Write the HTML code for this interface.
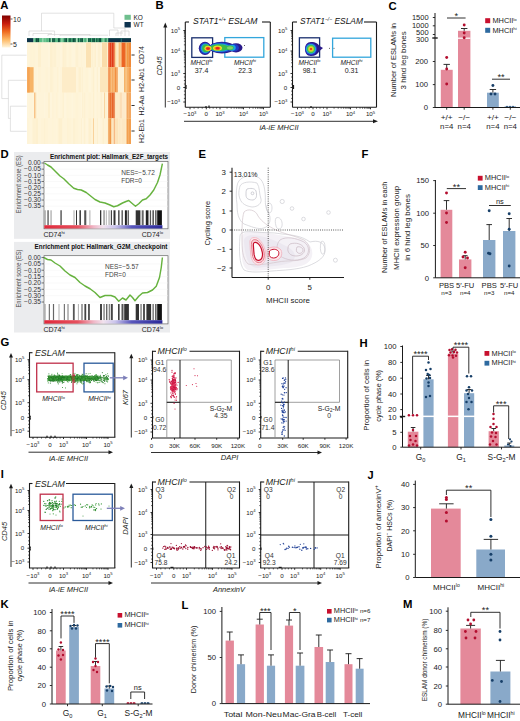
<!DOCTYPE html>
<html><head><meta charset="utf-8"><style>
html,body{margin:0;padding:0;background:#fff;}
svg{display:block;font-family:"Liberation Sans",sans-serif;}
</style></head><body>
<svg width="520" height="721" viewBox="0 0 520 721">
<defs>
<linearGradient id="cbar" x1="0" y1="0" x2="0" y2="1">
<stop offset="0" stop-color="#7f0000"/><stop offset="0.25" stop-color="#c81d0e"/><stop offset="0.5" stop-color="#ef6a1f"/><stop offset="0.75" stop-color="#fdb863"/><stop offset="1" stop-color="#fff5dc"/>
</linearGradient>
<linearGradient id="rb" x1="0" y1="0" x2="1" y2="0">
<stop offset="0" stop-color="#e0283a"/><stop offset="0.28" stop-color="#e6505e"/><stop offset="0.42" stop-color="#f0b8c8"/><stop offset="0.5" stop-color="#f1e2ee"/><stop offset="0.6" stop-color="#cac4ec"/><stop offset="0.74" stop-color="#5856bc"/><stop offset="1" stop-color="#2a2898"/>
</linearGradient>
</defs>
<text x="0.3" y="9.3" font-size="11.3" text-anchor="start" font-weight="bold" fill="#000">A</text>
<rect x="2" y="15.5" width="8.5" height="32" fill="url(#cbar)"/>
<line x1="10.5" y1="19" x2="12.5" y2="19" stroke="#1a1a1a" stroke-width="0.7"/>
<line x1="10.5" y1="44" x2="12.5" y2="44" stroke="#1a1a1a" stroke-width="0.7"/>
<text x="13" y="21.5" font-size="7" text-anchor="start" fill="#222">10</text>
<text x="13" y="46.5" font-size="7" text-anchor="start" fill="#222">5</text>
<rect x="124.5" y="14.8" width="6.3" height="5" fill="#6fbf8e"/>
<rect x="124.5" y="22.0" width="6.3" height="5.5" fill="#0e3450"/>
<text x="133.5" y="19.8" font-size="6.5" text-anchor="start" fill="#222">KO</text>
<text x="133.5" y="27.3" font-size="6.5" text-anchor="start" fill="#222">WT</text>
<path d="M41.50,31.00 L41.50,13.20 L113.80,13.20 L113.80,26.00" fill="none" stroke="#cfcfcf" stroke-width="0.6"/>
<path d="M29.00,36.00 L29.00,31.00 L54.60,31.00 L54.60,36.00" fill="none" stroke="#cfcfcf" stroke-width="0.6"/>
<path d="M33.00,36.00 L33.00,33.50 L52.00,33.50" fill="none" stroke="#cfcfcf" stroke-width="0.6"/>
<path d="M48.00,36.00 L48.00,34.50 L90.00,34.50 L90.00,36.00" fill="none" stroke="#cfcfcf" stroke-width="0.6"/>
<path d="M60.00,36.00 L60.00,35.20 L108.00,35.20" fill="none" stroke="#cfcfcf" stroke-width="0.6"/>
<path d="M109.50,36.00 L109.50,30.00 L118.00,30.00 L118.00,36.00" fill="none" stroke="#cfcfcf" stroke-width="0.6"/>
<path d="M113.80,26.00 L113.80,28.00 L125.00,28.00 L125.00,36.00" fill="none" stroke="#cfcfcf" stroke-width="0.6"/>
<path d="M121.00,36.00 L121.00,31.00 L129.00,31.00 L129.00,36.00" fill="none" stroke="#cfcfcf" stroke-width="0.6"/>
<path d="M116.00,36.00 L116.00,33.00 L123.00,33.00" fill="none" stroke="#cfcfcf" stroke-width="0.6"/>
<path d="M26.60,55.20 L1.80,55.20 L1.80,98.60 L8.40,98.60" fill="none" stroke="#cfcfcf" stroke-width="0.6"/>
<path d="M26.60,80.30 L8.40,80.30 L8.40,118.40 L10.40,118.40" fill="none" stroke="#cfcfcf" stroke-width="0.6"/>
<path d="M26.60,106.20 L10.40,106.20 L10.40,131.30 L26.60,131.30" fill="none" stroke="#cfcfcf" stroke-width="0.6"/>
<rect x="27.0" y="38.2" width="104.0" height="4.3" fill="#4fae7c"/>
<rect x="27" y="38.2" width="6.5" height="4.3" fill="#0d3248"/>
<rect x="33.5" y="38.2" width="1.0" height="4.3" fill="#a6e0b8"/>
<rect x="34.5" y="38.2" width="1.2" height="4.3" fill="#5fbf88"/>
<rect x="35.7" y="38.2" width="2.0" height="4.3" fill="#0b4d3b"/>
<rect x="37.7" y="38.2" width="1.5" height="4.3" fill="#0b4d3b"/>
<rect x="39.2" y="38.2" width="1.0" height="4.3" fill="#5fbf88"/>
<rect x="40.2" y="38.2" width="2.0" height="4.3" fill="#5fbf88"/>
<rect x="42.2" y="38.2" width="1.5" height="4.3" fill="#a6e0b8"/>
<rect x="43.7" y="38.2" width="1.0" height="4.3" fill="#5fbf88"/>
<rect x="44.7" y="38.2" width="0.8" height="4.3" fill="#7ccf9c"/>
<rect x="45.5" y="38.2" width="1.0" height="4.3" fill="#7ccf9c"/>
<rect x="46.5" y="38.2" width="1.2" height="4.3" fill="#4fae7c"/>
<rect x="47.7" y="38.2" width="1.5" height="4.3" fill="#5fbf88"/>
<rect x="49.2" y="38.2" width="1.5" height="4.3" fill="#0e5440"/>
<rect x="50.7" y="38.2" width="1.5" height="4.3" fill="#a6e0b8"/>
<rect x="52.2" y="38.2" width="1.2" height="4.3" fill="#0b4d3b"/>
<rect x="53.4" y="38.2" width="1.5" height="4.3" fill="#0e5440"/>
<rect x="54.9" y="38.2" width="1.5" height="4.3" fill="#4fae7c"/>
<rect x="56.4" y="38.2" width="1.5" height="4.3" fill="#5fbf88"/>
<rect x="57.9" y="38.2" width="2.0" height="4.3" fill="#0e5440"/>
<rect x="59.9" y="38.2" width="1.5" height="4.3" fill="#4fae7c"/>
<rect x="61.4" y="38.2" width="0.8" height="4.3" fill="#a6e0b8"/>
<rect x="62.2" y="38.2" width="1.2" height="4.3" fill="#7ccf9c"/>
<rect x="63.4" y="38.2" width="1.0" height="4.3" fill="#4fae7c"/>
<rect x="64.4" y="38.2" width="1.2" height="4.3" fill="#125e45"/>
<rect x="65.6" y="38.2" width="1.5" height="4.3" fill="#0b4d3b"/>
<rect x="67.1" y="38.2" width="1.5" height="4.3" fill="#7ccf9c"/>
<rect x="68.6" y="38.2" width="1.2" height="4.3" fill="#125e45"/>
<rect x="69.8" y="38.2" width="0.8" height="4.3" fill="#0e5440"/>
<rect x="70.6" y="38.2" width="0.8" height="4.3" fill="#0e5440"/>
<rect x="71.4" y="38.2" width="1.2" height="4.3" fill="#4fae7c"/>
<rect x="72.6" y="38.2" width="2.0" height="4.3" fill="#0b4d3b"/>
<rect x="74.6" y="38.2" width="1.2" height="4.3" fill="#0b4d3b"/>
<rect x="75.8" y="38.2" width="2.0" height="4.3" fill="#a6e0b8"/>
<rect x="77.8" y="38.2" width="1.5" height="4.3" fill="#125e45"/>
<rect x="79.3" y="38.2" width="1.0" height="4.3" fill="#4fae7c"/>
<rect x="80.3" y="38.2" width="1.2" height="4.3" fill="#0b4d3b"/>
<rect x="81.5" y="38.2" width="1.5" height="4.3" fill="#0e5440"/>
<rect x="83.0" y="38.2" width="1.5" height="4.3" fill="#7ccf9c"/>
<rect x="84.5" y="38.2" width="2.0" height="4.3" fill="#4fae7c"/>
<rect x="86.5" y="38.2" width="1.5" height="4.3" fill="#a6e0b8"/>
<rect x="88.0" y="38.2" width="1.2" height="4.3" fill="#125e45"/>
<rect x="89.2" y="38.2" width="2.0" height="4.3" fill="#125e45"/>
<rect x="91.2" y="38.2" width="0.8" height="4.3" fill="#4fae7c"/>
<rect x="92.0" y="38.2" width="0.8" height="4.3" fill="#0e5440"/>
<rect x="92.8" y="38.2" width="1.0" height="4.3" fill="#0e5440"/>
<rect x="93.8" y="38.2" width="1.2" height="4.3" fill="#0e5440"/>
<rect x="95.0" y="38.2" width="1.2" height="4.3" fill="#4fae7c"/>
<rect x="96.2" y="38.2" width="1.5" height="4.3" fill="#0b4d3b"/>
<rect x="97.7" y="38.2" width="0.8" height="4.3" fill="#4fae7c"/>
<rect x="98.5" y="38.2" width="1.5" height="4.3" fill="#0e5440"/>
<rect x="100.0" y="38.2" width="1.2" height="4.3" fill="#0b4d3b"/>
<rect x="101.2" y="38.2" width="1.2" height="4.3" fill="#4fae7c"/>
<rect x="102.4" y="38.2" width="1.2" height="4.3" fill="#7ccf9c"/>
<rect x="103.6" y="38.2" width="0.8" height="4.3" fill="#a6e0b8"/>
<rect x="104.4" y="38.2" width="1.2" height="4.3" fill="#4fae7c"/>
<rect x="105.6" y="38.2" width="1.0" height="4.3" fill="#0e5440"/>
<rect x="106.6" y="38.2" width="1.5" height="4.3" fill="#7ccf9c"/>
<rect x="108.1" y="38.2" width="0.8" height="4.3" fill="#4fae7c"/>
<rect x="108.3" y="38.2" width="22.700000000000003" height="4.3" fill="#0c3247"/>
<rect x="120.7" y="38.2" width="1.3" height="4.3" fill="#1f6a6a"/>
<rect x="27.0" y="42.5" width="104.0" height="101.5" fill="#fef4d8"/>
<rect x="27.0" y="42.5" width="2.5" height="24.7" fill="#fef4d9"/>
<rect x="27.0" y="67.2" width="2.5" height="25.3" fill="#fef5dc"/>
<rect x="27.0" y="92.5" width="2.5" height="25.8" fill="#fef5dc"/>
<rect x="27.0" y="118.3" width="2.5" height="25.7" fill="#fef4d9"/>
<rect x="29.5" y="42.5" width="3" height="24.7" fill="#fef3d6"/>
<rect x="29.5" y="67.2" width="3" height="25.3" fill="#fef3d6"/>
<rect x="29.5" y="92.5" width="3" height="25.8" fill="#fef4d9"/>
<rect x="29.5" y="118.3" width="3" height="25.7" fill="#fef5dc"/>
<rect x="32.5" y="42.5" width="3" height="24.7" fill="#fef3d6"/>
<rect x="32.5" y="67.2" width="3" height="25.3" fill="#fef4d9"/>
<rect x="32.5" y="92.5" width="3" height="25.8" fill="#fef5dc"/>
<rect x="32.5" y="118.3" width="3" height="25.7" fill="#fdf1d2"/>
<rect x="35.5" y="42.5" width="1.5" height="24.7" fill="#fef4d9"/>
<rect x="35.5" y="67.2" width="1.5" height="25.3" fill="#fef4d9"/>
<rect x="35.5" y="92.5" width="1.5" height="25.8" fill="#fdf0cf"/>
<rect x="35.5" y="118.3" width="1.5" height="25.7" fill="#fdf0cf"/>
<rect x="37.0" y="42.5" width="1" height="24.7" fill="#fef4d9"/>
<rect x="37.0" y="67.2" width="1" height="25.3" fill="#fef5dc"/>
<rect x="37.0" y="92.5" width="1" height="25.8" fill="#fef5dc"/>
<rect x="37.0" y="118.3" width="1" height="25.7" fill="#fdf0cf"/>
<rect x="38.0" y="42.5" width="3" height="24.7" fill="#fdf0cf"/>
<rect x="38.0" y="67.2" width="3" height="25.3" fill="#fef3d6"/>
<rect x="38.0" y="92.5" width="3" height="25.8" fill="#fef4d9"/>
<rect x="38.0" y="118.3" width="3" height="25.7" fill="#fef4d9"/>
<rect x="41.0" y="42.5" width="3" height="24.7" fill="#fef4d9"/>
<rect x="41.0" y="67.2" width="3" height="25.3" fill="#fef4d9"/>
<rect x="41.0" y="92.5" width="3" height="25.8" fill="#fef4d9"/>
<rect x="41.0" y="118.3" width="3" height="25.7" fill="#fef3d6"/>
<rect x="44.0" y="42.5" width="1.5" height="24.7" fill="#fef4d9"/>
<rect x="44.0" y="67.2" width="1.5" height="25.3" fill="#fef4d9"/>
<rect x="44.0" y="92.5" width="1.5" height="25.8" fill="#fef5dc"/>
<rect x="44.0" y="118.3" width="1.5" height="25.7" fill="#fdf1d2"/>
<rect x="45.5" y="42.5" width="2.5" height="24.7" fill="#fef4d9"/>
<rect x="45.5" y="67.2" width="2.5" height="25.3" fill="#fef3d6"/>
<rect x="45.5" y="92.5" width="2.5" height="25.8" fill="#fef4d9"/>
<rect x="45.5" y="118.3" width="2.5" height="25.7" fill="#fef3d6"/>
<rect x="48.0" y="42.5" width="2" height="24.7" fill="#fef5dc"/>
<rect x="48.0" y="67.2" width="2" height="25.3" fill="#fef4d9"/>
<rect x="48.0" y="92.5" width="2" height="25.8" fill="#fdf0cf"/>
<rect x="48.0" y="118.3" width="2" height="25.7" fill="#fef4d9"/>
<rect x="50.0" y="42.5" width="2.5" height="24.7" fill="#fdf0cf"/>
<rect x="50.0" y="67.2" width="2.5" height="25.3" fill="#fdf1d2"/>
<rect x="50.0" y="92.5" width="2.5" height="25.8" fill="#fef5dc"/>
<rect x="50.0" y="118.3" width="2.5" height="25.7" fill="#fef4d9"/>
<rect x="52.5" y="42.5" width="1" height="24.7" fill="#fdf0cf"/>
<rect x="52.5" y="67.2" width="1" height="25.3" fill="#fdf1d2"/>
<rect x="52.5" y="92.5" width="1" height="25.8" fill="#fdf1d2"/>
<rect x="52.5" y="118.3" width="1" height="25.7" fill="#fef3d6"/>
<rect x="53.5" y="42.5" width="3" height="24.7" fill="#fdf1d2"/>
<rect x="53.5" y="67.2" width="3" height="25.3" fill="#fef4d9"/>
<rect x="53.5" y="92.5" width="3" height="25.8" fill="#fef4d9"/>
<rect x="53.5" y="118.3" width="3" height="25.7" fill="#fef4d9"/>
<rect x="56.5" y="42.5" width="1" height="24.7" fill="#fef5dc"/>
<rect x="56.5" y="67.2" width="1" height="25.3" fill="#fef4d9"/>
<rect x="56.5" y="92.5" width="1" height="25.8" fill="#fdf1d2"/>
<rect x="56.5" y="118.3" width="1" height="25.7" fill="#fef5dc"/>
<rect x="57.5" y="42.5" width="1" height="24.7" fill="#fef4d9"/>
<rect x="57.5" y="67.2" width="1" height="25.3" fill="#fdf0cf"/>
<rect x="57.5" y="92.5" width="1" height="25.8" fill="#fef4d9"/>
<rect x="57.5" y="118.3" width="1" height="25.7" fill="#fef3d6"/>
<rect x="58.5" y="42.5" width="1.5" height="24.7" fill="#fef4d9"/>
<rect x="58.5" y="67.2" width="1.5" height="25.3" fill="#fef5dc"/>
<rect x="58.5" y="92.5" width="1.5" height="25.8" fill="#fef5dc"/>
<rect x="58.5" y="118.3" width="1.5" height="25.7" fill="#fdf0cf"/>
<rect x="60.0" y="42.5" width="2.5" height="24.7" fill="#fef5dc"/>
<rect x="60.0" y="67.2" width="2.5" height="25.3" fill="#fef4d9"/>
<rect x="60.0" y="92.5" width="2.5" height="25.8" fill="#fef4d9"/>
<rect x="60.0" y="118.3" width="2.5" height="25.7" fill="#fdf0cf"/>
<rect x="62.5" y="42.5" width="1.5" height="24.7" fill="#fdf0cf"/>
<rect x="62.5" y="67.2" width="1.5" height="25.3" fill="#fdf1d2"/>
<rect x="62.5" y="92.5" width="1.5" height="25.8" fill="#fdf1d2"/>
<rect x="62.5" y="118.3" width="1.5" height="25.7" fill="#fef4d9"/>
<rect x="64.0" y="42.5" width="2" height="24.7" fill="#fdf1d2"/>
<rect x="64.0" y="67.2" width="2" height="25.3" fill="#fef4d9"/>
<rect x="64.0" y="92.5" width="2" height="25.8" fill="#fef5dc"/>
<rect x="64.0" y="118.3" width="2" height="25.7" fill="#fef4d9"/>
<rect x="66.0" y="42.5" width="1.5" height="24.7" fill="#fef3d6"/>
<rect x="66.0" y="67.2" width="1.5" height="25.3" fill="#fdf0cf"/>
<rect x="66.0" y="92.5" width="1.5" height="25.8" fill="#fef4d9"/>
<rect x="66.0" y="118.3" width="1.5" height="25.7" fill="#fef4d9"/>
<rect x="67.5" y="42.5" width="1" height="24.7" fill="#fef5dc"/>
<rect x="67.5" y="67.2" width="1" height="25.3" fill="#fef5dc"/>
<rect x="67.5" y="92.5" width="1" height="25.8" fill="#fef3d6"/>
<rect x="67.5" y="118.3" width="1" height="25.7" fill="#fdf0cf"/>
<rect x="68.5" y="42.5" width="3" height="24.7" fill="#fef3d6"/>
<rect x="68.5" y="67.2" width="3" height="25.3" fill="#fef5dc"/>
<rect x="68.5" y="92.5" width="3" height="25.8" fill="#fef4d9"/>
<rect x="68.5" y="118.3" width="3" height="25.7" fill="#fef3d6"/>
<rect x="71.5" y="42.5" width="1.5" height="24.7" fill="#fef5dc"/>
<rect x="71.5" y="67.2" width="1.5" height="25.3" fill="#fdf0cf"/>
<rect x="71.5" y="92.5" width="1.5" height="25.8" fill="#fef5dc"/>
<rect x="71.5" y="118.3" width="1.5" height="25.7" fill="#fef4d9"/>
<rect x="73.0" y="42.5" width="2.5" height="24.7" fill="#fef5dc"/>
<rect x="73.0" y="67.2" width="2.5" height="25.3" fill="#fef3d6"/>
<rect x="73.0" y="92.5" width="2.5" height="25.8" fill="#fef4d9"/>
<rect x="73.0" y="118.3" width="2.5" height="25.7" fill="#fdf1d2"/>
<rect x="75.5" y="42.5" width="3" height="24.7" fill="#fdf1d2"/>
<rect x="75.5" y="67.2" width="3" height="25.3" fill="#fef4d9"/>
<rect x="75.5" y="92.5" width="3" height="25.8" fill="#fef3d6"/>
<rect x="75.5" y="118.3" width="3" height="25.7" fill="#fef3d6"/>
<rect x="78.5" y="42.5" width="2.5" height="24.7" fill="#fef4d9"/>
<rect x="78.5" y="67.2" width="2.5" height="25.3" fill="#fdf0cf"/>
<rect x="78.5" y="92.5" width="2.5" height="25.8" fill="#fef4d9"/>
<rect x="78.5" y="118.3" width="2.5" height="25.7" fill="#fef4d9"/>
<rect x="81.0" y="42.5" width="1" height="24.7" fill="#fef3d6"/>
<rect x="81.0" y="67.2" width="1" height="25.3" fill="#fef3d6"/>
<rect x="81.0" y="92.5" width="1" height="25.8" fill="#fef5dc"/>
<rect x="81.0" y="118.3" width="1" height="25.7" fill="#fdf1d2"/>
<rect x="82.0" y="42.5" width="1" height="24.7" fill="#fef4d9"/>
<rect x="82.0" y="67.2" width="1" height="25.3" fill="#fdf1d2"/>
<rect x="82.0" y="92.5" width="1" height="25.8" fill="#fdf1d2"/>
<rect x="82.0" y="118.3" width="1" height="25.7" fill="#fef5dc"/>
<rect x="83.0" y="42.5" width="1" height="24.7" fill="#fef4d9"/>
<rect x="83.0" y="67.2" width="1" height="25.3" fill="#fef4d9"/>
<rect x="83.0" y="92.5" width="1" height="25.8" fill="#fef3d6"/>
<rect x="83.0" y="118.3" width="1" height="25.7" fill="#fef4d9"/>
<rect x="84.0" y="42.5" width="1.5" height="24.7" fill="#fef4d9"/>
<rect x="84.0" y="67.2" width="1.5" height="25.3" fill="#fef4d9"/>
<rect x="84.0" y="92.5" width="1.5" height="25.8" fill="#fdf1d2"/>
<rect x="84.0" y="118.3" width="1.5" height="25.7" fill="#fdf1d2"/>
<rect x="85.5" y="42.5" width="3" height="24.7" fill="#fef5dc"/>
<rect x="85.5" y="67.2" width="3" height="25.3" fill="#fef3d6"/>
<rect x="85.5" y="92.5" width="3" height="25.8" fill="#fef4d9"/>
<rect x="85.5" y="118.3" width="3" height="25.7" fill="#fef5dc"/>
<rect x="88.5" y="42.5" width="3" height="24.7" fill="#fef3d6"/>
<rect x="88.5" y="67.2" width="3" height="25.3" fill="#fef5dc"/>
<rect x="88.5" y="92.5" width="3" height="25.8" fill="#fef3d6"/>
<rect x="88.5" y="118.3" width="3" height="25.7" fill="#fdf0cf"/>
<rect x="91.5" y="42.5" width="1.5" height="24.7" fill="#fdf1d2"/>
<rect x="91.5" y="67.2" width="1.5" height="25.3" fill="#fef3d6"/>
<rect x="91.5" y="92.5" width="1.5" height="25.8" fill="#fef4d9"/>
<rect x="91.5" y="118.3" width="1.5" height="25.7" fill="#fef3d6"/>
<rect x="93.0" y="42.5" width="1.5" height="24.7" fill="#fef3d6"/>
<rect x="93.0" y="67.2" width="1.5" height="25.3" fill="#fdf0cf"/>
<rect x="93.0" y="92.5" width="1.5" height="25.8" fill="#fdf0cf"/>
<rect x="93.0" y="118.3" width="1.5" height="25.7" fill="#fef4d9"/>
<rect x="94.5" y="42.5" width="1.5" height="24.7" fill="#fdf0cf"/>
<rect x="94.5" y="67.2" width="1.5" height="25.3" fill="#fef5dc"/>
<rect x="94.5" y="92.5" width="1.5" height="25.8" fill="#fef5dc"/>
<rect x="94.5" y="118.3" width="1.5" height="25.7" fill="#fef4d9"/>
<rect x="96.0" y="42.5" width="1" height="24.7" fill="#fef5dc"/>
<rect x="96.0" y="67.2" width="1" height="25.3" fill="#fef4d9"/>
<rect x="96.0" y="92.5" width="1" height="25.8" fill="#fef4d9"/>
<rect x="96.0" y="118.3" width="1" height="25.7" fill="#fef4d9"/>
<rect x="97.0" y="42.5" width="1" height="24.7" fill="#fef4d9"/>
<rect x="97.0" y="67.2" width="1" height="25.3" fill="#fdf1d2"/>
<rect x="97.0" y="92.5" width="1" height="25.8" fill="#fef3d6"/>
<rect x="97.0" y="118.3" width="1" height="25.7" fill="#fdf0cf"/>
<rect x="98.0" y="42.5" width="2.5" height="24.7" fill="#fdf1d2"/>
<rect x="98.0" y="67.2" width="2.5" height="25.3" fill="#fef5dc"/>
<rect x="98.0" y="92.5" width="2.5" height="25.8" fill="#fef4d9"/>
<rect x="98.0" y="118.3" width="2.5" height="25.7" fill="#fef5dc"/>
<rect x="100.5" y="42.5" width="2" height="24.7" fill="#fef4d9"/>
<rect x="100.5" y="67.2" width="2" height="25.3" fill="#fef3d6"/>
<rect x="100.5" y="92.5" width="2" height="25.8" fill="#fdf0cf"/>
<rect x="100.5" y="118.3" width="2" height="25.7" fill="#fef4d9"/>
<rect x="102.5" y="42.5" width="1.5" height="24.7" fill="#fef3d6"/>
<rect x="102.5" y="67.2" width="1.5" height="25.3" fill="#fef5dc"/>
<rect x="102.5" y="92.5" width="1.5" height="25.8" fill="#fef4d9"/>
<rect x="102.5" y="118.3" width="1.5" height="25.7" fill="#fdf0cf"/>
<rect x="104.0" y="42.5" width="3" height="24.7" fill="#fef4d9"/>
<rect x="104.0" y="67.2" width="3" height="25.3" fill="#fef4d9"/>
<rect x="104.0" y="92.5" width="3" height="25.8" fill="#fdf1d2"/>
<rect x="104.0" y="118.3" width="3" height="25.7" fill="#fef3d6"/>
<rect x="107.0" y="42.5" width="1.5" height="24.7" fill="#fdf0cf"/>
<rect x="107.0" y="67.2" width="1.5" height="25.3" fill="#fef4d9"/>
<rect x="107.0" y="92.5" width="1.5" height="25.8" fill="#fef4d9"/>
<rect x="107.0" y="118.3" width="1.5" height="25.7" fill="#fdf1d2"/>
<rect x="27.2" y="67.2" width="6.4" height="25.3" fill="#f7b467"/>
<rect x="27.2" y="67.2" width="2.5" height="25.3" fill="#f5a455"/>
<rect x="34" y="92.5" width="1.5" height="25.8" fill="#f8c488"/>
<rect x="62" y="67.2" width="14" height="25.3" fill="#fdecc8"/>
<rect x="86" y="42.5" width="5" height="25" fill="#fbe2b4"/>
<rect x="102" y="42.5" width="5" height="25" fill="#fadcaa"/>
<rect x="100" y="67.2" width="8" height="25" fill="#fce6bc"/>
<rect x="93" y="118.3" width="1" height="25.7" fill="#f9d39c"/>
<rect x="104" y="92.5" width="1" height="25.8" fill="#f9d5a0"/>
<rect x="108.3" y="42.5" width="1.5" height="24.7" fill="#e8481c"/>
<rect x="108.3" y="67.2" width="1.5" height="25.3" fill="#f07c34"/>
<rect x="108.3" y="92.5" width="1.5" height="25.8" fill="#e9702e"/>
<rect x="108.3" y="118.3" width="1.5" height="25.7" fill="#f09848"/>
<rect x="109.8" y="42.5" width="1.7" height="24.7" fill="#e23c18"/>
<rect x="109.8" y="67.2" width="1.7" height="25.3" fill="#f6ac62"/>
<rect x="109.8" y="92.5" width="1.7" height="25.8" fill="#e9702e"/>
<rect x="109.8" y="118.3" width="1.7" height="25.7" fill="#f09848"/>
<rect x="111.5" y="42.5" width="2.3" height="24.7" fill="#e03a16"/>
<rect x="111.5" y="67.2" width="2.3" height="25.3" fill="#f6ac62"/>
<rect x="111.5" y="92.5" width="2.3" height="25.8" fill="#e86428"/>
<rect x="111.5" y="118.3" width="2.3" height="25.7" fill="#fde6c0"/>
<rect x="113.8" y="42.5" width="1.0" height="24.7" fill="#e6521f"/>
<rect x="113.8" y="67.2" width="1.0" height="25.3" fill="#f6ac62"/>
<rect x="113.8" y="92.5" width="1.0" height="25.8" fill="#e05a1e"/>
<rect x="113.8" y="118.3" width="1.0" height="25.7" fill="#f3a060"/>
<rect x="114.8" y="42.5" width="1.7" height="24.7" fill="#fbd49a"/>
<rect x="114.8" y="67.2" width="1.7" height="25.3" fill="#f29040"/>
<rect x="114.8" y="92.5" width="1.7" height="25.8" fill="#fde6c0"/>
<rect x="114.8" y="118.3" width="1.7" height="25.7" fill="#fde2b8"/>
<rect x="116.5" y="42.5" width="1.3" height="24.7" fill="#fde8c0"/>
<rect x="116.5" y="67.2" width="1.3" height="25.3" fill="#f29040"/>
<rect x="116.5" y="92.5" width="1.3" height="25.8" fill="#fde8c4"/>
<rect x="116.5" y="118.3" width="1.3" height="25.7" fill="#fcdcae"/>
<rect x="117.8" y="42.5" width="0.8" height="24.7" fill="#fde8c0"/>
<rect x="117.8" y="67.2" width="0.8" height="25.3" fill="#fdf2d8"/>
<rect x="117.8" y="92.5" width="0.8" height="25.8" fill="#fde8c4"/>
<rect x="117.8" y="118.3" width="0.8" height="25.7" fill="#fde8c4"/>
<rect x="118.6" y="42.5" width="2.2" height="24.7" fill="#f9c07a"/>
<rect x="118.6" y="67.2" width="2.2" height="25.3" fill="#fdf2d8"/>
<rect x="118.6" y="92.5" width="2.2" height="25.8" fill="#fde8c4"/>
<rect x="118.6" y="118.3" width="2.2" height="25.7" fill="#fde8c4"/>
<rect x="120.8" y="42.5" width="0.7" height="24.7" fill="#f9c07a"/>
<rect x="120.8" y="67.2" width="0.7" height="25.3" fill="#fdf2d8"/>
<rect x="120.8" y="92.5" width="0.7" height="25.8" fill="#f5b070"/>
<rect x="120.8" y="118.3" width="0.7" height="25.7" fill="#fde8c4"/>
<rect x="121.5" y="42.5" width="2.5" height="24.7" fill="#ec6424"/>
<rect x="121.5" y="67.2" width="2.5" height="25.3" fill="#fdf2d8"/>
<rect x="121.5" y="92.5" width="2.5" height="25.8" fill="#fdeacb"/>
<rect x="121.5" y="118.3" width="2.5" height="25.7" fill="#fde8c4"/>
<rect x="124.0" y="42.5" width="1.7" height="24.7" fill="#ec6826"/>
<rect x="124.0" y="67.2" width="1.7" height="25.3" fill="#f6b46a"/>
<rect x="124.0" y="92.5" width="1.7" height="25.8" fill="#fdeacb"/>
<rect x="124.0" y="118.3" width="1.7" height="25.7" fill="#fde8c4"/>
<rect x="125.7" y="42.5" width="0.8" height="24.7" fill="#f39840"/>
<rect x="125.7" y="67.2" width="0.8" height="25.3" fill="#f6b46a"/>
<rect x="125.7" y="92.5" width="0.8" height="25.8" fill="#fdeacb"/>
<rect x="125.7" y="118.3" width="0.8" height="25.7" fill="#fde8c4"/>
<rect x="126.5" y="42.5" width="1.7" height="24.7" fill="#f39840"/>
<rect x="126.5" y="67.2" width="1.7" height="25.3" fill="#f6b46a"/>
<rect x="126.5" y="92.5" width="1.7" height="25.8" fill="#f4a860"/>
<rect x="126.5" y="118.3" width="1.7" height="25.7" fill="#f3a050"/>
<rect x="128.2" y="42.5" width="2.8" height="24.7" fill="#f08a38"/>
<rect x="128.2" y="67.2" width="2.8" height="25.3" fill="#f4a050"/>
<rect x="128.2" y="92.5" width="2.8" height="25.8" fill="#f4a860"/>
<rect x="128.2" y="118.3" width="2.8" height="25.7" fill="#f3a050"/>
<line x1="131.5" y1="55" x2="134.6" y2="55" stroke="#1a1a1a" stroke-width="0.9"/>
<text x="141.5" y="55" font-size="7" text-anchor="middle" fill="#222" transform="rotate(-90 141.5 55)" dominant-baseline="central">CD74</text>
<line x1="131.5" y1="80" x2="134.6" y2="80" stroke="#1a1a1a" stroke-width="0.9"/>
<text x="141.5" y="80" font-size="7" text-anchor="middle" fill="#222" transform="rotate(-90 141.5 80)" dominant-baseline="central">H2-Ab1</text>
<line x1="131.5" y1="105.5" x2="134.6" y2="105.5" stroke="#1a1a1a" stroke-width="0.9"/>
<text x="141.5" y="105.5" font-size="7" text-anchor="middle" fill="#222" transform="rotate(-90 141.5 105.5)" dominant-baseline="central">H2-Aa</text>
<line x1="131.5" y1="131" x2="134.6" y2="131" stroke="#1a1a1a" stroke-width="0.9"/>
<text x="141.5" y="131" font-size="7" text-anchor="middle" fill="#222" transform="rotate(-90 141.5 131)" dominant-baseline="central">H2-Eb1</text>
<text x="155.5" y="9.3" font-size="11.3" text-anchor="start" font-weight="bold" fill="#000">B</text>
<line x1="165.3" y1="26" x2="165.3" y2="107.5" stroke="#1a1a1a" stroke-width="0.9"/>
<path d="M163.3,27.5 L165.3,22.5 L167.3,27.5 Z" fill="#1a1a1a"/>
<text x="161.5" y="66" font-size="7.5" text-anchor="middle" font-style="italic" fill="#231f20" transform="rotate(-90 161.5 66)">CD45</text>
<line x1="184" y1="121.3" x2="375" y2="121.3" stroke="#1a1a1a" stroke-width="0.9"/>
<path d="M373,119.3 L378,121.3 L373,123.3 Z" fill="#1a1a1a"/>
<text x="279" y="129.5" font-size="7.5" text-anchor="middle" font-style="italic" fill="#231f20">iA-iE MHCII</text>
<line x1="185.3" y1="22" x2="185.3" y2="107.3" stroke="#1a1a1a" stroke-width="1.1"/>
<line x1="185.3" y1="107.3" x2="270.3" y2="107.3" stroke="#1a1a1a" stroke-width="1.1"/>
<line x1="270.3" y1="22" x2="270.3" y2="107.3" stroke="#1a1a1a" stroke-width="1.1"/>
<line x1="185.3" y1="22" x2="189" y2="22" stroke="#1a1a1a" stroke-width="1.1"/>
<line x1="262" y1="22" x2="270.3" y2="22" stroke="#1a1a1a" stroke-width="1.1"/>
<text x="193" y="23.8" font-size="8.8" text-anchor="start" font-style="italic" fill="#111" textLength="64.5" lengthAdjust="spacingAndGlyphs">STAT1<tspan dy="-3" font-size="5.2">+/+</tspan><tspan dy="3"> ESLAM</tspan></text>
<line x1="183.3" y1="30.5" x2="185.5" y2="30.5" stroke="#1a1a1a" stroke-width="0.9"/>
<text x="180.10000000000002" y="32.7" font-size="6.2" text-anchor="end" fill="#222">10<tspan dy="-2.6" font-size="4.2">5</tspan></text>
<line x1="183.3" y1="51" x2="185.5" y2="51" stroke="#1a1a1a" stroke-width="0.9"/>
<text x="180.10000000000002" y="53.2" font-size="6.2" text-anchor="end" fill="#222">10<tspan dy="-2.6" font-size="4.2">4</tspan></text>
<line x1="183.3" y1="73.5" x2="185.5" y2="73.5" stroke="#1a1a1a" stroke-width="0.9"/>
<text x="180.10000000000002" y="75.7" font-size="6.2" text-anchor="end" fill="#222">10<tspan dy="-2.6" font-size="4.2">3</tspan></text>
<line x1="183.3" y1="87.5" x2="185.5" y2="87.5" stroke="#1a1a1a" stroke-width="0.9"/>
<text x="180.10000000000002" y="89.7" font-size="6.2" text-anchor="end" fill="#222">0</text>
<line x1="183.3" y1="102" x2="185.5" y2="102" stroke="#1a1a1a" stroke-width="0.9"/>
<text x="180.10000000000002" y="104.2" font-size="6.2" text-anchor="end" fill="#222">−10<tspan dy="-2.6" font-size="4.2">3</tspan></text>
<line x1="183.9" y1="44.83" x2="185.3" y2="44.83" stroke="#1a1a1a" stroke-width="0.7"/>
<line x1="183.9" y1="41.22" x2="185.3" y2="41.22" stroke="#1a1a1a" stroke-width="0.7"/>
<line x1="183.9" y1="38.66" x2="185.3" y2="38.66" stroke="#1a1a1a" stroke-width="0.7"/>
<line x1="183.9" y1="36.67" x2="185.3" y2="36.67" stroke="#1a1a1a" stroke-width="0.7"/>
<line x1="183.9" y1="35.05" x2="185.3" y2="35.05" stroke="#1a1a1a" stroke-width="0.7"/>
<line x1="183.9" y1="33.68" x2="185.3" y2="33.68" stroke="#1a1a1a" stroke-width="0.7"/>
<line x1="183.9" y1="32.49" x2="185.3" y2="32.49" stroke="#1a1a1a" stroke-width="0.7"/>
<line x1="183.9" y1="31.44" x2="185.3" y2="31.44" stroke="#1a1a1a" stroke-width="0.7"/>
<line x1="183.9" y1="66.73" x2="185.3" y2="66.73" stroke="#1a1a1a" stroke-width="0.7"/>
<line x1="183.9" y1="62.76" x2="185.3" y2="62.76" stroke="#1a1a1a" stroke-width="0.7"/>
<line x1="183.9" y1="59.95" x2="185.3" y2="59.95" stroke="#1a1a1a" stroke-width="0.7"/>
<line x1="183.9" y1="57.77" x2="185.3" y2="57.77" stroke="#1a1a1a" stroke-width="0.7"/>
<line x1="183.9" y1="55.99" x2="185.3" y2="55.99" stroke="#1a1a1a" stroke-width="0.7"/>
<line x1="183.9" y1="54.49" x2="185.3" y2="54.49" stroke="#1a1a1a" stroke-width="0.7"/>
<line x1="183.9" y1="53.18" x2="185.3" y2="53.18" stroke="#1a1a1a" stroke-width="0.7"/>
<line x1="183.9" y1="52.03" x2="185.3" y2="52.03" stroke="#1a1a1a" stroke-width="0.7"/>
<line x1="183.9" y1="84.0" x2="185.3" y2="84.0" stroke="#1a1a1a" stroke-width="0.7"/>
<line x1="183.9" y1="80.5" x2="185.3" y2="80.5" stroke="#1a1a1a" stroke-width="0.7"/>
<line x1="183.9" y1="77.0" x2="185.3" y2="77.0" stroke="#1a1a1a" stroke-width="0.7"/>
<line x1="183.9" y1="98.38" x2="185.3" y2="98.38" stroke="#1a1a1a" stroke-width="0.7"/>
<line x1="183.9" y1="94.75" x2="185.3" y2="94.75" stroke="#1a1a1a" stroke-width="0.7"/>
<line x1="183.9" y1="91.12" x2="185.3" y2="91.12" stroke="#1a1a1a" stroke-width="0.7"/>
<line x1="227.07" y1="107.3" x2="227.07" y2="108.7" stroke="#1a1a1a" stroke-width="0.7"/>
<line x1="231.21" y1="107.3" x2="231.21" y2="108.7" stroke="#1a1a1a" stroke-width="0.7"/>
<line x1="234.15" y1="107.3" x2="234.15" y2="108.7" stroke="#1a1a1a" stroke-width="0.7"/>
<line x1="236.43" y1="107.3" x2="236.43" y2="108.7" stroke="#1a1a1a" stroke-width="0.7"/>
<line x1="238.29" y1="107.3" x2="238.29" y2="108.7" stroke="#1a1a1a" stroke-width="0.7"/>
<line x1="239.86" y1="107.3" x2="239.86" y2="108.7" stroke="#1a1a1a" stroke-width="0.7"/>
<line x1="241.22" y1="107.3" x2="241.22" y2="108.7" stroke="#1a1a1a" stroke-width="0.7"/>
<line x1="242.42" y1="107.3" x2="242.42" y2="108.7" stroke="#1a1a1a" stroke-width="0.7"/>
<line x1="249.52" y1="107.3" x2="249.52" y2="108.7" stroke="#1a1a1a" stroke-width="0.7"/>
<line x1="253.04" y1="107.3" x2="253.04" y2="108.7" stroke="#1a1a1a" stroke-width="0.7"/>
<line x1="255.54" y1="107.3" x2="255.54" y2="108.7" stroke="#1a1a1a" stroke-width="0.7"/>
<line x1="257.48" y1="107.3" x2="257.48" y2="108.7" stroke="#1a1a1a" stroke-width="0.7"/>
<line x1="259.06" y1="107.3" x2="259.06" y2="108.7" stroke="#1a1a1a" stroke-width="0.7"/>
<line x1="260.4" y1="107.3" x2="260.4" y2="108.7" stroke="#1a1a1a" stroke-width="0.7"/>
<line x1="261.56" y1="107.3" x2="261.56" y2="108.7" stroke="#1a1a1a" stroke-width="0.7"/>
<line x1="262.58" y1="107.3" x2="262.58" y2="108.7" stroke="#1a1a1a" stroke-width="0.7"/>
<line x1="194.07" y1="107.3" x2="194.07" y2="108.7" stroke="#1a1a1a" stroke-width="0.7"/>
<line x1="198.15" y1="107.3" x2="198.15" y2="108.7" stroke="#1a1a1a" stroke-width="0.7"/>
<line x1="202.23" y1="107.3" x2="202.23" y2="108.7" stroke="#1a1a1a" stroke-width="0.7"/>
<line x1="209.73" y1="107.3" x2="209.73" y2="108.7" stroke="#1a1a1a" stroke-width="0.7"/>
<line x1="213.15" y1="107.3" x2="213.15" y2="108.7" stroke="#1a1a1a" stroke-width="0.7"/>
<line x1="216.57" y1="107.3" x2="216.57" y2="108.7" stroke="#1a1a1a" stroke-width="0.7"/>
<line x1="190" y1="107.5" x2="190" y2="109.3" stroke="#1a1a1a" stroke-width="0.9"/>
<text x="190" y="116.1" font-size="6.2" text-anchor="middle" fill="#222">−10<tspan dy="-2.6" font-size="4.2">3</tspan></text>
<line x1="206.3" y1="107.5" x2="206.3" y2="109.3" stroke="#1a1a1a" stroke-width="0.9"/>
<text x="206.3" y="116.1" font-size="6.2" text-anchor="middle" fill="#222">0</text>
<line x1="220" y1="107.5" x2="220" y2="109.3" stroke="#1a1a1a" stroke-width="0.9"/>
<text x="220" y="116.1" font-size="6.2" text-anchor="middle" fill="#222">10<tspan dy="-2.6" font-size="4.2">3</tspan></text>
<line x1="243.5" y1="107.5" x2="243.5" y2="109.3" stroke="#1a1a1a" stroke-width="0.9"/>
<text x="243.5" y="116.1" font-size="6.2" text-anchor="middle" fill="#222">10<tspan dy="-2.6" font-size="4.2">4</tspan></text>
<line x1="263.5" y1="107.5" x2="263.5" y2="109.3" stroke="#1a1a1a" stroke-width="0.9"/>
<text x="263.5" y="116.1" font-size="6.2" text-anchor="middle" fill="#222">10<tspan dy="-2.6" font-size="4.2">5</tspan></text>
<line x1="292.5" y1="22" x2="292.5" y2="107.3" stroke="#1a1a1a" stroke-width="1.1"/>
<line x1="292.5" y1="107.3" x2="376.5" y2="107.3" stroke="#1a1a1a" stroke-width="1.1"/>
<line x1="376.5" y1="22" x2="376.5" y2="107.3" stroke="#1a1a1a" stroke-width="1.1"/>
<line x1="292.5" y1="22" x2="297" y2="22" stroke="#1a1a1a" stroke-width="1.1"/>
<line x1="364" y1="22" x2="376.5" y2="22" stroke="#1a1a1a" stroke-width="1.1"/>
<text x="300" y="23.8" font-size="8.8" text-anchor="start" font-style="italic" fill="#111" textLength="63" lengthAdjust="spacingAndGlyphs">STAT1<tspan dy="-3" font-size="5.2">−/−</tspan><tspan dy="3"> ESLAM</tspan></text>
<line x1="290.5" y1="30.5" x2="292.7" y2="30.5" stroke="#1a1a1a" stroke-width="0.9"/>
<text x="287.3" y="32.7" font-size="6.2" text-anchor="end" fill="#222">10<tspan dy="-2.6" font-size="4.2">5</tspan></text>
<line x1="290.5" y1="51" x2="292.7" y2="51" stroke="#1a1a1a" stroke-width="0.9"/>
<text x="287.3" y="53.2" font-size="6.2" text-anchor="end" fill="#222">10<tspan dy="-2.6" font-size="4.2">4</tspan></text>
<line x1="290.5" y1="73.5" x2="292.7" y2="73.5" stroke="#1a1a1a" stroke-width="0.9"/>
<text x="287.3" y="75.7" font-size="6.2" text-anchor="end" fill="#222">10<tspan dy="-2.6" font-size="4.2">3</tspan></text>
<line x1="290.5" y1="87.5" x2="292.7" y2="87.5" stroke="#1a1a1a" stroke-width="0.9"/>
<text x="287.3" y="89.7" font-size="6.2" text-anchor="end" fill="#222">0</text>
<line x1="290.5" y1="102" x2="292.7" y2="102" stroke="#1a1a1a" stroke-width="0.9"/>
<text x="287.3" y="104.2" font-size="6.2" text-anchor="end" fill="#222">−10<tspan dy="-2.6" font-size="4.2">3</tspan></text>
<line x1="291.1" y1="44.83" x2="292.5" y2="44.83" stroke="#1a1a1a" stroke-width="0.7"/>
<line x1="291.1" y1="41.22" x2="292.5" y2="41.22" stroke="#1a1a1a" stroke-width="0.7"/>
<line x1="291.1" y1="38.66" x2="292.5" y2="38.66" stroke="#1a1a1a" stroke-width="0.7"/>
<line x1="291.1" y1="36.67" x2="292.5" y2="36.67" stroke="#1a1a1a" stroke-width="0.7"/>
<line x1="291.1" y1="35.05" x2="292.5" y2="35.05" stroke="#1a1a1a" stroke-width="0.7"/>
<line x1="291.1" y1="33.68" x2="292.5" y2="33.68" stroke="#1a1a1a" stroke-width="0.7"/>
<line x1="291.1" y1="32.49" x2="292.5" y2="32.49" stroke="#1a1a1a" stroke-width="0.7"/>
<line x1="291.1" y1="31.44" x2="292.5" y2="31.44" stroke="#1a1a1a" stroke-width="0.7"/>
<line x1="291.1" y1="66.73" x2="292.5" y2="66.73" stroke="#1a1a1a" stroke-width="0.7"/>
<line x1="291.1" y1="62.76" x2="292.5" y2="62.76" stroke="#1a1a1a" stroke-width="0.7"/>
<line x1="291.1" y1="59.95" x2="292.5" y2="59.95" stroke="#1a1a1a" stroke-width="0.7"/>
<line x1="291.1" y1="57.77" x2="292.5" y2="57.77" stroke="#1a1a1a" stroke-width="0.7"/>
<line x1="291.1" y1="55.99" x2="292.5" y2="55.99" stroke="#1a1a1a" stroke-width="0.7"/>
<line x1="291.1" y1="54.49" x2="292.5" y2="54.49" stroke="#1a1a1a" stroke-width="0.7"/>
<line x1="291.1" y1="53.18" x2="292.5" y2="53.18" stroke="#1a1a1a" stroke-width="0.7"/>
<line x1="291.1" y1="52.03" x2="292.5" y2="52.03" stroke="#1a1a1a" stroke-width="0.7"/>
<line x1="291.1" y1="84.0" x2="292.5" y2="84.0" stroke="#1a1a1a" stroke-width="0.7"/>
<line x1="291.1" y1="80.5" x2="292.5" y2="80.5" stroke="#1a1a1a" stroke-width="0.7"/>
<line x1="291.1" y1="77.0" x2="292.5" y2="77.0" stroke="#1a1a1a" stroke-width="0.7"/>
<line x1="291.1" y1="98.38" x2="292.5" y2="98.38" stroke="#1a1a1a" stroke-width="0.7"/>
<line x1="291.1" y1="94.75" x2="292.5" y2="94.75" stroke="#1a1a1a" stroke-width="0.7"/>
<line x1="291.1" y1="91.12" x2="292.5" y2="91.12" stroke="#1a1a1a" stroke-width="0.7"/>
<line x1="334.07" y1="107.3" x2="334.07" y2="108.7" stroke="#1a1a1a" stroke-width="0.7"/>
<line x1="338.21" y1="107.3" x2="338.21" y2="108.7" stroke="#1a1a1a" stroke-width="0.7"/>
<line x1="341.15" y1="107.3" x2="341.15" y2="108.7" stroke="#1a1a1a" stroke-width="0.7"/>
<line x1="343.43" y1="107.3" x2="343.43" y2="108.7" stroke="#1a1a1a" stroke-width="0.7"/>
<line x1="345.29" y1="107.3" x2="345.29" y2="108.7" stroke="#1a1a1a" stroke-width="0.7"/>
<line x1="346.86" y1="107.3" x2="346.86" y2="108.7" stroke="#1a1a1a" stroke-width="0.7"/>
<line x1="348.22" y1="107.3" x2="348.22" y2="108.7" stroke="#1a1a1a" stroke-width="0.7"/>
<line x1="349.42" y1="107.3" x2="349.42" y2="108.7" stroke="#1a1a1a" stroke-width="0.7"/>
<line x1="356.52" y1="107.3" x2="356.52" y2="108.7" stroke="#1a1a1a" stroke-width="0.7"/>
<line x1="360.04" y1="107.3" x2="360.04" y2="108.7" stroke="#1a1a1a" stroke-width="0.7"/>
<line x1="362.54" y1="107.3" x2="362.54" y2="108.7" stroke="#1a1a1a" stroke-width="0.7"/>
<line x1="364.48" y1="107.3" x2="364.48" y2="108.7" stroke="#1a1a1a" stroke-width="0.7"/>
<line x1="366.06" y1="107.3" x2="366.06" y2="108.7" stroke="#1a1a1a" stroke-width="0.7"/>
<line x1="367.4" y1="107.3" x2="367.4" y2="108.7" stroke="#1a1a1a" stroke-width="0.7"/>
<line x1="368.56" y1="107.3" x2="368.56" y2="108.7" stroke="#1a1a1a" stroke-width="0.7"/>
<line x1="369.58" y1="107.3" x2="369.58" y2="108.7" stroke="#1a1a1a" stroke-width="0.7"/>
<line x1="301.38" y1="107.3" x2="301.38" y2="108.7" stroke="#1a1a1a" stroke-width="0.7"/>
<line x1="305.25" y1="107.3" x2="305.25" y2="108.7" stroke="#1a1a1a" stroke-width="0.7"/>
<line x1="309.12" y1="107.3" x2="309.12" y2="108.7" stroke="#1a1a1a" stroke-width="0.7"/>
<line x1="316.5" y1="107.3" x2="316.5" y2="108.7" stroke="#1a1a1a" stroke-width="0.7"/>
<line x1="320.0" y1="107.3" x2="320.0" y2="108.7" stroke="#1a1a1a" stroke-width="0.7"/>
<line x1="323.5" y1="107.3" x2="323.5" y2="108.7" stroke="#1a1a1a" stroke-width="0.7"/>
<line x1="297.5" y1="107.5" x2="297.5" y2="109.3" stroke="#1a1a1a" stroke-width="0.9"/>
<text x="297.5" y="116.1" font-size="6.2" text-anchor="middle" fill="#222">−10<tspan dy="-2.6" font-size="4.2">3</tspan></text>
<line x1="313" y1="107.5" x2="313" y2="109.3" stroke="#1a1a1a" stroke-width="0.9"/>
<text x="313" y="116.1" font-size="6.2" text-anchor="middle" fill="#222">0</text>
<line x1="327" y1="107.5" x2="327" y2="109.3" stroke="#1a1a1a" stroke-width="0.9"/>
<text x="327" y="116.1" font-size="6.2" text-anchor="middle" fill="#222">10<tspan dy="-2.6" font-size="4.2">3</tspan></text>
<line x1="350.5" y1="107.5" x2="350.5" y2="109.3" stroke="#1a1a1a" stroke-width="0.9"/>
<text x="350.5" y="116.1" font-size="6.2" text-anchor="middle" fill="#222">10<tspan dy="-2.6" font-size="4.2">4</tspan></text>
<line x1="370.5" y1="107.5" x2="370.5" y2="109.3" stroke="#1a1a1a" stroke-width="0.9"/>
<text x="370.5" y="116.1" font-size="6.2" text-anchor="middle" fill="#222">10<tspan dy="-2.6" font-size="4.2">5</tspan></text>
<rect x="191.8" y="37.8" width="20.8" height="19.6" fill="none" stroke="#1a2f6e" stroke-width="1.3"/>
<rect x="224.8" y="37.6" width="39" height="19.6" fill="none" stroke="#33a6dc" stroke-width="1.3"/>
<rect x="299.4" y="37.8" width="20.2" height="19.4" fill="none" stroke="#1a2f6e" stroke-width="1.3"/>
<rect x="332.6" y="38.2" width="38.2" height="19" fill="none" stroke="#33a6dc" stroke-width="1.3"/>
<ellipse cx="205" cy="48.3" rx="6.2" ry="6.6" fill="#2a1a8a"/>
<ellipse cx="222" cy="47.6" rx="13" ry="5.8" fill="#2a1a8a"/>
<ellipse cx="236" cy="47.8" rx="6.5" ry="4.6" fill="#2a1a8a"/>
<ellipse cx="205" cy="48.3" rx="5.4" ry="5.8" fill="#1e3ec8"/>
<ellipse cx="221" cy="47.6" rx="12" ry="5.0" fill="#1e3ec8"/>
<ellipse cx="234" cy="47.8" rx="5" ry="3.7" fill="#1e3ec8"/>
<ellipse cx="205.5" cy="48.3" rx="4.6" ry="4.9" fill="#1aa5e0"/>
<ellipse cx="220" cy="47.6" rx="10.5" ry="4.2" fill="#1aa5e0"/>
<ellipse cx="232" cy="47.8" rx="3.8" ry="3.0" fill="#1aa5e0"/>
<ellipse cx="206" cy="48.3" rx="3.8" ry="4.0" fill="#3dbb4a"/>
<ellipse cx="219" cy="47.6" rx="9.5" ry="3.4" fill="#3dbb4a"/>
<ellipse cx="229.5" cy="47.8" rx="4.2" ry="2.4" fill="#3dbb4a"/>
<ellipse cx="208" cy="48.3" rx="3.5" ry="2.6" fill="#f0e428"/>
<ellipse cx="217.5" cy="48.0" rx="4.5" ry="2.6" fill="#f0e428"/>
<ellipse cx="208" cy="48.5" rx="2.7" ry="1.9" fill="#f5961e"/>
<ellipse cx="217.5" cy="48.2" rx="3.2" ry="1.8" fill="#f5961e"/>
<ellipse cx="208" cy="48.6" rx="1.9" ry="1.3" fill="#e8231e"/>
<ellipse cx="217.6" cy="48.3" rx="2.1" ry="1.2" fill="#e8231e"/>
<ellipse cx="230" cy="47.8" rx="3" ry="1.6" fill="#7bd36a"/>
<circle cx="244.5" cy="45.6" r="0.5" fill="#333"/>
<path d="M311,42 C316,42 318,44 319.5,46 L323,48 L319.5,51 C318,54 315,56 311,56 C306.5,56 305,52.5 305,49 C305,45 307,42 311,42 Z" fill="#2a1a8a"/>
<circle cx="311" cy="49" r="6.0" fill="#2a3ed0"/>
<circle cx="311" cy="49" r="5.1" fill="#22a8e6"/>
<circle cx="311" cy="49" r="4.2" fill="#3fbf55"/>
<circle cx="311" cy="49" r="3.0" fill="#a8d83a"/>
<circle cx="311" cy="49" r="2.2" fill="#f2d52a"/>
<circle cx="311" cy="49" r="1.6" fill="#f59a1e"/>
<circle cx="311" cy="49" r="1.0" fill="#e8231e"/>
<circle cx="329.5" cy="48.3" r="0.5" fill="#333"/>
<circle cx="334" cy="48.3" r="0.5" fill="#333"/>
<text x="201.5" y="64.5" font-size="6.6" text-anchor="middle" font-style="italic" fill="#222">MHCII<tspan dy="-2.4" font-size="4.3">lo</tspan></text>
<text x="201.5" y="73" font-size="7" text-anchor="middle" fill="#222">37.4</text>
<text x="245" y="64.5" font-size="6.6" text-anchor="middle" font-style="italic" fill="#222">MHCII<tspan dy="-2.4" font-size="4.3">hi</tspan></text>
<text x="245" y="73" font-size="7" text-anchor="middle" fill="#222">22.3</text>
<text x="309.5" y="64.5" font-size="6.6" text-anchor="middle" font-style="italic" fill="#222">MHCII<tspan dy="-2.4" font-size="4.3">lo</tspan></text>
<text x="309.5" y="73" font-size="7" text-anchor="middle" fill="#222">98.1</text>
<text x="351.5" y="64.5" font-size="6.6" text-anchor="middle" font-style="italic" fill="#222">MHCII<tspan dy="-2.4" font-size="4.3">hi</tspan></text>
<text x="351.5" y="73" font-size="7" text-anchor="middle" fill="#222">0.31</text>
<rect x="185.4" y="85" width="1.2" height="2" fill="#1a1a1a"/>
<rect x="185.4" y="87" width="1.2" height="2" fill="#1a1a1a"/>
<rect x="292.9" y="85" width="1.2" height="2" fill="#1a1a1a"/>
<rect x="292.9" y="87" width="1.2" height="2" fill="#1a1a1a"/>
<rect x="205.4" y="106" width="1.2" height="2" fill="#1a1a1a"/>
<rect x="208.4" y="105.5" width="1.2" height="2" fill="#1a1a1a"/>
<rect x="310.4" y="106" width="1.2" height="2" fill="#1a1a1a"/>
<text x="388.5" y="9.6" font-size="11.3" text-anchor="start" font-weight="bold" fill="#000">C</text>
<rect x="440.8" y="69.8" width="11.9" height="37.7" fill="#e4899a"/>
<rect x="458" y="30.8" width="12.4" height="76.7" fill="#e4899a"/>
<rect x="487" y="92.7" width="11.8" height="14.8" fill="#89a9c9"/>
<rect x="504.6" y="106.3" width="11.4" height="1.2" fill="#89a9c9"/>
<rect x="458" y="37.6" width="12.4" height="1.2" fill="#fff"/>
<line x1="446.7" y1="69.8" x2="446.7" y2="64.4" stroke="#1a1a1a" stroke-width="0.9"/>
<line x1="443.5" y1="64.4" x2="449.9" y2="64.4" stroke="#1a1a1a" stroke-width="0.9"/>
<line x1="464.2" y1="30.8" x2="464.2" y2="28.5" stroke="#1a1a1a" stroke-width="0.9"/>
<line x1="461.0" y1="28.5" x2="467.4" y2="28.5" stroke="#1a1a1a" stroke-width="0.9"/>
<line x1="492.9" y1="92.7" x2="492.9" y2="89.5" stroke="#1a1a1a" stroke-width="0.9"/>
<line x1="489.7" y1="89.5" x2="496.09999999999997" y2="89.5" stroke="#1a1a1a" stroke-width="0.9"/>
<circle cx="446.7" cy="57.5" r="1.45" fill="#b30d2e"/>
<circle cx="446.7" cy="69" r="1.45" fill="#b30d2e"/>
<circle cx="446.7" cy="84" r="1.45" fill="#b30d2e"/>
<circle cx="464.2" cy="25" r="1.45" fill="#b30d2e"/>
<circle cx="464.2" cy="33" r="1.45" fill="#b30d2e"/>
<circle cx="464.2" cy="37.8" r="1.45" fill="#b30d2e"/>
<circle cx="492.9" cy="85.5" r="1.45" fill="#173f68"/>
<circle cx="491" cy="94" r="1.45" fill="#173f68"/>
<circle cx="495" cy="94" r="1.45" fill="#173f68"/>
<circle cx="507" cy="106.5" r="0.8" fill="#173f68"/>
<circle cx="510" cy="106.5" r="0.8" fill="#173f68"/>
<circle cx="513" cy="106.5" r="0.8" fill="#173f68"/>
<line x1="435" y1="13" x2="435" y2="107.5" stroke="#1a1a1a" stroke-width="1.0"/>
<line x1="432.8" y1="17.5" x2="435" y2="17.5" stroke="#1a1a1a" stroke-width="0.9"/>
<line x1="432.8" y1="25.8" x2="435" y2="25.8" stroke="#1a1a1a" stroke-width="0.9"/>
<line x1="432.8" y1="34.5" x2="435" y2="34.5" stroke="#1a1a1a" stroke-width="0.9"/>
<line x1="432.8" y1="61.5" x2="435" y2="61.5" stroke="#1a1a1a" stroke-width="0.9"/>
<text x="428" y="64.25" font-size="7.7" text-anchor="end" fill="#222">200</text>
<line x1="432.8" y1="84.6" x2="435" y2="84.6" stroke="#1a1a1a" stroke-width="0.9"/>
<text x="428" y="87.35" font-size="7.7" text-anchor="end" fill="#222">100</text>
<line x1="432.8" y1="107.5" x2="435" y2="107.5" stroke="#1a1a1a" stroke-width="0.9"/>
<text x="428" y="110.25" font-size="7.7" text-anchor="end" fill="#222">0</text>
<text x="428.6" y="19.700000000000003" font-size="7.5" text-anchor="end" fill="#222">1500</text>
<text x="428.6" y="27.8" font-size="7.5" text-anchor="end" fill="#222">1000</text>
<text x="428.6" y="34.7" font-size="7.5" text-anchor="end" fill="#222">500</text>
<text x="428.6" y="41.6" font-size="7.5" text-anchor="end" fill="#222">300</text>
<rect x="432.3" y="37.3" width="5.4" height="1.4" fill="#1a1a1a"/>
<line x1="435" y1="107.5" x2="520" y2="107.5" stroke="#1a1a1a" stroke-width="1.0"/>
<line x1="446.7" y1="107.5" x2="446.7" y2="109.7" stroke="#1a1a1a" stroke-width="0.9"/>
<line x1="464.2" y1="107.5" x2="464.2" y2="109.7" stroke="#1a1a1a" stroke-width="0.9"/>
<line x1="492.9" y1="107.5" x2="492.9" y2="109.7" stroke="#1a1a1a" stroke-width="0.9"/>
<line x1="510.3" y1="107.5" x2="510.3" y2="109.7" stroke="#1a1a1a" stroke-width="0.9"/>
<line x1="447" y1="18" x2="465.6" y2="18" stroke="#1a1a1a" stroke-width="0.9"/>
<text x="456.3" y="19.0" font-size="9.2" text-anchor="middle" fill="#222">*</text>
<line x1="492" y1="79.2" x2="510" y2="79.2" stroke="#1a1a1a" stroke-width="0.9"/>
<text x="501.0" y="80.2" font-size="9.2" text-anchor="middle" fill="#222">**</text>
<rect x="485.2" y="18.2" width="5" height="5" fill="#c8102e"/>
<rect x="485.2" y="27.799999999999997" width="5" height="5" fill="#2e6aa0"/>
<text x="492.4" y="22.9" font-size="7.4" fill="#222">MHCII<tspan dy="-2.4" font-size="4.3">lo</tspan><tspan dy="2.4"></tspan></text>
<text x="492.4" y="32.5" font-size="7.4" fill="#222">MHCII<tspan dy="-2.4" font-size="4.3">hi</tspan><tspan dy="2.4"></tspan></text>
<text x="446.7" y="119.6" font-size="7.8" text-anchor="middle" fill="#222" textLength="12" lengthAdjust="spacingAndGlyphs">+/+</text>
<text x="446.7" y="128.6" font-size="7.8" text-anchor="middle" fill="#222">n=4</text>
<text x="464.2" y="119.6" font-size="7.8" text-anchor="middle" fill="#222" textLength="12" lengthAdjust="spacingAndGlyphs">−/−</text>
<text x="464.2" y="128.6" font-size="7.8" text-anchor="middle" fill="#222">n=4</text>
<text x="492.9" y="119.6" font-size="7.8" text-anchor="middle" fill="#222" textLength="12" lengthAdjust="spacingAndGlyphs">+/+</text>
<text x="492.9" y="128.6" font-size="7.8" text-anchor="middle" fill="#222">n=4</text>
<text x="510.3" y="119.6" font-size="7.8" text-anchor="middle" fill="#222" textLength="12" lengthAdjust="spacingAndGlyphs">−/−</text>
<text x="510.3" y="128.6" font-size="7.8" text-anchor="middle" fill="#222">n=4</text>
<text x="395.8" y="60" font-size="7.6" text-anchor="middle" fill="#222" transform="rotate(-90 395.8 60)" textLength="74" lengthAdjust="spacingAndGlyphs">Number of ESLAMs in</text>
<text x="406.3" y="60.4" font-size="7.6" text-anchor="middle" fill="#222" transform="rotate(-90 406.3 60.4)" textLength="58" lengthAdjust="spacingAndGlyphs">3 hind leg bones</text>
<text x="0.5" y="157.5" font-size="11.3" text-anchor="start" font-weight="bold" fill="#000">D</text>
<rect x="14" y="152" width="156" height="86.80000000000001" fill="#ebecee"/>
<text x="50" y="158.8" font-size="6.6" text-anchor="start" font-weight="bold" fill="#111" textLength="118" lengthAdjust="spacingAndGlyphs">Enrichment plot: Hallmark_E2F_targets</text>
<rect x="44" y="161.5" width="124" height="67.30000000000001" fill="#fff" stroke="#666" stroke-width="0.7"/>
<line x1="44" y1="169.17" x2="168" y2="169.17" stroke="#f2f2f2" stroke-width="0.5"/>
<line x1="44" y1="175.34" x2="168" y2="175.34" stroke="#f2f2f2" stroke-width="0.5"/>
<line x1="44" y1="181.51" x2="168" y2="181.51" stroke="#f2f2f2" stroke-width="0.5"/>
<line x1="44" y1="187.68" x2="168" y2="187.68" stroke="#f2f2f2" stroke-width="0.5"/>
<line x1="44" y1="193.85" x2="168" y2="193.85" stroke="#f2f2f2" stroke-width="0.5"/>
<line x1="44" y1="200.01999999999998" x2="168" y2="200.01999999999998" stroke="#f2f2f2" stroke-width="0.5"/>
<line x1="44" y1="206.19" x2="168" y2="206.19" stroke="#f2f2f2" stroke-width="0.5"/>
<line x1="45.1" y1="210.3" x2="45.1" y2="225.2" stroke="#888" stroke-width="1.0"/>
<line x1="48.05" y1="210.3" x2="48.05" y2="225.2" stroke="#333" stroke-width="1.1000000000000014"/>
<line x1="51.05" y1="210.3" x2="51.05" y2="225.2" stroke="#888" stroke-width="0.8999999999999986"/>
<line x1="61.1" y1="210.3" x2="61.1" y2="225.2" stroke="#777" stroke-width="1.7999999999999972"/>
<line x1="74.0" y1="210.3" x2="74.0" y2="225.2" stroke="#999" stroke-width="0.8000000000000114"/>
<line x1="76.5" y1="210.3" x2="76.5" y2="225.2" stroke="#333" stroke-width="1"/>
<line x1="80.2" y1="210.3" x2="80.2" y2="225.2" stroke="#444" stroke-width="1.5999999999999943"/>
<line x1="85.25" y1="210.3" x2="85.25" y2="225.2" stroke="#555" stroke-width="2.0999999999999943"/>
<line x1="89.9" y1="210.3" x2="89.9" y2="225.2" stroke="#999" stroke-width="0.7999999999999972"/>
<line x1="100.65" y1="210.3" x2="100.65" y2="225.2" stroke="#333" stroke-width="1.2999999999999972"/>
<line x1="104.05000000000001" y1="210.3" x2="104.05000000000001" y2="225.2" stroke="#888" stroke-width="1.2999999999999972"/>
<line x1="106.35" y1="210.3" x2="106.35" y2="225.2" stroke="#999" stroke-width="0.7000000000000028"/>
<line x1="109.05000000000001" y1="210.3" x2="109.05000000000001" y2="225.2" stroke="#777" stroke-width="0.7000000000000028"/>
<line x1="111.4" y1="210.3" x2="111.4" y2="225.2" stroke="#444" stroke-width="1.2000000000000028"/>
<line x1="114.5" y1="210.3" x2="114.5" y2="225.2" stroke="#333" stroke-width="2.0"/>
<line x1="118.85" y1="210.3" x2="118.85" y2="225.2" stroke="#333" stroke-width="1.2999999999999972"/>
<line x1="122.2" y1="210.3" x2="122.2" y2="225.2" stroke="#555" stroke-width="1.4000000000000057"/>
<line x1="125.9" y1="210.3" x2="125.9" y2="225.2" stroke="#222" stroke-width="2.0"/>
<line x1="128.25" y1="210.3" x2="128.25" y2="225.2" stroke="#555" stroke-width="1.3000000000000114"/>
<line x1="138.05" y1="210.3" x2="138.05" y2="225.2" stroke="#333" stroke-width="4.700000000000017"/>
<line x1="142.7" y1="210.3" x2="142.7" y2="225.2" stroke="#666" stroke-width="2.0"/>
<line x1="147.15" y1="210.3" x2="147.15" y2="225.2" stroke="#222" stroke-width="2.6999999999999886"/>
<line x1="150.45" y1="210.3" x2="150.45" y2="225.2" stroke="#555" stroke-width="1.299999999999983"/>
<line x1="153.15" y1="210.3" x2="153.15" y2="225.2" stroke="#333" stroke-width="1.3000000000000114"/>
<line x1="155.85" y1="210.3" x2="155.85" y2="225.2" stroke="#444" stroke-width="1.3000000000000114"/>
<line x1="159.55" y1="210.3" x2="159.55" y2="225.2" stroke="#111" stroke-width="4.700000000000017"/>
<rect x="44.3" y="225.2" width="118.1" height="3.300000000000023" fill="url(#rb)"/>
<path d="M44.50,163.00 L47.50,165.00 L51.00,167.00 L55.00,171.00 L60.00,176.00 L63.75,178.75 L68.75,183.75 L73.75,188.25 L77.50,189.50 L81.25,190.00 L86.25,192.50 L90.00,195.50 L95.00,199.50 L100.00,202.00 L105.00,203.00 L110.00,205.00 L113.75,206.75 L117.50,205.75 L122.50,203.00 L126.00,201.50 L128.75,200.50 L132.50,203.75 L135.50,206.25 L138.75,203.75 L142.50,200.00 L146.25,198.75 L150.00,195.00 L153.75,190.00 L157.50,182.50 L160.00,175.00 L162.40,163.70" fill="none" stroke="#66b23e" stroke-width="1.45" stroke-linejoin="round"/>
<line x1="41.5" y1="163.0" x2="44" y2="163.0" stroke="#444" stroke-width="0.7"/>
<text x="40.8" y="165.3" font-size="6.6" text-anchor="end" fill="#333">0.00</text>
<line x1="41.5" y1="169.17" x2="44" y2="169.17" stroke="#444" stroke-width="0.7"/>
<text x="40.8" y="171.47" font-size="6.6" text-anchor="end" fill="#333">−0.05</text>
<line x1="41.5" y1="175.34" x2="44" y2="175.34" stroke="#444" stroke-width="0.7"/>
<text x="40.8" y="177.64000000000001" font-size="6.6" text-anchor="end" fill="#333">−0.10</text>
<line x1="41.5" y1="181.51" x2="44" y2="181.51" stroke="#444" stroke-width="0.7"/>
<text x="40.8" y="183.81" font-size="6.6" text-anchor="end" fill="#333">−0.15</text>
<line x1="41.5" y1="187.68" x2="44" y2="187.68" stroke="#444" stroke-width="0.7"/>
<text x="40.8" y="189.98000000000002" font-size="6.6" text-anchor="end" fill="#333">−0.20</text>
<line x1="41.5" y1="193.85" x2="44" y2="193.85" stroke="#444" stroke-width="0.7"/>
<text x="40.8" y="196.15" font-size="6.6" text-anchor="end" fill="#333">−0.25</text>
<line x1="41.5" y1="200.01999999999998" x2="44" y2="200.01999999999998" stroke="#444" stroke-width="0.7"/>
<text x="40.8" y="202.32" font-size="6.6" text-anchor="end" fill="#333">−0.30</text>
<line x1="41.5" y1="206.19" x2="44" y2="206.19" stroke="#444" stroke-width="0.7"/>
<text x="40.8" y="208.49" font-size="6.6" text-anchor="end" fill="#333">−0.35</text>
<text x="20.8" y="184.3" font-size="6.9" text-anchor="middle" fill="#4a4a4a" transform="rotate(-90 20.8 184.3)" textLength="58" lengthAdjust="spacingAndGlyphs">Enrichment score (ES)</text>
<text x="121.2" y="175.1" font-size="6.5" text-anchor="start" fill="#444">NES=−5.72</text>
<text x="121.2" y="182.7" font-size="6.5" text-anchor="start" fill="#444">FDR=0</text>
<text x="43.5" y="236.8" font-size="7" fill="#222">CD74<tspan dy="-2.6" font-size="4.3">hi</tspan></text>
<text x="141.8" y="236.8" font-size="7" fill="#222">CD74<tspan dy="-2.6" font-size="4.3">lo</tspan></text>
<rect x="14" y="241.9" width="156" height="90.6" fill="#ebecee"/>
<text x="34.6" y="248.5" font-size="6.6" text-anchor="start" font-weight="bold" fill="#111" textLength="132.9" lengthAdjust="spacingAndGlyphs">Enrichment plot: Hallmark_G2M_checkpoint</text>
<rect x="44" y="255.7" width="124" height="68.19999999999999" fill="#fff" stroke="#666" stroke-width="0.7"/>
<line x1="44" y1="263.86" x2="168" y2="263.86" stroke="#f2f2f2" stroke-width="0.5"/>
<line x1="44" y1="270.22" x2="168" y2="270.22" stroke="#f2f2f2" stroke-width="0.5"/>
<line x1="44" y1="276.58" x2="168" y2="276.58" stroke="#f2f2f2" stroke-width="0.5"/>
<line x1="44" y1="282.94" x2="168" y2="282.94" stroke="#f2f2f2" stroke-width="0.5"/>
<line x1="44" y1="289.3" x2="168" y2="289.3" stroke="#f2f2f2" stroke-width="0.5"/>
<line x1="44" y1="295.66" x2="168" y2="295.66" stroke="#f2f2f2" stroke-width="0.5"/>
<line x1="44" y1="302.02" x2="168" y2="302.02" stroke="#f2f2f2" stroke-width="0.5"/>
<line x1="45.05" y1="304" x2="45.05" y2="320.2" stroke="#888" stroke-width="0.8999999999999986"/>
<line x1="49.3" y1="304" x2="49.3" y2="320.2" stroke="#555" stroke-width="1.0"/>
<line x1="53.5" y1="304" x2="53.5" y2="320.2" stroke="#666" stroke-width="1.2000000000000028"/>
<line x1="59.0" y1="304" x2="59.0" y2="320.2" stroke="#999" stroke-width="0.7999999999999972"/>
<line x1="64.4" y1="304" x2="64.4" y2="320.2" stroke="#777" stroke-width="1.2000000000000028"/>
<line x1="68.0" y1="304" x2="68.0" y2="320.2" stroke="#555" stroke-width="0.8000000000000114"/>
<line x1="73.80000000000001" y1="304" x2="73.80000000000001" y2="320.2" stroke="#555" stroke-width="1.7999999999999972"/>
<line x1="78.4" y1="304" x2="78.4" y2="320.2" stroke="#999" stroke-width="0.7999999999999972"/>
<line x1="82.0" y1="304" x2="82.0" y2="320.2" stroke="#666" stroke-width="1.1999999999999886"/>
<line x1="85.30000000000001" y1="304" x2="85.30000000000001" y2="320.2" stroke="#444" stroke-width="1.7999999999999972"/>
<line x1="88.95" y1="304" x2="88.95" y2="320.2" stroke="#555" stroke-width="1.9000000000000057"/>
<line x1="101.0" y1="304" x2="101.0" y2="320.2" stroke="#444" stroke-width="2"/>
<line x1="104.05000000000001" y1="304" x2="104.05000000000001" y2="320.2" stroke="#777" stroke-width="1.2999999999999972"/>
<line x1="106.7" y1="304" x2="106.7" y2="320.2" stroke="#666" stroke-width="1.4000000000000057"/>
<line x1="109.35" y1="304" x2="109.35" y2="320.2" stroke="#888" stroke-width="1.2999999999999972"/>
<line x1="111.8" y1="304" x2="111.8" y2="320.2" stroke="#444" stroke-width="2.0"/>
<line x1="118.85" y1="304" x2="118.85" y2="320.2" stroke="#111" stroke-width="1.2999999999999972"/>
<line x1="122.5" y1="304" x2="122.5" y2="320.2" stroke="#555" stroke-width="2.0"/>
<line x1="126.55000000000001" y1="304" x2="126.55000000000001" y2="320.2" stroke="#333" stroke-width="4.700000000000003"/>
<line x1="137.35" y1="304" x2="137.35" y2="320.2" stroke="#333" stroke-width="3.3000000000000114"/>
<line x1="141.05" y1="304" x2="141.05" y2="320.2" stroke="#777" stroke-width="1.299999999999983"/>
<line x1="144.0" y1="304" x2="144.0" y2="320.2" stroke="#555" stroke-width="2"/>
<line x1="148.75" y1="304" x2="148.75" y2="320.2" stroke="#333" stroke-width="4.699999999999989"/>
<line x1="153.15" y1="304" x2="153.15" y2="320.2" stroke="#666" stroke-width="1.3000000000000114"/>
<line x1="155.85" y1="304" x2="155.85" y2="320.2" stroke="#444" stroke-width="1.3000000000000114"/>
<line x1="159.55" y1="304" x2="159.55" y2="320.2" stroke="#111" stroke-width="4.700000000000017"/>
<rect x="44.3" y="320.2" width="118.1" height="3.399999999999989" fill="url(#rb)"/>
<path d="M43.75,257.50 L47.50,259.50 L51.00,260.00 L55.00,263.00 L60.00,266.00 L65.00,271.00 L70.00,275.00 L75.00,277.50 L80.00,282.50 L85.00,286.00 L90.00,288.75 L95.00,292.50 L100.00,297.50 L105.00,295.50 L111.00,295.50 L115.00,297.00 L118.75,301.25 L122.50,298.00 L126.00,300.00 L130.00,295.00 L132.50,297.50 L135.00,300.75 L138.75,296.25 L142.50,293.00 L147.50,292.50 L152.50,290.00 L156.25,286.25 L159.50,277.50 L161.25,267.50 L162.40,257.50" fill="none" stroke="#66b23e" stroke-width="1.45" stroke-linejoin="round"/>
<line x1="41.5" y1="257.5" x2="44" y2="257.5" stroke="#444" stroke-width="0.7"/>
<text x="40.8" y="259.8" font-size="6.6" text-anchor="end" fill="#333">0.00</text>
<line x1="41.5" y1="263.86" x2="44" y2="263.86" stroke="#444" stroke-width="0.7"/>
<text x="40.8" y="266.16" font-size="6.6" text-anchor="end" fill="#333">−0.05</text>
<line x1="41.5" y1="270.22" x2="44" y2="270.22" stroke="#444" stroke-width="0.7"/>
<text x="40.8" y="272.52000000000004" font-size="6.6" text-anchor="end" fill="#333">−0.10</text>
<line x1="41.5" y1="276.58" x2="44" y2="276.58" stroke="#444" stroke-width="0.7"/>
<text x="40.8" y="278.88" font-size="6.6" text-anchor="end" fill="#333">−0.15</text>
<line x1="41.5" y1="282.94" x2="44" y2="282.94" stroke="#444" stroke-width="0.7"/>
<text x="40.8" y="285.24" font-size="6.6" text-anchor="end" fill="#333">−0.20</text>
<line x1="41.5" y1="289.3" x2="44" y2="289.3" stroke="#444" stroke-width="0.7"/>
<text x="40.8" y="291.6" font-size="6.6" text-anchor="end" fill="#333">−0.25</text>
<line x1="41.5" y1="295.66" x2="44" y2="295.66" stroke="#444" stroke-width="0.7"/>
<text x="40.8" y="297.96000000000004" font-size="6.6" text-anchor="end" fill="#333">−0.30</text>
<line x1="41.5" y1="302.02" x2="44" y2="302.02" stroke="#444" stroke-width="0.7"/>
<text x="40.8" y="304.32" font-size="6.6" text-anchor="end" fill="#333">−0.35</text>
<text x="20.8" y="278.5" font-size="6.9" text-anchor="middle" fill="#4a4a4a" transform="rotate(-90 20.8 278.5)" textLength="58" lengthAdjust="spacingAndGlyphs">Enrichment score (ES)</text>
<text x="105" y="269.2" font-size="6.5" text-anchor="start" fill="#444">NES=−5.57</text>
<text x="105" y="276.8" font-size="6.5" text-anchor="start" fill="#444">FDR=0</text>
<text x="43.5" y="331.9" font-size="7" fill="#222">CD74<tspan dy="-2.6" font-size="4.3">hi</tspan></text>
<text x="141.8" y="331.9" font-size="7" fill="#222">CD74<tspan dy="-2.6" font-size="4.3">lo</tspan></text>
<text x="198.5" y="157.5" font-size="11.3" text-anchor="start" font-weight="bold" fill="#000">E</text>
<path d="M242,240 C240,232 250,230 262,232 C274,234 284,236 296,238 C306,240 314,246 312,256 C310,266 296,268 284,268 C272,269 258,272 248,270 C240,266 242,252 242,240 Z" fill="#f4f1f6"/>
<path d="M244,242 C243,236 250,234 260,236 C270,238 278,242 286,246 C294,250 298,256 292,262 C284,266 270,266 258,268 C248,268 245,256 244,242 Z" fill="#ece8f0"/>
<path d="M237,186 C238,178 246,175 254,176 C262,177 264,184 265,192 C266,200 264,206 268,212 C272,218 270,226 264,228 C258,230 250,226 244,224 C238,220 237,212 237,204 C236,198 236,192 237,186 Z" fill="none" stroke="#cdcdd3" stroke-width="0.7"/>
<path d="M240,236 C240,232 246,231 254,232 C264,233 272,232 282,234 C292,235 302,236 310,242 C318,240 324,242 325,249 C326,257 318,262 308,266 C296,270 284,270 272,271 C260,272 250,273 244,270 C239,264 239,250 240,236 Z" fill="none" stroke="#cdcdd3" stroke-width="0.7"/>
<path d="M240,186 C242,182 250,181 257,183 C260,187 259,194 261,199 C262,203 258,207 252,207 C246,206 242,204 240,199 C238,194 239,190 240,186 Z" fill="none" stroke="#cdcdd3" stroke-width="0.7"/>
<path d="M247,189 C250,188 255,188 256,191 C257,195 257,199 253,200 C249,200 246,199 246,195 C246,192 246,190 247,189 Z" fill="none" stroke="#bdbdc6" stroke-width="0.7"/>
<circle cx="252.5" cy="193.3" r="1.4" fill="none" stroke="#bdbdc6" stroke-width="0.7"/>
<path d="M244,212 C248,208 256,210 258,216 C262,222 268,226 276,230 C284,234 296,236 304,240 C310,244 312,252 306,258 C298,262 288,260 278,262 C266,264 256,266 248,264 C242,258 242,248 242,238 C242,228 242,218 244,212 Z" fill="none" stroke="#d2c6cc" stroke-width="0.7"/>
<path d="M268,204 C270,202 272,204 272,208 C272,212 270,214 268,212 C266,210 266,206 268,204 Z" fill="none" stroke="#cdcdd3" stroke-width="0.7"/>
<path d="M276,218 C279,216 283,220 282,226 C281,230 277,230 276,226 C275,222 275,220 276,218 Z" fill="none" stroke="#cdcdd3" stroke-width="0.7"/>
<path d="M280,240 C286,236 296,238 304,242 C310,246 310,254 304,258 C296,262 286,260 280,256 C276,252 276,244 280,240 Z" fill="none" stroke="#cfbfc8" stroke-width="0.7"/>
<path d="M290,244 C296,242 302,244 304,248 C306,252 302,256 296,256 C290,256 287,252 288,248 C288,246 289,245 290,244 Z" fill="none" stroke="#c9b8c2" stroke-width="0.7"/>
<path d="M297,247 C300,246 303,248 303,250 C303,253 300,254 298,253 C296,252 296,249 297,247 Z" fill="none" stroke="#c9b8c2" stroke-width="0.7"/>
<path d="M321,242 C323,240 325,242 325,247 C325,252 324,255 322,254 C320,252 320,246 321,242 Z" fill="none" stroke="#cdcdd3" stroke-width="0.7"/>
<circle cx="282.2" cy="201.5" r="2.1" fill="none" stroke="#cdcdd3" stroke-width="0.7"/>
<circle cx="292" cy="208.5" r="1.8" fill="none" stroke="#cdcdd3" stroke-width="0.7"/>
<circle cx="303.5" cy="219" r="1.8" fill="none" stroke="#cdcdd3" stroke-width="0.7"/>
<circle cx="328.5" cy="212.5" r="1.8" fill="none" stroke="#cdcdd3" stroke-width="0.7"/>
<circle cx="335.4" cy="260.2" r="2.0" fill="none" stroke="#cdcdd3" stroke-width="0.7"/>
<path d="M250,244 C249,238 253,236.5 257,238 C261,240 264.5,246 265.5,252 C266.5,258 265,264 259.5,264.8 C254,265.5 251.5,260 250.8,255 C250.3,251 250.2,247.5 250,244 Z" fill="#fbe6ea" stroke="#f2bcc6" stroke-width="0.9"/>
<path d="M251.6,244.5 C251,240 254,238.8 257,240.2 C260.5,242 263,247 264,252 C265,257.5 263.5,262 259.5,262.6 C255.5,263 253,259 252.4,255 C252,251.5 251.8,248 251.6,244.5 Z" fill="#f8d4da" stroke="#e7788a" stroke-width="1.0"/>
<path d="M253.4,245.5 C253,242.5 255.2,241.6 257.3,243 C259.8,244.8 261.6,248.5 262.3,252.3 C263,256.5 261.8,260 259,260.4 C256.2,260.7 254.6,257.5 254.1,254.4 C253.8,251.5 253.6,248.5 253.4,245.5 Z" fill="#fff" stroke="#c8102e" stroke-width="1.2"/>
<path d="M267,250 C270,246 278,246 281,250 C283,254 281,260 275,260.5 C270,261 267,258 267,255 Z" fill="#fbe6ea" stroke="#f0b0bc" stroke-width="0.8"/>
<path d="M269.5,251 C272,248.5 277,248.8 278.5,251.5 C279.8,254.5 277.5,258 273.5,258 C270.5,258 269,256 269.2,254 Z" fill="#fff" stroke="#c8102e" stroke-width="1.0"/>
<line x1="232" y1="167.7" x2="232" y2="277.5" stroke="#1a1a1a" stroke-width="1.1"/>
<line x1="232" y1="277.5" x2="344" y2="277.5" stroke="#1a1a1a" stroke-width="1.1"/>
<line x1="229.6" y1="172.2" x2="232" y2="172.2" stroke="#1a1a1a" stroke-width="0.9"/>
<text x="226" y="175.0" font-size="7.9" text-anchor="end" fill="#222">3</text>
<line x1="229.6" y1="191.2" x2="232" y2="191.2" stroke="#1a1a1a" stroke-width="0.9"/>
<text x="226" y="194.0" font-size="7.9" text-anchor="end" fill="#222">2</text>
<line x1="229.6" y1="211" x2="232" y2="211" stroke="#1a1a1a" stroke-width="0.9"/>
<text x="226" y="213.8" font-size="7.9" text-anchor="end" fill="#222">1</text>
<line x1="229.6" y1="230" x2="232" y2="230" stroke="#1a1a1a" stroke-width="0.9"/>
<text x="226" y="232.8" font-size="7.9" text-anchor="end" fill="#222">0</text>
<line x1="229.6" y1="249.3" x2="232" y2="249.3" stroke="#1a1a1a" stroke-width="0.9"/>
<text x="226" y="252.10000000000002" font-size="7.9" text-anchor="end" fill="#222">−1</text>
<line x1="229.6" y1="268" x2="232" y2="268" stroke="#1a1a1a" stroke-width="0.9"/>
<text x="226" y="270.8" font-size="7.9" text-anchor="end" fill="#222">−2</text>
<line x1="268.2" y1="277.5" x2="268.2" y2="279.7" stroke="#1a1a1a" stroke-width="0.9"/>
<text x="268.2" y="289.8" font-size="7.9" text-anchor="middle" fill="#222">0</text>
<line x1="309.8" y1="277.5" x2="309.8" y2="279.7" stroke="#1a1a1a" stroke-width="0.9"/>
<text x="309.8" y="289.8" font-size="7.9" text-anchor="middle" fill="#222">5</text>
<line x1="268.2" y1="167.7" x2="268.2" y2="277" stroke="#333" stroke-width="0.9" stroke-dasharray="0.9 1.3"/>
<line x1="232" y1="230" x2="344" y2="230" stroke="#333" stroke-width="0.9" stroke-dasharray="0.9 1.3"/>
<text x="233.8" y="177.4" font-size="7" text-anchor="start" fill="#222">13.01%</text>
<text x="288" y="302.8" font-size="7.9" text-anchor="middle" fill="#222">MHCII score</text>
<text x="209.6" y="223.2" font-size="7.9" text-anchor="middle" fill="#222" transform="rotate(-90 209.6 223.2)" textLength="44.6" lengthAdjust="spacingAndGlyphs">Cycling score</text>
<text x="361.5" y="157.5" font-size="11.3" text-anchor="start" font-weight="bold" fill="#000">F</text>
<rect x="440.6" y="209.8" width="11.7" height="68.0" fill="#e4899a"/>
<rect x="459" y="259.4" width="12.4" height="18.4" fill="#e4899a"/>
<rect x="483" y="240" width="12.4" height="37.8" fill="#89a9c9"/>
<rect x="503" y="231" width="12.4" height="46.8" fill="#89a9c9"/>
<line x1="446.5" y1="209.8" x2="446.5" y2="200.6" stroke="#1a1a1a" stroke-width="0.9"/>
<line x1="443.7" y1="200.6" x2="449.3" y2="200.6" stroke="#1a1a1a" stroke-width="0.9"/>
<line x1="465.2" y1="259.4" x2="465.2" y2="255.7" stroke="#1a1a1a" stroke-width="0.9"/>
<line x1="462.8" y1="255.7" x2="467.59999999999997" y2="255.7" stroke="#1a1a1a" stroke-width="0.9"/>
<line x1="489.2" y1="240" x2="489.2" y2="224.6" stroke="#1a1a1a" stroke-width="0.9"/>
<line x1="486.4" y1="224.6" x2="492.0" y2="224.6" stroke="#1a1a1a" stroke-width="0.9"/>
<line x1="509.2" y1="231" x2="509.2" y2="218.5" stroke="#1a1a1a" stroke-width="0.9"/>
<line x1="506.4" y1="218.5" x2="512.0" y2="218.5" stroke="#1a1a1a" stroke-width="0.9"/>
<circle cx="446.5" cy="193" r="1.45" fill="#b30d2e"/>
<circle cx="446.5" cy="213" r="1.45" fill="#b30d2e"/>
<circle cx="446.5" cy="222.5" r="1.45" fill="#b30d2e"/>
<circle cx="465.2" cy="252.3" r="1.45" fill="#b30d2e"/>
<circle cx="463" cy="257" r="1.45" fill="#b30d2e"/>
<circle cx="467.5" cy="258" r="1.45" fill="#b30d2e"/>
<circle cx="465.2" cy="267.7" r="1.45" fill="#b30d2e"/>
<circle cx="489.2" cy="210.8" r="1.45" fill="#173f68"/>
<circle cx="488.5" cy="253.2" r="1.45" fill="#173f68"/>
<circle cx="490" cy="253.8" r="1.45" fill="#173f68"/>
<circle cx="509.2" cy="213.8" r="1.45" fill="#173f68"/>
<circle cx="509.2" cy="229.2" r="1.45" fill="#173f68"/>
<circle cx="509.2" cy="266" r="1.45" fill="#173f68"/>
<line x1="435.4" y1="180" x2="435.4" y2="277.8" stroke="#1a1a1a" stroke-width="1.0"/>
<line x1="433.2" y1="180.6" x2="435.4" y2="180.6" stroke="#1a1a1a" stroke-width="0.9"/>
<text x="429" y="183.35" font-size="7.7" text-anchor="end" fill="#222">150</text>
<line x1="433.2" y1="213.2" x2="435.4" y2="213.2" stroke="#1a1a1a" stroke-width="0.9"/>
<text x="429" y="215.95" font-size="7.7" text-anchor="end" fill="#222">100</text>
<line x1="433.2" y1="245.5" x2="435.4" y2="245.5" stroke="#1a1a1a" stroke-width="0.9"/>
<text x="429" y="248.25" font-size="7.7" text-anchor="end" fill="#222">50</text>
<line x1="433.2" y1="277.8" x2="435.4" y2="277.8" stroke="#1a1a1a" stroke-width="0.9"/>
<text x="429" y="280.55" font-size="7.7" text-anchor="end" fill="#222">0</text>
<line x1="435.4" y1="277.8" x2="520" y2="277.8" stroke="#1a1a1a" stroke-width="1.0"/>
<line x1="446.8" y1="188.6" x2="466" y2="188.6" stroke="#1a1a1a" stroke-width="0.9"/>
<text x="456.4" y="189.6" font-size="9.2" text-anchor="middle" fill="#222">**</text>
<line x1="489" y1="205.5" x2="510.8" y2="205.5" stroke="#1a1a1a" stroke-width="0.9"/>
<text x="499.9" y="203.7" font-size="7.4" text-anchor="middle" fill="#222">ns</text>
<rect x="477.8" y="175.8" width="4.8" height="4.8" fill="#c8102e"/>
<rect x="477.8" y="185.20000000000002" width="4.8" height="4.8" fill="#2e6aa0"/>
<text x="484.8" y="180.3" font-size="7.4" fill="#222">MHCII<tspan dy="-2.4" font-size="4.3">lo</tspan><tspan dy="2.4"></tspan></text>
<text x="484.8" y="189.70000000000002" font-size="7.4" fill="#222">MHCII<tspan dy="-2.4" font-size="4.3">hi</tspan><tspan dy="2.4"></tspan></text>
<text x="446.5" y="287.8" font-size="7.6" text-anchor="middle" fill="#222">PBS</text>
<text x="446.5" y="295" font-size="6.2" text-anchor="middle" fill="#222">n=3</text>
<text x="465.2" y="287.8" font-size="7.6" text-anchor="middle" fill="#222">5′-FU</text>
<text x="465.2" y="295" font-size="6.2" text-anchor="middle" fill="#222">n=4</text>
<text x="489.2" y="287.8" font-size="7.6" text-anchor="middle" fill="#222">PBS</text>
<text x="489.2" y="295" font-size="6.2" text-anchor="middle" fill="#222">n=3</text>
<text x="509.2" y="287.8" font-size="7.6" text-anchor="middle" fill="#222">5′-FU</text>
<text x="509.2" y="295" font-size="6.2" text-anchor="middle" fill="#222">n=4</text>
<text x="387.3" y="227.3" font-size="7.6" text-anchor="middle" fill="#222" transform="rotate(-90 387.3 227.3)" textLength="91.4" lengthAdjust="spacingAndGlyphs">Number of ESLAMs in each</text>
<text x="398.5" y="228" font-size="7.6" text-anchor="middle" fill="#222" transform="rotate(-90 398.5 228)" textLength="84.2" lengthAdjust="spacingAndGlyphs">MHCII expression group</text>
<text x="409.7" y="227.4" font-size="7.6" text-anchor="middle" fill="#222" transform="rotate(-90 409.7 227.4)" textLength="66.7" lengthAdjust="spacingAndGlyphs">in 6 hind leg bones</text>
<text x="0.5" y="346" font-size="11.3" text-anchor="start" font-weight="bold" fill="#000">G</text>
<line x1="29.5" y1="352.15" x2="29.5" y2="437.2" stroke="#1a1a1a" stroke-width="1.1"/>
<line x1="28.95" y1="437.2" x2="115.35" y2="437.2" stroke="#1a1a1a" stroke-width="1.1"/>
<line x1="114.8" y1="352.15" x2="114.8" y2="437.2" stroke="#1a1a1a" stroke-width="1.1"/>
<line x1="29.5" y1="352.7" x2="32.5" y2="352.7" stroke="#1a1a1a" stroke-width="1.1"/>
<line x1="66" y1="352.7" x2="114.8" y2="352.7" stroke="#1a1a1a" stroke-width="1.1"/>
<text x="35" y="355.7" font-size="8.8" font-style="italic" fill="#231f20">ESLAM</text>
<line x1="11" y1="356.0" x2="11" y2="436.2" stroke="#1a1a1a" stroke-width="0.9"/>
<path d="M9,357.5 L11,353.0 L13,357.5 Z" fill="#1a1a1a"/>
<text x="6.5" y="400.7" font-size="7.5" text-anchor="middle" font-style="italic" fill="#231f20" transform="rotate(-90 6.5 400.7)">CD45</text>
<line x1="27.5" y1="359.7" x2="29.7" y2="359.7" stroke="#1a1a1a" stroke-width="0.9"/>
<text x="24.3" y="361.9" font-size="6.2" text-anchor="end" fill="#222">10<tspan dy="-2.6" font-size="4.2">5</tspan></text>
<line x1="27.5" y1="379.7" x2="29.7" y2="379.7" stroke="#1a1a1a" stroke-width="0.9"/>
<text x="24.3" y="381.9" font-size="6.2" text-anchor="end" fill="#222">10<tspan dy="-2.6" font-size="4.2">4</tspan></text>
<line x1="27.5" y1="402.7" x2="29.7" y2="402.7" stroke="#1a1a1a" stroke-width="0.9"/>
<text x="24.3" y="404.9" font-size="6.2" text-anchor="end" fill="#222">10<tspan dy="-2.6" font-size="4.2">3</tspan></text>
<line x1="27.5" y1="417.4" x2="29.7" y2="417.4" stroke="#1a1a1a" stroke-width="0.9"/>
<text x="24.3" y="419.59999999999997" font-size="6.2" text-anchor="end" fill="#222">0</text>
<line x1="27.5" y1="431.2" x2="29.7" y2="431.2" stroke="#1a1a1a" stroke-width="0.9"/>
<text x="24.3" y="433.4" font-size="6.2" text-anchor="end" fill="#222">−10<tspan dy="-2.6" font-size="4.2">3</tspan></text>
<line x1="28.1" y1="373.68" x2="29.5" y2="373.68" stroke="#1a1a1a" stroke-width="0.7"/>
<line x1="28.1" y1="370.16" x2="29.5" y2="370.16" stroke="#1a1a1a" stroke-width="0.7"/>
<line x1="28.1" y1="367.66" x2="29.5" y2="367.66" stroke="#1a1a1a" stroke-width="0.7"/>
<line x1="28.1" y1="365.72" x2="29.5" y2="365.72" stroke="#1a1a1a" stroke-width="0.7"/>
<line x1="28.1" y1="364.14" x2="29.5" y2="364.14" stroke="#1a1a1a" stroke-width="0.7"/>
<line x1="28.1" y1="362.8" x2="29.5" y2="362.8" stroke="#1a1a1a" stroke-width="0.7"/>
<line x1="28.1" y1="361.64" x2="29.5" y2="361.64" stroke="#1a1a1a" stroke-width="0.7"/>
<line x1="28.1" y1="360.62" x2="29.5" y2="360.62" stroke="#1a1a1a" stroke-width="0.7"/>
<line x1="28.1" y1="395.78" x2="29.5" y2="395.78" stroke="#1a1a1a" stroke-width="0.7"/>
<line x1="28.1" y1="391.73" x2="29.5" y2="391.73" stroke="#1a1a1a" stroke-width="0.7"/>
<line x1="28.1" y1="388.85" x2="29.5" y2="388.85" stroke="#1a1a1a" stroke-width="0.7"/>
<line x1="28.1" y1="386.62" x2="29.5" y2="386.62" stroke="#1a1a1a" stroke-width="0.7"/>
<line x1="28.1" y1="384.8" x2="29.5" y2="384.8" stroke="#1a1a1a" stroke-width="0.7"/>
<line x1="28.1" y1="383.26" x2="29.5" y2="383.26" stroke="#1a1a1a" stroke-width="0.7"/>
<line x1="28.1" y1="381.93" x2="29.5" y2="381.93" stroke="#1a1a1a" stroke-width="0.7"/>
<line x1="28.1" y1="380.75" x2="29.5" y2="380.75" stroke="#1a1a1a" stroke-width="0.7"/>
<line x1="28.1" y1="413.72" x2="29.5" y2="413.72" stroke="#1a1a1a" stroke-width="0.7"/>
<line x1="28.1" y1="410.05" x2="29.5" y2="410.05" stroke="#1a1a1a" stroke-width="0.7"/>
<line x1="28.1" y1="406.38" x2="29.5" y2="406.38" stroke="#1a1a1a" stroke-width="0.7"/>
<line x1="28.1" y1="427.75" x2="29.5" y2="427.75" stroke="#1a1a1a" stroke-width="0.7"/>
<line x1="28.1" y1="424.3" x2="29.5" y2="424.3" stroke="#1a1a1a" stroke-width="0.7"/>
<line x1="28.1" y1="420.85" x2="29.5" y2="420.85" stroke="#1a1a1a" stroke-width="0.7"/>
<line x1="70.42" y1="437.2" x2="70.42" y2="438.59999999999997" stroke="#1a1a1a" stroke-width="0.7"/>
<line x1="74.47" y1="437.2" x2="74.47" y2="438.59999999999997" stroke="#1a1a1a" stroke-width="0.7"/>
<line x1="77.35" y1="437.2" x2="77.35" y2="438.59999999999997" stroke="#1a1a1a" stroke-width="0.7"/>
<line x1="79.58" y1="437.2" x2="79.58" y2="438.59999999999997" stroke="#1a1a1a" stroke-width="0.7"/>
<line x1="81.4" y1="437.2" x2="81.4" y2="438.59999999999997" stroke="#1a1a1a" stroke-width="0.7"/>
<line x1="82.94" y1="437.2" x2="82.94" y2="438.59999999999997" stroke="#1a1a1a" stroke-width="0.7"/>
<line x1="84.27" y1="437.2" x2="84.27" y2="438.59999999999997" stroke="#1a1a1a" stroke-width="0.7"/>
<line x1="85.45" y1="437.2" x2="85.45" y2="438.59999999999997" stroke="#1a1a1a" stroke-width="0.7"/>
<line x1="92.97" y1="437.2" x2="92.97" y2="438.59999999999997" stroke="#1a1a1a" stroke-width="0.7"/>
<line x1="96.76" y1="437.2" x2="96.76" y2="438.59999999999997" stroke="#1a1a1a" stroke-width="0.7"/>
<line x1="99.44" y1="437.2" x2="99.44" y2="438.59999999999997" stroke="#1a1a1a" stroke-width="0.7"/>
<line x1="101.53" y1="437.2" x2="101.53" y2="438.59999999999997" stroke="#1a1a1a" stroke-width="0.7"/>
<line x1="103.23" y1="437.2" x2="103.23" y2="438.59999999999997" stroke="#1a1a1a" stroke-width="0.7"/>
<line x1="104.67" y1="437.2" x2="104.67" y2="438.59999999999997" stroke="#1a1a1a" stroke-width="0.7"/>
<line x1="105.92" y1="437.2" x2="105.92" y2="438.59999999999997" stroke="#1a1a1a" stroke-width="0.7"/>
<line x1="107.02" y1="437.2" x2="107.02" y2="438.59999999999997" stroke="#1a1a1a" stroke-width="0.7"/>
<line x1="37.25" y1="437.2" x2="37.25" y2="438.59999999999997" stroke="#1a1a1a" stroke-width="0.7"/>
<line x1="41.5" y1="437.2" x2="41.5" y2="438.59999999999997" stroke="#1a1a1a" stroke-width="0.7"/>
<line x1="45.75" y1="437.2" x2="45.75" y2="438.59999999999997" stroke="#1a1a1a" stroke-width="0.7"/>
<line x1="53.38" y1="437.2" x2="53.38" y2="438.59999999999997" stroke="#1a1a1a" stroke-width="0.7"/>
<line x1="56.75" y1="437.2" x2="56.75" y2="438.59999999999997" stroke="#1a1a1a" stroke-width="0.7"/>
<line x1="60.12" y1="437.2" x2="60.12" y2="438.59999999999997" stroke="#1a1a1a" stroke-width="0.7"/>
<line x1="33" y1="437.2" x2="33" y2="439.0" stroke="#1a1a1a" stroke-width="0.9"/>
<text x="33" y="447.0" font-size="6.2" text-anchor="middle" fill="#222">−10<tspan dy="-2.6" font-size="4.2">3</tspan></text>
<line x1="50" y1="437.2" x2="50" y2="439.0" stroke="#1a1a1a" stroke-width="0.9"/>
<text x="50" y="447.0" font-size="6.2" text-anchor="middle" fill="#222">0</text>
<line x1="63.5" y1="437.2" x2="63.5" y2="439.0" stroke="#1a1a1a" stroke-width="0.9"/>
<text x="63.5" y="447.0" font-size="6.2" text-anchor="middle" fill="#222">10<tspan dy="-2.6" font-size="4.2">3</tspan></text>
<line x1="86.5" y1="437.2" x2="86.5" y2="439.0" stroke="#1a1a1a" stroke-width="0.9"/>
<text x="86.5" y="447.0" font-size="6.2" text-anchor="middle" fill="#222">10<tspan dy="-2.6" font-size="4.2">4</tspan></text>
<line x1="108" y1="437.2" x2="108" y2="439.0" stroke="#1a1a1a" stroke-width="0.9"/>
<text x="108" y="447.0" font-size="6.2" text-anchor="middle" fill="#222">10<tspan dy="-2.6" font-size="4.2">5</tspan></text>
<line x1="28.5" y1="452.2" x2="110" y2="452.2" stroke="#1a1a1a" stroke-width="0.9"/>
<path d="M108.5,450.2 L113,452.2 L108.5,454.2 Z" fill="#1a1a1a"/>
<text x="68.5" y="461.2" font-size="7.5" text-anchor="middle" font-style="italic" fill="#231f20">iA-iE MHCII</text>
<rect x="36.7" y="363.2" width="36.39999999999999" height="28.69999999999999" fill="none" stroke="#c0304a" stroke-width="1.3"/>
<rect x="84" y="363.2" width="29.200000000000003" height="28.69999999999999" fill="none" stroke="#2a5a9a" stroke-width="1.3"/>
<rect x="48" y="375.6" width="40" height="5.2" fill="#2f8a2c"/>
<rect x="88" y="376.2" width="10" height="4.0" fill="#44a040"/>
<rect x="76.72" y="376.56" width="0.9" height="0.9" fill="#1f7a2a"/>
<rect x="97.49" y="376.37" width="0.9" height="0.9" fill="#58ac4e"/>
<rect x="69.78" y="378.08" width="0.9" height="0.9" fill="#58ac4e"/>
<rect x="53.4" y="377.69" width="0.9" height="0.9" fill="#1f7a2a"/>
<rect x="101.88" y="372.25" width="0.9" height="0.9" fill="#1d6e22"/>
<rect x="48.66" y="380.41" width="0.9" height="0.9" fill="#3c9c3c"/>
<rect x="76.9" y="375.34" width="0.9" height="0.9" fill="#2a862a"/>
<rect x="82.19" y="374.4" width="0.9" height="0.9" fill="#2a862a"/>
<rect x="88.39" y="379.63" width="0.9" height="0.9" fill="#1d6e22"/>
<rect x="55.2" y="380.6" width="0.9" height="0.9" fill="#2a862a"/>
<rect x="82.3" y="379.12" width="0.9" height="0.9" fill="#58ac4e"/>
<rect x="89.42" y="378.57" width="0.9" height="0.9" fill="#58ac4e"/>
<rect x="82.6" y="379.3" width="0.9" height="0.9" fill="#58ac4e"/>
<rect x="62.83" y="382.1" width="0.9" height="0.9" fill="#1d6e22"/>
<rect x="60.81" y="376.51" width="0.9" height="0.9" fill="#2a862a"/>
<rect x="77.84" y="378.15" width="0.9" height="0.9" fill="#1d6e22"/>
<rect x="50.2" y="376.13" width="0.9" height="0.9" fill="#58ac4e"/>
<rect x="71.02" y="376.65" width="0.9" height="0.9" fill="#58ac4e"/>
<rect x="75.86" y="375.48" width="0.9" height="0.9" fill="#3c9c3c"/>
<rect x="72.76" y="375.43" width="0.9" height="0.9" fill="#c0304a"/>
<rect x="50.01" y="379.28" width="0.9" height="0.9" fill="#3c9c3c"/>
<rect x="48.77" y="374.97" width="0.9" height="0.9" fill="#58ac4e"/>
<rect x="107.17" y="373.23" width="0.9" height="0.9" fill="#58ac4e"/>
<rect x="62.03" y="381.15" width="0.9" height="0.9" fill="#58ac4e"/>
<rect x="57.78" y="378.81" width="0.9" height="0.9" fill="#2a862a"/>
<rect x="64.64" y="377.21" width="0.9" height="0.9" fill="#1d6e22"/>
<rect x="59.53" y="379.68" width="0.9" height="0.9" fill="#2a862a"/>
<rect x="54.5" y="375.78" width="0.9" height="0.9" fill="#2a862a"/>
<rect x="100.91" y="378.66" width="0.9" height="0.9" fill="#1d6e22"/>
<rect x="53.17" y="378.86" width="0.9" height="0.9" fill="#58ac4e"/>
<rect x="97.58" y="381.89" width="0.9" height="0.9" fill="#3c9c3c"/>
<rect x="105.63" y="376.81" width="0.9" height="0.9" fill="#58ac4e"/>
<rect x="97.69" y="379.77" width="0.9" height="0.9" fill="#1f7a2a"/>
<rect x="59.01" y="376.76" width="0.9" height="0.9" fill="#2a862a"/>
<rect x="52.59" y="377.68" width="0.9" height="0.9" fill="#3c9c3c"/>
<rect x="83.65" y="376.55" width="0.9" height="0.9" fill="#58ac4e"/>
<rect x="76.44" y="378.04" width="0.9" height="0.9" fill="#1f7a2a"/>
<rect x="51.26" y="374.53" width="0.9" height="0.9" fill="#2a862a"/>
<rect x="74.67" y="378.17" width="0.9" height="0.9" fill="#2a862a"/>
<rect x="52.62" y="377.28" width="0.9" height="0.9" fill="#58ac4e"/>
<rect x="95.93" y="380.02" width="0.9" height="0.9" fill="#1f7a2a"/>
<rect x="63.37" y="376.29" width="0.9" height="0.9" fill="#58ac4e"/>
<rect x="100.08" y="374.86" width="0.9" height="0.9" fill="#2a862a"/>
<rect x="88.16" y="377.9" width="0.9" height="0.9" fill="#1d6e22"/>
<rect x="95.96" y="374.59" width="0.9" height="0.9" fill="#1f7a2a"/>
<rect x="77.02" y="376.48" width="0.9" height="0.9" fill="#3c9c3c"/>
<rect x="57.67" y="379.7" width="0.9" height="0.9" fill="#3c9c3c"/>
<rect x="104.06" y="380.54" width="0.9" height="0.9" fill="#1d6e22"/>
<rect x="89.97" y="376.18" width="0.9" height="0.9" fill="#3c9c3c"/>
<rect x="94.2" y="376.66" width="0.9" height="0.9" fill="#58ac4e"/>
<rect x="71.2" y="381.21" width="0.9" height="0.9" fill="#1f7a2a"/>
<rect x="60.81" y="379.36" width="0.9" height="0.9" fill="#1d6e22"/>
<rect x="50.46" y="381.12" width="0.9" height="0.9" fill="#1d6e22"/>
<rect x="87.73" y="379.55" width="0.9" height="0.9" fill="#1d6e22"/>
<rect x="69.16" y="378.52" width="0.9" height="0.9" fill="#2a862a"/>
<rect x="65.77" y="377.49" width="0.9" height="0.9" fill="#1f7a2a"/>
<rect x="72.43" y="376.34" width="0.9" height="0.9" fill="#6a7a2a"/>
<rect x="68.03" y="379.13" width="0.9" height="0.9" fill="#2a862a"/>
<rect x="54.6" y="376.19" width="0.9" height="0.9" fill="#1f7a2a"/>
<rect x="100.54" y="379.85" width="0.9" height="0.9" fill="#58ac4e"/>
<rect x="83.96" y="377.09" width="0.9" height="0.9" fill="#1f7a2a"/>
<rect x="68.54" y="375.27" width="0.9" height="0.9" fill="#3c9c3c"/>
<rect x="82.5" y="383.57" width="0.9" height="0.9" fill="#2a862a"/>
<rect x="55.85" y="376.71" width="0.9" height="0.9" fill="#1d6e22"/>
<rect x="51.08" y="379.04" width="0.9" height="0.9" fill="#58ac4e"/>
<rect x="102.85" y="380.06" width="0.9" height="0.9" fill="#1d6e22"/>
<rect x="107.82" y="379.01" width="0.9" height="0.9" fill="#3c9c3c"/>
<rect x="72.1" y="379.75" width="0.9" height="0.9" fill="#6a7a2a"/>
<rect x="48.42" y="373.44" width="0.9" height="0.9" fill="#1f7a2a"/>
<rect x="98.14" y="377.58" width="0.9" height="0.9" fill="#1f7a2a"/>
<rect x="59.07" y="374.73" width="0.9" height="0.9" fill="#1d6e22"/>
<rect x="66.92" y="381.11" width="0.9" height="0.9" fill="#3c9c3c"/>
<rect x="75.78" y="377.37" width="0.9" height="0.9" fill="#1f7a2a"/>
<rect x="81.89" y="377.4" width="0.9" height="0.9" fill="#3c9c3c"/>
<rect x="68.65" y="380.52" width="0.9" height="0.9" fill="#1d6e22"/>
<rect x="47.53" y="378.63" width="0.9" height="0.9" fill="#58ac4e"/>
<rect x="88.84" y="378.67" width="0.9" height="0.9" fill="#2a862a"/>
<rect x="52.98" y="379.7" width="0.9" height="0.9" fill="#1d6e22"/>
<rect x="49.3" y="378.74" width="0.9" height="0.9" fill="#58ac4e"/>
<rect x="71.81" y="379.78" width="0.9" height="0.9" fill="#6a7a2a"/>
<rect x="88.35" y="377.32" width="0.9" height="0.9" fill="#1f7a2a"/>
<rect x="68.49" y="377.62" width="0.9" height="0.9" fill="#58ac4e"/>
<rect x="73.75" y="374.65" width="0.9" height="0.9" fill="#c0304a"/>
<rect x="62.31" y="378.62" width="0.9" height="0.9" fill="#3c9c3c"/>
<rect x="47.6" y="378.99" width="0.9" height="0.9" fill="#1f7a2a"/>
<rect x="76.22" y="375.36" width="0.9" height="0.9" fill="#1f7a2a"/>
<rect x="62.28" y="379.32" width="0.9" height="0.9" fill="#3c9c3c"/>
<rect x="75.16" y="380.15" width="0.9" height="0.9" fill="#1f7a2a"/>
<rect x="57.16" y="377.09" width="0.9" height="0.9" fill="#1f7a2a"/>
<rect x="78.35" y="379.12" width="0.9" height="0.9" fill="#58ac4e"/>
<rect x="61.09" y="378.43" width="0.9" height="0.9" fill="#3c9c3c"/>
<rect x="74.29" y="380.2" width="0.9" height="0.9" fill="#c0304a"/>
<rect x="68.34" y="379.95" width="0.9" height="0.9" fill="#2a862a"/>
<rect x="101.59" y="381.15" width="0.9" height="0.9" fill="#1f7a2a"/>
<rect x="74.93" y="376.07" width="0.9" height="0.9" fill="#2a862a"/>
<rect x="95.8" y="376.28" width="0.9" height="0.9" fill="#1d6e22"/>
<rect x="103.88" y="379.77" width="0.9" height="0.9" fill="#58ac4e"/>
<rect x="48.27" y="378.12" width="0.9" height="0.9" fill="#1d6e22"/>
<rect x="54.11" y="380.14" width="0.9" height="0.9" fill="#1d6e22"/>
<rect x="89.92" y="377.01" width="0.9" height="0.9" fill="#58ac4e"/>
<rect x="66.46" y="378.51" width="0.9" height="0.9" fill="#2a862a"/>
<rect x="72.85" y="373.29" width="0.9" height="0.9" fill="#6a7a2a"/>
<rect x="89.75" y="382.02" width="0.9" height="0.9" fill="#2a862a"/>
<rect x="102.8" y="375.51" width="0.9" height="0.9" fill="#2a862a"/>
<rect x="69.99" y="373.98" width="0.9" height="0.9" fill="#3c9c3c"/>
<rect x="57.47" y="382.26" width="0.9" height="0.9" fill="#1d6e22"/>
<rect x="67.08" y="376.76" width="0.9" height="0.9" fill="#1f7a2a"/>
<rect x="65.61" y="378.04" width="0.9" height="0.9" fill="#1d6e22"/>
<rect x="67.62" y="381.64" width="0.9" height="0.9" fill="#1f7a2a"/>
<rect x="82.42" y="378.95" width="0.9" height="0.9" fill="#58ac4e"/>
<rect x="60.12" y="378.86" width="0.9" height="0.9" fill="#1f7a2a"/>
<rect x="64.05" y="379.03" width="0.9" height="0.9" fill="#2a862a"/>
<rect x="105.33" y="376.96" width="0.9" height="0.9" fill="#1d6e22"/>
<rect x="56.93" y="381.44" width="0.9" height="0.9" fill="#58ac4e"/>
<rect x="97.66" y="379.72" width="0.9" height="0.9" fill="#1f7a2a"/>
<rect x="66.95" y="378.62" width="0.9" height="0.9" fill="#1d6e22"/>
<rect x="66.37" y="377.86" width="0.9" height="0.9" fill="#3c9c3c"/>
<rect x="95.5" y="377.29" width="0.9" height="0.9" fill="#3c9c3c"/>
<rect x="66.84" y="380.85" width="0.9" height="0.9" fill="#58ac4e"/>
<rect x="105.81" y="380.85" width="0.9" height="0.9" fill="#2a862a"/>
<rect x="57.84" y="380.17" width="0.9" height="0.9" fill="#3c9c3c"/>
<rect x="73.61" y="380.31" width="0.9" height="0.9" fill="#c0304a"/>
<rect x="80.21" y="377.51" width="0.9" height="0.9" fill="#3c9c3c"/>
<rect x="98.45" y="378.01" width="0.9" height="0.9" fill="#2a862a"/>
<rect x="53.24" y="380.74" width="0.9" height="0.9" fill="#1d6e22"/>
<rect x="79.56" y="379.04" width="0.9" height="0.9" fill="#58ac4e"/>
<rect x="48.11" y="377.6" width="0.9" height="0.9" fill="#1d6e22"/>
<rect x="70.21" y="375.48" width="0.9" height="0.9" fill="#58ac4e"/>
<rect x="74.43" y="376.81" width="0.9" height="0.9" fill="#6a7a2a"/>
<rect x="100.72" y="376.63" width="0.9" height="0.9" fill="#1d6e22"/>
<rect x="72.29" y="376.72" width="0.9" height="0.9" fill="#c0304a"/>
<rect x="106.04" y="378.52" width="0.9" height="0.9" fill="#2a862a"/>
<rect x="53.81" y="379.51" width="0.9" height="0.9" fill="#3c9c3c"/>
<rect x="88.48" y="378.13" width="0.9" height="0.9" fill="#1d6e22"/>
<rect x="53.69" y="375.38" width="0.9" height="0.9" fill="#1f7a2a"/>
<rect x="54.33" y="375.41" width="0.9" height="0.9" fill="#2a862a"/>
<rect x="52.43" y="380.1" width="0.9" height="0.9" fill="#1f7a2a"/>
<rect x="50.84" y="380.07" width="0.9" height="0.9" fill="#1f7a2a"/>
<rect x="71.51" y="378.07" width="0.9" height="0.9" fill="#c0304a"/>
<rect x="88.27" y="380.02" width="0.9" height="0.9" fill="#3c9c3c"/>
<rect x="96.35" y="377.48" width="0.9" height="0.9" fill="#1d6e22"/>
<rect x="99.59" y="377.73" width="0.9" height="0.9" fill="#1f7a2a"/>
<rect x="74.62" y="378.27" width="0.9" height="0.9" fill="#1d6e22"/>
<rect x="69.91" y="376.56" width="0.9" height="0.9" fill="#1f7a2a"/>
<rect x="63.08" y="376.51" width="0.9" height="0.9" fill="#3c9c3c"/>
<rect x="59.49" y="378.08" width="0.9" height="0.9" fill="#2a862a"/>
<rect x="82.32" y="379.96" width="0.9" height="0.9" fill="#3c9c3c"/>
<rect x="52.0" y="380.32" width="0.9" height="0.9" fill="#1d6e22"/>
<rect x="88.98" y="377.9" width="0.9" height="0.9" fill="#58ac4e"/>
<rect x="74.07" y="374.44" width="0.9" height="0.9" fill="#c0304a"/>
<rect x="62.77" y="378.71" width="0.9" height="0.9" fill="#3c9c3c"/>
<rect x="65.81" y="380.1" width="0.9" height="0.9" fill="#2a862a"/>
<rect x="55.77" y="379.29" width="0.9" height="0.9" fill="#3c9c3c"/>
<rect x="80.31" y="378.26" width="0.9" height="0.9" fill="#1d6e22"/>
<rect x="62.38" y="378.7" width="0.9" height="0.9" fill="#58ac4e"/>
<rect x="91.63" y="376.98" width="0.9" height="0.9" fill="#3c9c3c"/>
<rect x="61.26" y="380.85" width="0.9" height="0.9" fill="#1f7a2a"/>
<rect x="79.3" y="375.68" width="0.9" height="0.9" fill="#2a862a"/>
<rect x="92.92" y="379.69" width="0.9" height="0.9" fill="#1d6e22"/>
<rect x="103.65" y="377.97" width="0.9" height="0.9" fill="#1d6e22"/>
<rect x="71.93" y="379.13" width="0.9" height="0.9" fill="#c0304a"/>
<rect x="105.44" y="377.34" width="0.9" height="0.9" fill="#1f7a2a"/>
<rect x="107.57" y="375.05" width="0.9" height="0.9" fill="#58ac4e"/>
<rect x="54.34" y="378.01" width="0.9" height="0.9" fill="#1d6e22"/>
<rect x="86.94" y="378.29" width="0.9" height="0.9" fill="#2a862a"/>
<rect x="47.37" y="375.72" width="0.9" height="0.9" fill="#2a862a"/>
<rect x="51.95" y="377.26" width="0.9" height="0.9" fill="#3c9c3c"/>
<rect x="69.04" y="378.12" width="0.9" height="0.9" fill="#3c9c3c"/>
<rect x="84.53" y="377.17" width="0.9" height="0.9" fill="#58ac4e"/>
<rect x="62.13" y="381.13" width="0.9" height="0.9" fill="#1d6e22"/>
<rect x="107.59" y="377.88" width="0.9" height="0.9" fill="#3c9c3c"/>
<rect x="93.3" y="380.66" width="0.9" height="0.9" fill="#3c9c3c"/>
<rect x="61.97" y="379.63" width="0.9" height="0.9" fill="#1f7a2a"/>
<rect x="93.57" y="377.31" width="0.9" height="0.9" fill="#1f7a2a"/>
<rect x="61.77" y="378.87" width="0.9" height="0.9" fill="#1f7a2a"/>
<rect x="49.01" y="379.52" width="0.9" height="0.9" fill="#2a862a"/>
<rect x="71.73" y="374.51" width="0.9" height="0.9" fill="#c0304a"/>
<rect x="55.7" y="376.77" width="0.9" height="0.9" fill="#1f7a2a"/>
<rect x="94.17" y="377.98" width="0.9" height="0.9" fill="#1d6e22"/>
<rect x="81.22" y="379.33" width="0.9" height="0.9" fill="#3c9c3c"/>
<rect x="78.41" y="378.06" width="0.9" height="0.9" fill="#3c9c3c"/>
<rect x="103.4" y="379.67" width="0.9" height="0.9" fill="#1f7a2a"/>
<rect x="89.68" y="382.15" width="0.9" height="0.9" fill="#1d6e22"/>
<rect x="87.16" y="377.06" width="0.9" height="0.9" fill="#1f7a2a"/>
<rect x="73.56" y="381.89" width="0.9" height="0.9" fill="#c0304a"/>
<rect x="99.11" y="377.55" width="0.9" height="0.9" fill="#1f7a2a"/>
<rect x="106.19" y="377.81" width="0.9" height="0.9" fill="#2a862a"/>
<rect x="98.42" y="377.83" width="0.9" height="0.9" fill="#2a862a"/>
<rect x="49.88" y="382.69" width="0.9" height="0.9" fill="#1d6e22"/>
<rect x="64.64" y="376.5" width="0.9" height="0.9" fill="#58ac4e"/>
<rect x="103.76" y="376.51" width="0.9" height="0.9" fill="#58ac4e"/>
<rect x="79.88" y="378.11" width="0.9" height="0.9" fill="#1f7a2a"/>
<rect x="86.88" y="380.67" width="0.9" height="0.9" fill="#3c9c3c"/>
<rect x="80.12" y="381.32" width="0.9" height="0.9" fill="#1d6e22"/>
<rect x="52.17" y="377.4" width="0.9" height="0.9" fill="#2a862a"/>
<rect x="85.23" y="377.87" width="0.9" height="0.9" fill="#1d6e22"/>
<rect x="59.67" y="379.44" width="0.9" height="0.9" fill="#1d6e22"/>
<rect x="55.54" y="375.62" width="0.9" height="0.9" fill="#58ac4e"/>
<rect x="73.56" y="377.93" width="0.9" height="0.9" fill="#6a7a2a"/>
<rect x="54.89" y="375.65" width="0.9" height="0.9" fill="#58ac4e"/>
<rect x="85.94" y="380.52" width="0.9" height="0.9" fill="#3c9c3c"/>
<rect x="97.62" y="379.71" width="0.9" height="0.9" fill="#58ac4e"/>
<rect x="57.84" y="377.83" width="0.9" height="0.9" fill="#2a862a"/>
<rect x="99.26" y="381.8" width="0.9" height="0.9" fill="#2a862a"/>
<rect x="70.22" y="377.25" width="0.9" height="0.9" fill="#58ac4e"/>
<rect x="81.36" y="375.86" width="0.9" height="0.9" fill="#1f7a2a"/>
<rect x="77.1" y="381.68" width="0.9" height="0.9" fill="#1d6e22"/>
<rect x="76.84" y="377.92" width="0.9" height="0.9" fill="#1d6e22"/>
<rect x="77.64" y="379.94" width="0.9" height="0.9" fill="#3c9c3c"/>
<rect x="100.59" y="377.61" width="0.9" height="0.9" fill="#1d6e22"/>
<rect x="72.31" y="378.52" width="0.9" height="0.9" fill="#6a7a2a"/>
<rect x="61.8" y="377.59" width="0.9" height="0.9" fill="#1d6e22"/>
<rect x="58.49" y="380.15" width="0.9" height="0.9" fill="#1f7a2a"/>
<rect x="75.24" y="381.42" width="0.9" height="0.9" fill="#1f7a2a"/>
<rect x="72.08" y="377.07" width="0.9" height="0.9" fill="#c0304a"/>
<rect x="49.4" y="380.13" width="0.9" height="0.9" fill="#1d6e22"/>
<rect x="99.37" y="379.99" width="0.9" height="0.9" fill="#1d6e22"/>
<rect x="97.27" y="382.4" width="0.9" height="0.9" fill="#2a862a"/>
<rect x="90.92" y="379.71" width="0.9" height="0.9" fill="#1d6e22"/>
<rect x="81.54" y="377.28" width="0.9" height="0.9" fill="#1d6e22"/>
<rect x="75.96" y="378.64" width="0.9" height="0.9" fill="#1f7a2a"/>
<rect x="89.16" y="380.19" width="0.9" height="0.9" fill="#2a862a"/>
<rect x="63.51" y="376.63" width="0.9" height="0.9" fill="#1d6e22"/>
<rect x="81.95" y="376.03" width="0.9" height="0.9" fill="#1d6e22"/>
<rect x="79.99" y="380.13" width="0.9" height="0.9" fill="#1f7a2a"/>
<rect x="68.54" y="376.72" width="0.9" height="0.9" fill="#3c9c3c"/>
<rect x="97.13" y="376.23" width="0.9" height="0.9" fill="#1d6e22"/>
<rect x="105.68" y="379.1" width="0.9" height="0.9" fill="#2a862a"/>
<rect x="74.78" y="381.18" width="0.9" height="0.9" fill="#58ac4e"/>
<rect x="67.41" y="379.13" width="0.9" height="0.9" fill="#3c9c3c"/>
<rect x="71.14" y="378.49" width="0.9" height="0.9" fill="#1d6e22"/>
<rect x="61.86" y="382.47" width="0.9" height="0.9" fill="#1f7a2a"/>
<rect x="83.2" y="377.24" width="0.9" height="0.9" fill="#1d6e22"/>
<rect x="74.19" y="381.46" width="0.9" height="0.9" fill="#c0304a"/>
<rect x="86.04" y="380.02" width="0.9" height="0.9" fill="#1d6e22"/>
<rect x="56.94" y="377.3" width="0.9" height="0.9" fill="#3c9c3c"/>
<rect x="83.55" y="379.4" width="0.9" height="0.9" fill="#2a862a"/>
<rect x="74.11" y="380.84" width="0.9" height="0.9" fill="#6a7a2a"/>
<rect x="85.87" y="378.02" width="0.9" height="0.9" fill="#58ac4e"/>
<rect x="88.66" y="376.94" width="0.9" height="0.9" fill="#1d6e22"/>
<rect x="81.29" y="378.47" width="0.9" height="0.9" fill="#2a862a"/>
<rect x="78.45" y="381.47" width="0.9" height="0.9" fill="#2a862a"/>
<rect x="64.2" y="377.58" width="0.9" height="0.9" fill="#2a862a"/>
<rect x="93.63" y="376.81" width="0.9" height="0.9" fill="#2a862a"/>
<rect x="106.32" y="380.31" width="0.9" height="0.9" fill="#2a862a"/>
<rect x="82.88" y="375.75" width="0.9" height="0.9" fill="#1f7a2a"/>
<rect x="103.95" y="377.4" width="0.9" height="0.9" fill="#1d6e22"/>
<rect x="58.86" y="378.32" width="0.9" height="0.9" fill="#2a862a"/>
<rect x="52.67" y="380.36" width="0.9" height="0.9" fill="#58ac4e"/>
<rect x="87.66" y="377.53" width="0.9" height="0.9" fill="#1d6e22"/>
<rect x="86.15" y="376.68" width="0.9" height="0.9" fill="#2a862a"/>
<rect x="60.79" y="377.27" width="0.9" height="0.9" fill="#1f7a2a"/>
<rect x="52.85" y="377.05" width="0.9" height="0.9" fill="#2a862a"/>
<rect x="98.23" y="377.34" width="0.9" height="0.9" fill="#1f7a2a"/>
<rect x="69.58" y="379.32" width="0.9" height="0.9" fill="#3c9c3c"/>
<rect x="74.51" y="372.91" width="0.9" height="0.9" fill="#2a862a"/>
<rect x="94.94" y="374.72" width="0.9" height="0.9" fill="#3c9c3c"/>
<rect x="88.68" y="378.53" width="0.9" height="0.9" fill="#3c9c3c"/>
<rect x="75.68" y="378.23" width="0.9" height="0.9" fill="#1d6e22"/>
<rect x="74.37" y="379.09" width="0.9" height="0.9" fill="#c0304a"/>
<rect x="47.84" y="382.47" width="0.9" height="0.9" fill="#2a862a"/>
<rect x="58.35" y="377.43" width="0.9" height="0.9" fill="#2a862a"/>
<rect x="86.24" y="376.07" width="0.9" height="0.9" fill="#1f7a2a"/>
<rect x="62.87" y="377.01" width="0.9" height="0.9" fill="#1d6e22"/>
<rect x="84.22" y="379.2" width="0.9" height="0.9" fill="#1d6e22"/>
<rect x="59.18" y="379.28" width="0.9" height="0.9" fill="#3c9c3c"/>
<rect x="56.07" y="378.51" width="0.9" height="0.9" fill="#3c9c3c"/>
<rect x="88.66" y="376.9" width="0.9" height="0.9" fill="#3c9c3c"/>
<rect x="58.27" y="374.5" width="0.9" height="0.9" fill="#1f7a2a"/>
<rect x="60.66" y="377.05" width="0.9" height="0.9" fill="#1f7a2a"/>
<rect x="79.0" y="378.5" width="0.9" height="0.9" fill="#1d6e22"/>
<rect x="76.0" y="378.16" width="0.9" height="0.9" fill="#1d6e22"/>
<rect x="91.09" y="379.99" width="0.9" height="0.9" fill="#1f7a2a"/>
<rect x="84.55" y="377.56" width="0.9" height="0.9" fill="#58ac4e"/>
<rect x="61.81" y="379.78" width="0.9" height="0.9" fill="#58ac4e"/>
<rect x="58.56" y="379.65" width="0.9" height="0.9" fill="#2a862a"/>
<rect x="47.97" y="378.04" width="0.9" height="0.9" fill="#1f7a2a"/>
<rect x="61.51" y="380.14" width="0.9" height="0.9" fill="#3c9c3c"/>
<rect x="89.27" y="379.14" width="0.9" height="0.9" fill="#1d6e22"/>
<rect x="75.09" y="376.62" width="0.9" height="0.9" fill="#1f7a2a"/>
<rect x="104.26" y="377.61" width="0.9" height="0.9" fill="#58ac4e"/>
<rect x="54.54" y="375.83" width="0.9" height="0.9" fill="#3c9c3c"/>
<rect x="104.15" y="378.4" width="0.9" height="0.9" fill="#58ac4e"/>
<rect x="105.37" y="374.26" width="0.9" height="0.9" fill="#1d6e22"/>
<rect x="89.61" y="376.21" width="0.9" height="0.9" fill="#1f7a2a"/>
<rect x="81.02" y="379.71" width="0.9" height="0.9" fill="#3c9c3c"/>
<rect x="70.17" y="376.8" width="0.9" height="0.9" fill="#1f7a2a"/>
<rect x="47.21" y="380.42" width="0.9" height="0.9" fill="#3c9c3c"/>
<rect x="81.19" y="379.45" width="0.9" height="0.9" fill="#2a862a"/>
<rect x="57.37" y="375.5" width="0.9" height="0.9" fill="#1d6e22"/>
<rect x="73.49" y="375.88" width="0.9" height="0.9" fill="#6a7a2a"/>
<rect x="50.57" y="379.59" width="0.9" height="0.9" fill="#1d6e22"/>
<rect x="48.7" y="376.0" width="0.9" height="0.9" fill="#58ac4e"/>
<rect x="80.61" y="378.22" width="0.9" height="0.9" fill="#2a862a"/>
<rect x="99.32" y="376.93" width="0.9" height="0.9" fill="#1f7a2a"/>
<rect x="73.89" y="376.62" width="0.9" height="0.9" fill="#c0304a"/>
<rect x="64.8" y="377.87" width="0.9" height="0.9" fill="#58ac4e"/>
<rect x="71.12" y="377.3" width="0.9" height="0.9" fill="#1d6e22"/>
<rect x="87.46" y="379.3" width="0.9" height="0.9" fill="#2a862a"/>
<rect x="85.67" y="378.34" width="0.9" height="0.9" fill="#1d6e22"/>
<rect x="93.81" y="377.54" width="0.9" height="0.9" fill="#1d6e22"/>
<rect x="69.96" y="375.69" width="0.9" height="0.9" fill="#2a862a"/>
<rect x="48.77" y="378.23" width="0.9" height="0.9" fill="#1d6e22"/>
<rect x="105.08" y="379.47" width="0.9" height="0.9" fill="#3c9c3c"/>
<rect x="89.56" y="375.39" width="0.9" height="0.9" fill="#2a862a"/>
<rect x="102.45" y="382.18" width="0.9" height="0.9" fill="#1f7a2a"/>
<rect x="94.95" y="377.17" width="0.9" height="0.9" fill="#3c9c3c"/>
<rect x="53.31" y="378.3" width="0.9" height="0.9" fill="#1f7a2a"/>
<rect x="86.36" y="376.33" width="0.9" height="0.9" fill="#2a862a"/>
<rect x="71.37" y="376.78" width="0.9" height="0.9" fill="#1f7a2a"/>
<rect x="89.0" y="376.7" width="0.9" height="0.9" fill="#3c9c3c"/>
<rect x="100.9" y="379.56" width="0.9" height="0.9" fill="#2a862a"/>
<rect x="57.06" y="373.59" width="0.9" height="0.9" fill="#1f7a2a"/>
<rect x="49.88" y="377.99" width="0.9" height="0.9" fill="#3c9c3c"/>
<rect x="84.95" y="379.51" width="0.9" height="0.9" fill="#2a862a"/>
<rect x="59.04" y="380.11" width="0.9" height="0.9" fill="#58ac4e"/>
<rect x="63.88" y="376.47" width="0.9" height="0.9" fill="#1f7a2a"/>
<rect x="103.9" y="379.35" width="0.9" height="0.9" fill="#1f7a2a"/>
<rect x="81.37" y="375.11" width="0.9" height="0.9" fill="#2a862a"/>
<rect x="107.09" y="378.93" width="0.9" height="0.9" fill="#3c9c3c"/>
<rect x="58.71" y="378.95" width="0.9" height="0.9" fill="#2a862a"/>
<rect x="47.36" y="380.56" width="0.9" height="0.9" fill="#58ac4e"/>
<rect x="48.99" y="377.16" width="0.9" height="0.9" fill="#3c9c3c"/>
<rect x="73.4" y="378.19" width="0.9" height="0.9" fill="#c0304a"/>
<rect x="87.89" y="378.05" width="0.9" height="0.9" fill="#58ac4e"/>
<rect x="83.91" y="377.84" width="0.9" height="0.9" fill="#1d6e22"/>
<rect x="107.57" y="378.31" width="0.9" height="0.9" fill="#1f7a2a"/>
<rect x="84.47" y="378.33" width="0.9" height="0.9" fill="#1f7a2a"/>
<rect x="52.96" y="379.17" width="0.9" height="0.9" fill="#1f7a2a"/>
<rect x="88.44" y="381.94" width="0.9" height="0.9" fill="#3c9c3c"/>
<rect x="91.69" y="376.27" width="0.9" height="0.9" fill="#2a862a"/>
<rect x="90.45" y="379.45" width="0.9" height="0.9" fill="#1f7a2a"/>
<rect x="82.57" y="376.31" width="0.9" height="0.9" fill="#3c9c3c"/>
<rect x="86.85" y="378.59" width="0.9" height="0.9" fill="#58ac4e"/>
<rect x="99.82" y="378.13" width="0.9" height="0.9" fill="#3c9c3c"/>
<rect x="49.08" y="376.81" width="0.9" height="0.9" fill="#2a862a"/>
<rect x="86.55" y="381.37" width="0.9" height="0.9" fill="#1f7a2a"/>
<rect x="58.74" y="378.19" width="0.9" height="0.9" fill="#3c9c3c"/>
<rect x="78.84" y="380.65" width="0.9" height="0.9" fill="#58ac4e"/>
<rect x="75.75" y="376.7" width="0.9" height="0.9" fill="#58ac4e"/>
<rect x="48.37" y="378.24" width="0.9" height="0.9" fill="#1d6e22"/>
<rect x="51.52" y="373.75" width="0.9" height="0.9" fill="#58ac4e"/>
<rect x="89.01" y="376.12" width="0.9" height="0.9" fill="#1d6e22"/>
<rect x="59.38" y="381.76" width="0.9" height="0.9" fill="#1f7a2a"/>
<rect x="57.36" y="381.46" width="0.9" height="0.9" fill="#2a862a"/>
<rect x="77.86" y="378.22" width="0.9" height="0.9" fill="#1d6e22"/>
<rect x="87.73" y="379.66" width="0.9" height="0.9" fill="#1d6e22"/>
<rect x="65.67" y="377.04" width="0.9" height="0.9" fill="#1f7a2a"/>
<rect x="87.76" y="378.99" width="0.9" height="0.9" fill="#58ac4e"/>
<rect x="100.38" y="378.79" width="0.9" height="0.9" fill="#1d6e22"/>
<rect x="56.67" y="380.58" width="0.9" height="0.9" fill="#1d6e22"/>
<rect x="63.28" y="379.54" width="0.9" height="0.9" fill="#2a862a"/>
<rect x="92.88" y="376.01" width="0.9" height="0.9" fill="#1f7a2a"/>
<rect x="50.18" y="377.85" width="0.9" height="0.9" fill="#1d6e22"/>
<rect x="57.16" y="372.69" width="0.9" height="0.9" fill="#2a862a"/>
<rect x="68.25" y="376.54" width="0.9" height="0.9" fill="#1d6e22"/>
<rect x="72.9" y="379.98" width="0.9" height="0.9" fill="#c0304a"/>
<rect x="90.31" y="378.61" width="0.9" height="0.9" fill="#58ac4e"/>
<rect x="86.35" y="377.65" width="0.9" height="0.9" fill="#3c9c3c"/>
<rect x="69.75" y="374.32" width="0.9" height="0.9" fill="#1f7a2a"/>
<rect x="50.09" y="376.22" width="0.9" height="0.9" fill="#1d6e22"/>
<rect x="100.14" y="377.01" width="0.9" height="0.9" fill="#1d6e22"/>
<rect x="76.14" y="376.48" width="0.9" height="0.9" fill="#58ac4e"/>
<rect x="86.78" y="375.89" width="0.9" height="0.9" fill="#3c9c3c"/>
<rect x="67.45" y="376.35" width="0.9" height="0.9" fill="#1d6e22"/>
<rect x="105.84" y="376.19" width="0.9" height="0.9" fill="#1f7a2a"/>
<rect x="61.54" y="379.48" width="0.9" height="0.9" fill="#1f7a2a"/>
<rect x="69.47" y="378.88" width="0.9" height="0.9" fill="#58ac4e"/>
<rect x="86.48" y="380.88" width="0.9" height="0.9" fill="#1f7a2a"/>
<rect x="68.37" y="376.46" width="0.9" height="0.9" fill="#3c9c3c"/>
<rect x="86.83" y="378.8" width="0.9" height="0.9" fill="#1d6e22"/>
<rect x="85.45" y="378.1" width="0.9" height="0.9" fill="#1f7a2a"/>
<rect x="73.96" y="376.88" width="0.9" height="0.9" fill="#6a7a2a"/>
<rect x="49.7" y="379.67" width="0.9" height="0.9" fill="#2a862a"/>
<rect x="60.24" y="380.71" width="0.9" height="0.9" fill="#1f7a2a"/>
<rect x="61.87" y="375.15" width="0.9" height="0.9" fill="#2a862a"/>
<rect x="81.69" y="378.3" width="0.9" height="0.9" fill="#1f7a2a"/>
<rect x="89.81" y="377.44" width="0.9" height="0.9" fill="#2a862a"/>
<rect x="85.21" y="376.81" width="0.9" height="0.9" fill="#2a862a"/>
<rect x="76.81" y="374.43" width="0.9" height="0.9" fill="#1f7a2a"/>
<rect x="59.4" y="378.78" width="0.9" height="0.9" fill="#1f7a2a"/>
<rect x="49.76" y="379.67" width="0.9" height="0.9" fill="#1d6e22"/>
<rect x="90.75" y="379.55" width="0.9" height="0.9" fill="#2a862a"/>
<rect x="56.88" y="377.87" width="0.9" height="0.9" fill="#1d6e22"/>
<rect x="91.14" y="379.36" width="0.9" height="0.9" fill="#58ac4e"/>
<rect x="94.55" y="375.73" width="0.9" height="0.9" fill="#1d6e22"/>
<rect x="107.25" y="378.65" width="0.9" height="0.9" fill="#58ac4e"/>
<rect x="89.04" y="378.1" width="0.9" height="0.9" fill="#1d6e22"/>
<rect x="70.72" y="379.43" width="0.9" height="0.9" fill="#58ac4e"/>
<rect x="66.25" y="376.61" width="0.9" height="0.9" fill="#58ac4e"/>
<rect x="55.13" y="379.13" width="0.9" height="0.9" fill="#1d6e22"/>
<rect x="82.61" y="376.62" width="0.9" height="0.9" fill="#2a862a"/>
<rect x="73.92" y="375.53" width="0.9" height="0.9" fill="#c0304a"/>
<rect x="92.45" y="378.51" width="0.9" height="0.9" fill="#2a862a"/>
<rect x="62.13" y="377.83" width="0.9" height="0.9" fill="#3c9c3c"/>
<rect x="95.62" y="375.28" width="0.9" height="0.9" fill="#2a862a"/>
<rect x="89.63" y="381.15" width="0.9" height="0.9" fill="#1f7a2a"/>
<rect x="107.16" y="381.54" width="0.9" height="0.9" fill="#3c9c3c"/>
<rect x="51.65" y="379.34" width="0.9" height="0.9" fill="#3c9c3c"/>
<rect x="73.18" y="380.11" width="0.9" height="0.9" fill="#c0304a"/>
<rect x="73.08" y="377.57" width="0.9" height="0.9" fill="#6a7a2a"/>
<rect x="102.9" y="377.13" width="0.9" height="0.9" fill="#3c9c3c"/>
<rect x="58.64" y="381.05" width="0.9" height="0.9" fill="#1f7a2a"/>
<rect x="104.6" y="378.6" width="0.9" height="0.9" fill="#2a862a"/>
<rect x="91.6" y="375.13" width="0.9" height="0.9" fill="#1d6e22"/>
<rect x="95.21" y="379.72" width="0.9" height="0.9" fill="#1f7a2a"/>
<rect x="96.95" y="377.25" width="0.9" height="0.9" fill="#1d6e22"/>
<rect x="52.99" y="378.68" width="0.9" height="0.9" fill="#58ac4e"/>
<rect x="95.15" y="374.74" width="0.9" height="0.9" fill="#58ac4e"/>
<rect x="66.52" y="378.49" width="0.9" height="0.9" fill="#1f7a2a"/>
<rect x="78.02" y="377.4" width="0.9" height="0.9" fill="#1f7a2a"/>
<rect x="66.63" y="377.58" width="0.9" height="0.9" fill="#1d6e22"/>
<rect x="56.7" y="378.85" width="0.9" height="0.9" fill="#1f7a2a"/>
<rect x="77.25" y="374.1" width="0.9" height="0.9" fill="#2a862a"/>
<rect x="74.02" y="382.15" width="0.9" height="0.9" fill="#c0304a"/>
<rect x="56.14" y="379.97" width="0.9" height="0.9" fill="#1d6e22"/>
<rect x="61.91" y="382.44" width="0.9" height="0.9" fill="#1f7a2a"/>
<rect x="51.55" y="379.03" width="0.9" height="0.9" fill="#3c9c3c"/>
<rect x="64.77" y="377.6" width="0.9" height="0.9" fill="#3c9c3c"/>
<rect x="76.64" y="380.58" width="0.9" height="0.9" fill="#1f7a2a"/>
<rect x="51.92" y="378.71" width="0.9" height="0.9" fill="#58ac4e"/>
<rect x="91.5" y="375.61" width="0.9" height="0.9" fill="#58ac4e"/>
<rect x="50.28" y="378.38" width="0.9" height="0.9" fill="#58ac4e"/>
<rect x="83.96" y="377.71" width="0.9" height="0.9" fill="#1f7a2a"/>
<rect x="88.37" y="379.5" width="0.9" height="0.9" fill="#58ac4e"/>
<rect x="55.64" y="377.96" width="0.9" height="0.9" fill="#58ac4e"/>
<rect x="99.51" y="380.24" width="0.9" height="0.9" fill="#2a862a"/>
<rect x="79.54" y="377.25" width="0.9" height="0.9" fill="#58ac4e"/>
<rect x="106.84" y="378.71" width="0.9" height="0.9" fill="#2a862a"/>
<rect x="86.53" y="375.97" width="0.9" height="0.9" fill="#2a862a"/>
<rect x="104.15" y="380.74" width="0.9" height="0.9" fill="#1d6e22"/>
<rect x="98.84" y="376.17" width="0.9" height="0.9" fill="#1d6e22"/>
<rect x="64.33" y="379.57" width="0.9" height="0.9" fill="#58ac4e"/>
<rect x="52.9" y="378.55" width="0.9" height="0.9" fill="#2a862a"/>
<rect x="78.84" y="374.85" width="0.9" height="0.9" fill="#1d6e22"/>
<rect x="98.01" y="377.56" width="0.9" height="0.9" fill="#2a862a"/>
<rect x="47.65" y="378.05" width="0.9" height="0.9" fill="#3c9c3c"/>
<rect x="59.54" y="379.24" width="0.9" height="0.9" fill="#1f7a2a"/>
<rect x="95.53" y="377.05" width="0.9" height="0.9" fill="#3c9c3c"/>
<rect x="98.76" y="375.65" width="0.9" height="0.9" fill="#58ac4e"/>
<rect x="97.58" y="377.69" width="0.9" height="0.9" fill="#3c9c3c"/>
<rect x="55.38" y="376.89" width="0.9" height="0.9" fill="#58ac4e"/>
<rect x="89.78" y="376.72" width="0.9" height="0.9" fill="#2a862a"/>
<rect x="107.22" y="380.57" width="0.9" height="0.9" fill="#3c9c3c"/>
<rect x="72.3" y="377.8" width="0.9" height="0.9" fill="#6a7a2a"/>
<rect x="55.02" y="379.5" width="0.9" height="0.9" fill="#58ac4e"/>
<rect x="92.06" y="378.27" width="0.9" height="0.9" fill="#3c9c3c"/>
<rect x="84.69" y="378.64" width="0.9" height="0.9" fill="#2a862a"/>
<rect x="103.06" y="382.25" width="0.9" height="0.9" fill="#58ac4e"/>
<rect x="87.07" y="376.82" width="0.9" height="0.9" fill="#58ac4e"/>
<rect x="50.18" y="375.81" width="0.9" height="0.9" fill="#1d6e22"/>
<rect x="52.58" y="380.22" width="0.9" height="0.9" fill="#1f7a2a"/>
<rect x="52.32" y="378.22" width="0.9" height="0.9" fill="#1d6e22"/>
<rect x="84.35" y="379.28" width="0.9" height="0.9" fill="#3c9c3c"/>
<rect x="62.62" y="376.56" width="0.9" height="0.9" fill="#1f7a2a"/>
<rect x="105.02" y="377.96" width="0.9" height="0.9" fill="#3c9c3c"/>
<rect x="64.01" y="377.71" width="0.9" height="0.9" fill="#2a862a"/>
<rect x="53.24" y="378.61" width="0.9" height="0.9" fill="#1d6e22"/>
<rect x="56.86" y="377.03" width="0.9" height="0.9" fill="#1f7a2a"/>
<rect x="53.61" y="376.85" width="0.9" height="0.9" fill="#1d6e22"/>
<rect x="89.4" y="382.37" width="0.9" height="0.9" fill="#2a862a"/>
<rect x="79.99" y="380.56" width="0.9" height="0.9" fill="#58ac4e"/>
<rect x="100.73" y="381.14" width="0.9" height="0.9" fill="#3c9c3c"/>
<rect x="69.67" y="377.99" width="0.9" height="0.9" fill="#3c9c3c"/>
<rect x="63.07" y="377.42" width="0.9" height="0.9" fill="#3c9c3c"/>
<rect x="85.23" y="375.52" width="0.9" height="0.9" fill="#2a862a"/>
<rect x="93.48" y="379.42" width="0.9" height="0.9" fill="#1f7a2a"/>
<rect x="82.26" y="378.68" width="0.9" height="0.9" fill="#58ac4e"/>
<rect x="88.93" y="379.21" width="0.9" height="0.9" fill="#1f7a2a"/>
<rect x="79.22" y="375.75" width="0.9" height="0.9" fill="#3c9c3c"/>
<rect x="48.79" y="379.61" width="0.9" height="0.9" fill="#1f7a2a"/>
<rect x="59.01" y="377.58" width="0.9" height="0.9" fill="#3c9c3c"/>
<rect x="90.41" y="376.23" width="0.9" height="0.9" fill="#3c9c3c"/>
<rect x="82.76" y="377.68" width="0.9" height="0.9" fill="#58ac4e"/>
<rect x="84.14" y="379.7" width="0.9" height="0.9" fill="#1d6e22"/>
<rect x="85.57" y="377.03" width="0.9" height="0.9" fill="#3c9c3c"/>
<rect x="88.07" y="377.01" width="0.9" height="0.9" fill="#58ac4e"/>
<rect x="64.79" y="376.23" width="0.9" height="0.9" fill="#3c9c3c"/>
<rect x="83.79" y="378.56" width="0.9" height="0.9" fill="#58ac4e"/>
<rect x="53.14" y="376.02" width="0.9" height="0.9" fill="#2a862a"/>
<rect x="90.14" y="379.12" width="0.9" height="0.9" fill="#2a862a"/>
<rect x="97.66" y="377.27" width="0.9" height="0.9" fill="#2a862a"/>
<rect x="74.75" y="381.23" width="0.9" height="0.9" fill="#3c9c3c"/>
<rect x="61.61" y="377.32" width="0.9" height="0.9" fill="#1f7a2a"/>
<rect x="93.49" y="377.45" width="0.9" height="0.9" fill="#58ac4e"/>
<rect x="54.0" y="377.6" width="0.9" height="0.9" fill="#58ac4e"/>
<rect x="52.24" y="378.86" width="0.9" height="0.9" fill="#1d6e22"/>
<rect x="88.54" y="378.62" width="0.9" height="0.9" fill="#1d6e22"/>
<rect x="49.01" y="377.6" width="0.9" height="0.9" fill="#58ac4e"/>
<rect x="88.09" y="375.92" width="0.9" height="0.9" fill="#1f7a2a"/>
<rect x="58.39" y="380.33" width="0.9" height="0.9" fill="#2a862a"/>
<rect x="86.68" y="379.32" width="0.9" height="0.9" fill="#58ac4e"/>
<rect x="55.09" y="377.1" width="0.9" height="0.9" fill="#1d6e22"/>
<rect x="104.09" y="378.2" width="0.9" height="0.9" fill="#1f7a2a"/>
<rect x="82.13" y="378.85" width="0.9" height="0.9" fill="#2a862a"/>
<rect x="70.5" y="378.44" width="0.9" height="0.9" fill="#2a862a"/>
<rect x="65.08" y="379.55" width="0.9" height="0.9" fill="#3c9c3c"/>
<rect x="95.49" y="376.94" width="0.9" height="0.9" fill="#58ac4e"/>
<rect x="58.8" y="375.17" width="0.9" height="0.9" fill="#1d6e22"/>
<rect x="65.7" y="375.79" width="0.9" height="0.9" fill="#2a862a"/>
<rect x="86.19" y="377.19" width="0.9" height="0.9" fill="#58ac4e"/>
<rect x="88.55" y="377.69" width="0.9" height="0.9" fill="#1d6e22"/>
<rect x="98.54" y="379.16" width="0.9" height="0.9" fill="#58ac4e"/>
<rect x="91.03" y="380.11" width="0.9" height="0.9" fill="#2a862a"/>
<rect x="75.27" y="378.57" width="0.9" height="0.9" fill="#58ac4e"/>
<rect x="72.9" y="381.38" width="0.9" height="0.9" fill="#6a7a2a"/>
<rect x="76.5" y="383.38" width="0.9" height="0.9" fill="#2a862a"/>
<rect x="103.12" y="375.16" width="0.9" height="0.9" fill="#1d6e22"/>
<rect x="70.12" y="376.26" width="0.9" height="0.9" fill="#1d6e22"/>
<rect x="90.03" y="377.4" width="0.9" height="0.9" fill="#58ac4e"/>
<rect x="95.21" y="379.47" width="0.9" height="0.9" fill="#1f7a2a"/>
<rect x="53.83" y="374.46" width="0.9" height="0.9" fill="#2a862a"/>
<rect x="74.71" y="375.99" width="0.9" height="0.9" fill="#2a862a"/>
<rect x="95.31" y="378.56" width="0.9" height="0.9" fill="#2a862a"/>
<rect x="95.81" y="379.94" width="0.9" height="0.9" fill="#1f7a2a"/>
<rect x="49.15" y="377.69" width="0.9" height="0.9" fill="#1d6e22"/>
<rect x="56.58" y="376.83" width="0.9" height="0.9" fill="#3c9c3c"/>
<rect x="55.73" y="378.05" width="0.9" height="0.9" fill="#1f7a2a"/>
<rect x="104.88" y="377.77" width="0.9" height="0.9" fill="#58ac4e"/>
<rect x="70.93" y="375.97" width="0.9" height="0.9" fill="#2a862a"/>
<rect x="47.69" y="378.39" width="0.9" height="0.9" fill="#58ac4e"/>
<rect x="82.83" y="383.04" width="0.9" height="0.9" fill="#2a862a"/>
<rect x="87.8" y="373.45" width="0.9" height="0.9" fill="#58ac4e"/>
<rect x="97.65" y="379.09" width="0.9" height="0.9" fill="#1f7a2a"/>
<rect x="79.33" y="375.96" width="0.9" height="0.9" fill="#2a862a"/>
<rect x="93.57" y="377.51" width="0.9" height="0.9" fill="#3c9c3c"/>
<rect x="60.47" y="379.93" width="0.9" height="0.9" fill="#58ac4e"/>
<rect x="66.72" y="377.82" width="0.9" height="0.9" fill="#3c9c3c"/>
<rect x="95.16" y="378.77" width="0.9" height="0.9" fill="#2a862a"/>
<rect x="80.53" y="382.02" width="0.9" height="0.9" fill="#1d6e22"/>
<rect x="68.08" y="380.15" width="0.9" height="0.9" fill="#3c9c3c"/>
<rect x="62.53" y="376.83" width="0.9" height="0.9" fill="#1f7a2a"/>
<rect x="80.2" y="380.17" width="0.9" height="0.9" fill="#1d6e22"/>
<rect x="107.09" y="377.14" width="0.9" height="0.9" fill="#1f7a2a"/>
<rect x="48.06" y="378.44" width="0.9" height="0.9" fill="#58ac4e"/>
<rect x="88.48" y="380.28" width="0.9" height="0.9" fill="#3c9c3c"/>
<rect x="103.36" y="375.53" width="0.9" height="0.9" fill="#58ac4e"/>
<rect x="59.29" y="377.93" width="0.9" height="0.9" fill="#1d6e22"/>
<rect x="81.55" y="381.55" width="0.9" height="0.9" fill="#58ac4e"/>
<rect x="77.18" y="381.47" width="0.9" height="0.9" fill="#3c9c3c"/>
<rect x="61.68" y="373.24" width="0.9" height="0.9" fill="#58ac4e"/>
<rect x="88.93" y="378.93" width="0.9" height="0.9" fill="#3c9c3c"/>
<rect x="68.3" y="379.47" width="0.9" height="0.9" fill="#3c9c3c"/>
<rect x="81.29" y="381.13" width="0.9" height="0.9" fill="#2a862a"/>
<rect x="69.96" y="378.25" width="0.9" height="0.9" fill="#58ac4e"/>
<rect x="91.81" y="378.84" width="0.9" height="0.9" fill="#2a862a"/>
<rect x="75.48" y="377.05" width="0.9" height="0.9" fill="#3c9c3c"/>
<rect x="77.62" y="374.13" width="0.9" height="0.9" fill="#58ac4e"/>
<rect x="75.51" y="378.99" width="0.9" height="0.9" fill="#3c9c3c"/>
<rect x="55.76" y="376.66" width="0.9" height="0.9" fill="#2a862a"/>
<rect x="74.02" y="375.03" width="0.9" height="0.9" fill="#c0304a"/>
<rect x="89.47" y="376.26" width="0.9" height="0.9" fill="#58ac4e"/>
<rect x="89.65" y="373.13" width="0.9" height="0.9" fill="#3c9c3c"/>
<rect x="89.61" y="379.06" width="0.9" height="0.9" fill="#3c9c3c"/>
<rect x="101.88" y="377.0" width="0.9" height="0.9" fill="#2a862a"/>
<rect x="57.87" y="383.45" width="0.9" height="0.9" fill="#2a862a"/>
<rect x="81.1" y="382.71" width="0.9" height="0.9" fill="#3c9c3c"/>
<rect x="97.39" y="375.26" width="0.9" height="0.9" fill="#2a862a"/>
<rect x="85.92" y="378.81" width="0.9" height="0.9" fill="#58ac4e"/>
<rect x="65.43" y="375.67" width="0.9" height="0.9" fill="#3c9c3c"/>
<rect x="51.85" y="380.02" width="0.9" height="0.9" fill="#2a862a"/>
<rect x="66.01" y="378.92" width="0.9" height="0.9" fill="#1f7a2a"/>
<rect x="102.68" y="377.91" width="0.9" height="0.9" fill="#1d6e22"/>
<rect x="73.08" y="377.55" width="0.9" height="0.9" fill="#6a7a2a"/>
<rect x="70.11" y="376.91" width="0.9" height="0.9" fill="#3c9c3c"/>
<rect x="79.99" y="379.66" width="0.9" height="0.9" fill="#2a862a"/>
<rect x="69.12" y="375.5" width="0.9" height="0.9" fill="#3c9c3c"/>
<rect x="83.96" y="376.01" width="0.9" height="0.9" fill="#2a862a"/>
<rect x="68.49" y="376.0" width="0.9" height="0.9" fill="#3c9c3c"/>
<rect x="101.72" y="381.57" width="0.9" height="0.9" fill="#1d6e22"/>
<rect x="82.61" y="374.07" width="0.9" height="0.9" fill="#58ac4e"/>
<rect x="63.67" y="381.62" width="0.9" height="0.9" fill="#3c9c3c"/>
<rect x="61.77" y="380.29" width="0.9" height="0.9" fill="#2a862a"/>
<rect x="105.9" y="376.34" width="0.9" height="0.9" fill="#1d6e22"/>
<rect x="87.95" y="377.44" width="0.9" height="0.9" fill="#3c9c3c"/>
<rect x="79.85" y="377.57" width="0.9" height="0.9" fill="#58ac4e"/>
<rect x="73.14" y="375.2" width="0.9" height="0.9" fill="#c0304a"/>
<rect x="56.35" y="376.96" width="0.9" height="0.9" fill="#2a862a"/>
<rect x="78.17" y="378.12" width="0.9" height="0.9" fill="#58ac4e"/>
<rect x="50.54" y="376.19" width="0.9" height="0.9" fill="#58ac4e"/>
<rect x="81.71" y="373.79" width="0.9" height="0.9" fill="#1d6e22"/>
<rect x="91.52" y="378.7" width="0.9" height="0.9" fill="#58ac4e"/>
<rect x="56.81" y="378.1" width="0.9" height="0.9" fill="#58ac4e"/>
<rect x="106.58" y="378.82" width="0.9" height="0.9" fill="#3c9c3c"/>
<rect x="74.7" y="376.93" width="0.9" height="0.9" fill="#58ac4e"/>
<rect x="48.04" y="376.8" width="0.9" height="0.9" fill="#3c9c3c"/>
<rect x="62.48" y="377.47" width="0.9" height="0.9" fill="#1d6e22"/>
<rect x="71.56" y="376.19" width="0.9" height="0.9" fill="#6a7a2a"/>
<rect x="88.15" y="377.78" width="0.9" height="0.9" fill="#1d6e22"/>
<rect x="83.84" y="379.25" width="0.9" height="0.9" fill="#2a862a"/>
<rect x="75.64" y="381.23" width="0.9" height="0.9" fill="#1d6e22"/>
<rect x="76.0" y="378.46" width="0.9" height="0.9" fill="#58ac4e"/>
<rect x="106.84" y="378.01" width="0.9" height="0.9" fill="#1d6e22"/>
<rect x="69.96" y="377.2" width="0.9" height="0.9" fill="#2a862a"/>
<rect x="85.68" y="373.25" width="0.9" height="0.9" fill="#1d6e22"/>
<rect x="84.65" y="374.83" width="0.9" height="0.9" fill="#2a862a"/>
<rect x="80.46" y="380.54" width="0.9" height="0.9" fill="#1d6e22"/>
<rect x="86.86" y="377.48" width="0.9" height="0.9" fill="#1d6e22"/>
<rect x="95.8" y="374.2" width="0.9" height="0.9" fill="#58ac4e"/>
<rect x="82.55" y="377.7" width="0.9" height="0.9" fill="#1f7a2a"/>
<rect x="98.35" y="376.19" width="0.9" height="0.9" fill="#3c9c3c"/>
<rect x="86.61" y="375.07" width="0.9" height="0.9" fill="#3c9c3c"/>
<rect x="94.1" y="380.84" width="0.9" height="0.9" fill="#58ac4e"/>
<rect x="95.12" y="377.32" width="0.9" height="0.9" fill="#1f7a2a"/>
<rect x="48.24" y="376.48" width="0.9" height="0.9" fill="#1d6e22"/>
<rect x="49.64" y="378.47" width="0.9" height="0.9" fill="#58ac4e"/>
<rect x="79.24" y="378.52" width="0.9" height="0.9" fill="#1d6e22"/>
<rect x="75.2" y="378.63" width="0.9" height="0.9" fill="#1f7a2a"/>
<rect x="72.77" y="378.54" width="0.9" height="0.9" fill="#c0304a"/>
<rect x="89.62" y="380.97" width="0.9" height="0.9" fill="#3c9c3c"/>
<rect x="80.74" y="378.71" width="0.9" height="0.9" fill="#3c9c3c"/>
<rect x="83.65" y="379.38" width="0.9" height="0.9" fill="#3c9c3c"/>
<rect x="75.43" y="378.25" width="0.9" height="0.9" fill="#1d6e22"/>
<rect x="97.93" y="377.83" width="0.9" height="0.9" fill="#1f7a2a"/>
<rect x="66.79" y="378.87" width="0.9" height="0.9" fill="#1d6e22"/>
<rect x="88.35" y="380.97" width="0.9" height="0.9" fill="#1d6e22"/>
<rect x="98.83" y="376.97" width="0.9" height="0.9" fill="#3c9c3c"/>
<rect x="88.63" y="377.39" width="0.9" height="0.9" fill="#58ac4e"/>
<rect x="89.68" y="378.2" width="0.9" height="0.9" fill="#1d6e22"/>
<rect x="107.8" y="379.18" width="0.9" height="0.9" fill="#3c9c3c"/>
<rect x="50.94" y="379.17" width="0.9" height="0.9" fill="#3c9c3c"/>
<rect x="62.77" y="376.7" width="0.9" height="0.9" fill="#1f7a2a"/>
<rect x="76.2" y="378.3" width="0.9" height="0.9" fill="#1f7a2a"/>
<rect x="96.05" y="376.14" width="0.9" height="0.9" fill="#1d6e22"/>
<rect x="80.66" y="381.82" width="0.9" height="0.9" fill="#58ac4e"/>
<rect x="73.72" y="377.56" width="0.9" height="0.9" fill="#6a7a2a"/>
<rect x="61.36" y="380.48" width="0.9" height="0.9" fill="#3c9c3c"/>
<rect x="78.75" y="378.92" width="0.9" height="0.9" fill="#3c9c3c"/>
<rect x="71.93" y="380.75" width="0.9" height="0.9" fill="#c0304a"/>
<rect x="74.88" y="378.74" width="0.9" height="0.9" fill="#58ac4e"/>
<rect x="68.81" y="379.46" width="0.9" height="0.9" fill="#1f7a2a"/>
<rect x="62.85" y="376.39" width="0.9" height="0.9" fill="#2a862a"/>
<rect x="64.21" y="378.4" width="0.9" height="0.9" fill="#3c9c3c"/>
<rect x="72.15" y="375.92" width="0.9" height="0.9" fill="#6a7a2a"/>
<rect x="107.96" y="375.82" width="0.9" height="0.9" fill="#1f7a2a"/>
<rect x="58.09" y="377.53" width="0.9" height="0.9" fill="#1f7a2a"/>
<rect x="92.43" y="378.43" width="0.9" height="0.9" fill="#1f7a2a"/>
<rect x="87.37" y="377.48" width="0.9" height="0.9" fill="#1f7a2a"/>
<rect x="61.98" y="378.09" width="0.9" height="0.9" fill="#58ac4e"/>
<rect x="79.14" y="380.13" width="0.9" height="0.9" fill="#58ac4e"/>
<rect x="77.85" y="380.52" width="0.9" height="0.9" fill="#58ac4e"/>
<rect x="105.73" y="377.39" width="0.9" height="0.9" fill="#3c9c3c"/>
<rect x="59.08" y="379.38" width="0.9" height="0.9" fill="#3c9c3c"/>
<rect x="95.96" y="380.09" width="0.9" height="0.9" fill="#1d6e22"/>
<rect x="61.36" y="377.92" width="0.9" height="0.9" fill="#1f7a2a"/>
<rect x="65.45" y="379.51" width="0.9" height="0.9" fill="#58ac4e"/>
<rect x="93.88" y="375.55" width="0.9" height="0.9" fill="#2a862a"/>
<rect x="104.47" y="383.32" width="0.9" height="0.9" fill="#2a862a"/>
<rect x="74.86" y="376.79" width="0.9" height="0.9" fill="#1f7a2a"/>
<rect x="96.23" y="375.59" width="0.9" height="0.9" fill="#3c9c3c"/>
<rect x="76.78" y="374.27" width="0.9" height="0.9" fill="#3c9c3c"/>
<rect x="78.7" y="378.54" width="0.9" height="0.9" fill="#58ac4e"/>
<rect x="78.26" y="376.18" width="0.9" height="0.9" fill="#58ac4e"/>
<rect x="103.94" y="378.43" width="0.9" height="0.9" fill="#58ac4e"/>
<rect x="103.27" y="375.43" width="0.9" height="0.9" fill="#1d6e22"/>
<rect x="54.34" y="377.38" width="0.9" height="0.9" fill="#2a862a"/>
<rect x="83.28" y="377.85" width="0.9" height="0.9" fill="#58ac4e"/>
<rect x="63.5" y="377.67" width="0.9" height="0.9" fill="#2a862a"/>
<rect x="48.41" y="378.04" width="0.9" height="0.9" fill="#2a862a"/>
<rect x="55.62" y="376.24" width="0.9" height="0.9" fill="#1f7a2a"/>
<rect x="89.62" y="378.97" width="0.9" height="0.9" fill="#2a862a"/>
<rect x="81.68" y="379.25" width="0.9" height="0.9" fill="#3c9c3c"/>
<rect x="86.99" y="378.72" width="0.9" height="0.9" fill="#3c9c3c"/>
<rect x="69.91" y="379.41" width="0.9" height="0.9" fill="#58ac4e"/>
<rect x="71.56" y="376.43" width="0.9" height="0.9" fill="#c0304a"/>
<rect x="52.45" y="380.83" width="0.9" height="0.9" fill="#1d6e22"/>
<rect x="59.58" y="379.4" width="0.9" height="0.9" fill="#1f7a2a"/>
<rect x="50.55" y="377.8" width="0.9" height="0.9" fill="#3c9c3c"/>
<rect x="58.06" y="378.33" width="0.9" height="0.9" fill="#1d6e22"/>
<rect x="53.96" y="380.51" width="0.9" height="0.9" fill="#1f7a2a"/>
<rect x="51.02" y="376.89" width="0.9" height="0.9" fill="#1d6e22"/>
<rect x="47.34" y="378.03" width="0.9" height="0.9" fill="#2a862a"/>
<rect x="91.16" y="377.93" width="0.9" height="0.9" fill="#1d6e22"/>
<rect x="89.09" y="380.17" width="0.9" height="0.9" fill="#1f7a2a"/>
<rect x="79.84" y="378.95" width="0.9" height="0.9" fill="#1d6e22"/>
<rect x="63.59" y="377.05" width="0.9" height="0.9" fill="#1d6e22"/>
<rect x="74.29" y="381.53" width="0.9" height="0.9" fill="#c0304a"/>
<rect x="106.36" y="375.67" width="0.9" height="0.9" fill="#1d6e22"/>
<rect x="76.64" y="379.88" width="0.9" height="0.9" fill="#2a862a"/>
<rect x="59.29" y="375.24" width="0.9" height="0.9" fill="#1d6e22"/>
<rect x="83.49" y="378.61" width="0.9" height="0.9" fill="#2a862a"/>
<rect x="89.53" y="378.01" width="0.9" height="0.9" fill="#2a862a"/>
<rect x="97.32" y="379.97" width="0.9" height="0.9" fill="#3c9c3c"/>
<rect x="101.51" y="379.2" width="0.9" height="0.9" fill="#58ac4e"/>
<rect x="100.88" y="377.27" width="0.9" height="0.9" fill="#2a862a"/>
<rect x="50.56" y="380.46" width="0.9" height="0.9" fill="#1f7a2a"/>
<rect x="71.1" y="382.03" width="0.9" height="0.9" fill="#2a862a"/>
<rect x="94.32" y="375.24" width="0.9" height="0.9" fill="#3c9c3c"/>
<rect x="58.5" y="380.53" width="0.9" height="0.9" fill="#2a862a"/>
<rect x="61.39" y="378.15" width="0.9" height="0.9" fill="#1d6e22"/>
<rect x="83.03" y="380.53" width="0.9" height="0.9" fill="#1d6e22"/>
<rect x="96.97" y="377.36" width="0.9" height="0.9" fill="#1f7a2a"/>
<rect x="93.56" y="380.34" width="0.9" height="0.9" fill="#1f7a2a"/>
<rect x="75.84" y="374.35" width="0.9" height="0.9" fill="#1d6e22"/>
<rect x="56.0" y="380.11" width="0.9" height="0.9" fill="#2a862a"/>
<rect x="78.03" y="377.75" width="0.9" height="0.9" fill="#1f7a2a"/>
<rect x="74.8" y="380.65" width="0.9" height="0.9" fill="#3c9c3c"/>
<rect x="103.23" y="378.63" width="0.9" height="0.9" fill="#58ac4e"/>
<rect x="95.48" y="379.94" width="0.9" height="0.9" fill="#1d6e22"/>
<rect x="95.62" y="381.67" width="0.9" height="0.9" fill="#58ac4e"/>
<rect x="62" y="387" width="0.9" height="0.9" fill="#2f8f2f"/>
<rect x="65" y="387.5" width="0.9" height="0.9" fill="#2f8f2f"/>
<rect x="100" y="376" width="0.9" height="0.9" fill="#2f8f2f"/>
<rect x="104" y="375" width="0.9" height="0.9" fill="#2f8f2f"/>
<rect x="29.599999999999998" y="415.7" width="1.2" height="2" fill="#1a1a1a"/>
<rect x="29.599999999999998" y="417.7" width="1.2" height="2" fill="#1a1a1a"/>
<rect x="46.4" y="435.7" width="1.2" height="2" fill="#1a1a1a"/>
<rect x="50.4" y="435.7" width="1.2" height="2" fill="#1a1a1a"/>
<rect x="54.4" y="435.7" width="1.2" height="2" fill="#1a1a1a"/>
<text x="53.5" y="401" font-size="6.8" text-anchor="middle" font-style="italic" fill="#222">MHCII<tspan dy="-2.4" font-size="4.3">lo</tspan></text>
<text x="99.5" y="401" font-size="6.8" text-anchor="middle" font-style="italic" fill="#222">MHCII<tspan dy="-2.4" font-size="4.3">hi</tspan></text>
<line x1="109.8" y1="377.8" x2="125" y2="377.8" stroke="#7d7fb8" stroke-width="1.3"/>
<path d="M123.2,375.40000000000003 L128,377.8 L123.2,380.2 Z" fill="#7d7fb8"/>
<line x1="152.5" y1="350.75" x2="152.5" y2="438" stroke="#1a1a1a" stroke-width="1.1"/>
<line x1="151.95" y1="438" x2="240.05" y2="438" stroke="#1a1a1a" stroke-width="1.1"/>
<line x1="239.5" y1="350.75" x2="239.5" y2="438" stroke="#1a1a1a" stroke-width="1.1"/>
<line x1="152.5" y1="351.3" x2="156.0" y2="351.3" stroke="#1a1a1a" stroke-width="1.1"/>
<line x1="189.5" y1="351.3" x2="239.5" y2="351.3" stroke="#1a1a1a" stroke-width="1.1"/>
<text x="157.5" y="354.3" font-size="8.8" font-style="italic" fill="#231f20">MHCII<tspan dy="-3" font-size="5.5">lo</tspan></text>
<line x1="150.5" y1="360" x2="152.7" y2="360" stroke="#1a1a1a" stroke-width="0.9"/>
<text x="147.3" y="362.2" font-size="6.2" text-anchor="end" fill="#222">10<tspan dy="-2.6" font-size="4.2">5</tspan></text>
<line x1="150.5" y1="380" x2="152.7" y2="380" stroke="#1a1a1a" stroke-width="0.9"/>
<text x="147.3" y="382.2" font-size="6.2" text-anchor="end" fill="#222">10<tspan dy="-2.6" font-size="4.2">4</tspan></text>
<line x1="150.5" y1="403.3" x2="152.7" y2="403.3" stroke="#1a1a1a" stroke-width="0.9"/>
<text x="147.3" y="405.5" font-size="6.2" text-anchor="end" fill="#222">10<tspan dy="-2.6" font-size="4.2">3</tspan></text>
<line x1="150.5" y1="417.5" x2="152.7" y2="417.5" stroke="#1a1a1a" stroke-width="0.9"/>
<text x="147.3" y="419.7" font-size="6.2" text-anchor="end" fill="#222">0</text>
<line x1="150.5" y1="432" x2="152.7" y2="432" stroke="#1a1a1a" stroke-width="0.9"/>
<text x="147.3" y="434.2" font-size="6.2" text-anchor="end" fill="#222">−10<tspan dy="-2.6" font-size="4.2">3</tspan></text>
<line x1="151.1" y1="373.98" x2="152.5" y2="373.98" stroke="#1a1a1a" stroke-width="0.7"/>
<line x1="151.1" y1="370.46" x2="152.5" y2="370.46" stroke="#1a1a1a" stroke-width="0.7"/>
<line x1="151.1" y1="367.96" x2="152.5" y2="367.96" stroke="#1a1a1a" stroke-width="0.7"/>
<line x1="151.1" y1="366.02" x2="152.5" y2="366.02" stroke="#1a1a1a" stroke-width="0.7"/>
<line x1="151.1" y1="364.44" x2="152.5" y2="364.44" stroke="#1a1a1a" stroke-width="0.7"/>
<line x1="151.1" y1="363.1" x2="152.5" y2="363.1" stroke="#1a1a1a" stroke-width="0.7"/>
<line x1="151.1" y1="361.94" x2="152.5" y2="361.94" stroke="#1a1a1a" stroke-width="0.7"/>
<line x1="151.1" y1="360.92" x2="152.5" y2="360.92" stroke="#1a1a1a" stroke-width="0.7"/>
<line x1="151.1" y1="396.29" x2="152.5" y2="396.29" stroke="#1a1a1a" stroke-width="0.7"/>
<line x1="151.1" y1="392.18" x2="152.5" y2="392.18" stroke="#1a1a1a" stroke-width="0.7"/>
<line x1="151.1" y1="389.27" x2="152.5" y2="389.27" stroke="#1a1a1a" stroke-width="0.7"/>
<line x1="151.1" y1="387.01" x2="152.5" y2="387.01" stroke="#1a1a1a" stroke-width="0.7"/>
<line x1="151.1" y1="385.17" x2="152.5" y2="385.17" stroke="#1a1a1a" stroke-width="0.7"/>
<line x1="151.1" y1="383.61" x2="152.5" y2="383.61" stroke="#1a1a1a" stroke-width="0.7"/>
<line x1="151.1" y1="382.26" x2="152.5" y2="382.26" stroke="#1a1a1a" stroke-width="0.7"/>
<line x1="151.1" y1="381.07" x2="152.5" y2="381.07" stroke="#1a1a1a" stroke-width="0.7"/>
<line x1="151.1" y1="413.95" x2="152.5" y2="413.95" stroke="#1a1a1a" stroke-width="0.7"/>
<line x1="151.1" y1="410.4" x2="152.5" y2="410.4" stroke="#1a1a1a" stroke-width="0.7"/>
<line x1="151.1" y1="406.85" x2="152.5" y2="406.85" stroke="#1a1a1a" stroke-width="0.7"/>
<line x1="151.1" y1="428.38" x2="152.5" y2="428.38" stroke="#1a1a1a" stroke-width="0.7"/>
<line x1="151.1" y1="424.75" x2="152.5" y2="424.75" stroke="#1a1a1a" stroke-width="0.7"/>
<line x1="151.1" y1="421.12" x2="152.5" y2="421.12" stroke="#1a1a1a" stroke-width="0.7"/>
<line x1="151.5" y1="438" x2="151.5" y2="439.8" stroke="#1a1a1a" stroke-width="0.9"/>
<text x="151.5" y="447.8" font-size="6.2" text-anchor="middle" fill="#222">0</text>
<line x1="174.5" y1="438" x2="174.5" y2="439.8" stroke="#1a1a1a" stroke-width="0.9"/>
<text x="174.5" y="447.8" font-size="6.2" text-anchor="middle" fill="#222">30K</text>
<line x1="195.0" y1="438" x2="195.0" y2="439.8" stroke="#1a1a1a" stroke-width="0.9"/>
<text x="195.0" y="447.8" font-size="6.2" text-anchor="middle" fill="#222">60K</text>
<line x1="216.7" y1="438" x2="216.7" y2="439.8" stroke="#1a1a1a" stroke-width="0.9"/>
<text x="216.7" y="447.8" font-size="6.2" text-anchor="middle" fill="#222">90K</text>
<line x1="237.9" y1="438" x2="237.9" y2="439.8" stroke="#1a1a1a" stroke-width="0.9"/>
<text x="237.9" y="447.8" font-size="6.2" text-anchor="middle" fill="#222">120K</text>
<line x1="166.8" y1="360" x2="231.3" y2="360" stroke="#888" stroke-width="0.8"/>
<line x1="231.3" y1="360" x2="231.3" y2="402.3" stroke="#888" stroke-width="0.8"/>
<line x1="166.8" y1="402.3" x2="231.3" y2="402.3" stroke="#888" stroke-width="0.8"/>
<line x1="166.8" y1="360" x2="166.8" y2="438" stroke="#888" stroke-width="0.8"/>
<line x1="180.0" y1="360" x2="180.0" y2="438" stroke="#1a1a1a" stroke-width="1.0"/>
<line x1="166.8" y1="402.3" x2="180.0" y2="402.3" stroke="#1a1a1a" stroke-width="1.0"/>
<circle cx="174.43" cy="386.21" r="0.65" fill="#c81040"/>
<circle cx="173.92" cy="387.27" r="0.65" fill="#d11f48"/>
<circle cx="170.98" cy="384.1" r="0.65" fill="#d11f48"/>
<circle cx="175.28" cy="393.22" r="0.65" fill="#e0305a"/>
<circle cx="174.74" cy="387.48" r="0.65" fill="#e0305a"/>
<circle cx="171.94" cy="387.83" r="0.65" fill="#e0305a"/>
<circle cx="173.89" cy="386.62" r="0.65" fill="#c81040"/>
<circle cx="172.97" cy="389.13" r="0.65" fill="#c81040"/>
<circle cx="170.8" cy="396.28" r="0.65" fill="#d11f48"/>
<circle cx="173.31" cy="380.37" r="0.65" fill="#e0305a"/>
<circle cx="169.57" cy="382.0" r="0.65" fill="#d11f48"/>
<circle cx="172.89" cy="388.93" r="0.65" fill="#c81040"/>
<circle cx="176.32" cy="387.7" r="0.65" fill="#c81040"/>
<circle cx="172.91" cy="382.86" r="0.65" fill="#c81040"/>
<circle cx="173.46" cy="382.42" r="0.65" fill="#e0305a"/>
<circle cx="174.42" cy="380.27" r="0.65" fill="#c81040"/>
<circle cx="172.81" cy="390.25" r="0.65" fill="#c81040"/>
<circle cx="171.15" cy="386.91" r="0.65" fill="#c81040"/>
<circle cx="178.12" cy="382.38" r="0.65" fill="#d11f48"/>
<circle cx="173.96" cy="381.44" r="0.65" fill="#d11f48"/>
<circle cx="169.89" cy="381.26" r="0.65" fill="#e0305a"/>
<circle cx="173.31" cy="389.26" r="0.65" fill="#d11f48"/>
<circle cx="175.63" cy="382.45" r="0.65" fill="#e0305a"/>
<circle cx="176.04" cy="383.82" r="0.65" fill="#c81040"/>
<circle cx="175.68" cy="381.74" r="0.65" fill="#d11f48"/>
<circle cx="174.46" cy="388.43" r="0.65" fill="#c81040"/>
<circle cx="170.78" cy="389.3" r="0.65" fill="#e0305a"/>
<circle cx="173.3" cy="381.77" r="0.65" fill="#e0305a"/>
<circle cx="174.42" cy="388.46" r="0.65" fill="#c81040"/>
<circle cx="176.3" cy="400.25" r="0.65" fill="#d11f48"/>
<circle cx="171.63" cy="386.98" r="0.65" fill="#e0305a"/>
<circle cx="173.31" cy="391.23" r="0.65" fill="#e0305a"/>
<circle cx="171.33" cy="386.45" r="0.65" fill="#d11f48"/>
<circle cx="170.58" cy="386.9" r="0.65" fill="#e0305a"/>
<circle cx="171.99" cy="372.15" r="0.65" fill="#d11f48"/>
<circle cx="173.51" cy="395.36" r="0.65" fill="#c81040"/>
<circle cx="173.45" cy="386.67" r="0.65" fill="#c81040"/>
<circle cx="172.0" cy="383.03" r="0.65" fill="#d11f48"/>
<circle cx="175.08" cy="391.25" r="0.65" fill="#e0305a"/>
<circle cx="175.83" cy="388.34" r="0.65" fill="#d11f48"/>
<circle cx="174.6" cy="373.08" r="0.65" fill="#c81040"/>
<circle cx="172.8" cy="379.51" r="0.65" fill="#e0305a"/>
<circle cx="172.9" cy="379.69" r="0.65" fill="#e0305a"/>
<circle cx="171.91" cy="389.89" r="0.65" fill="#e0305a"/>
<circle cx="172.5" cy="382.89" r="0.65" fill="#c81040"/>
<circle cx="172.85" cy="390.71" r="0.65" fill="#e0305a"/>
<circle cx="174.18" cy="377.11" r="0.65" fill="#c81040"/>
<circle cx="172.78" cy="379.26" r="0.65" fill="#d11f48"/>
<circle cx="176.04" cy="388.13" r="0.65" fill="#e0305a"/>
<circle cx="172.77" cy="387.38" r="0.65" fill="#c81040"/>
<circle cx="174.45" cy="383.49" r="0.65" fill="#e0305a"/>
<circle cx="172.81" cy="392.85" r="0.65" fill="#c81040"/>
<circle cx="173.3" cy="375.74" r="0.65" fill="#d11f48"/>
<circle cx="170.46" cy="387.79" r="0.65" fill="#c81040"/>
<circle cx="173.54" cy="389.69" r="0.65" fill="#e0305a"/>
<circle cx="172.47" cy="390.2" r="0.65" fill="#c81040"/>
<circle cx="172.76" cy="388.43" r="0.65" fill="#d11f48"/>
<circle cx="172.98" cy="390.15" r="0.65" fill="#c81040"/>
<circle cx="174.5" cy="388.49" r="0.65" fill="#d11f48"/>
<circle cx="175.56" cy="380.4" r="0.65" fill="#c81040"/>
<circle cx="171.24" cy="388.38" r="0.65" fill="#e0305a"/>
<circle cx="173.79" cy="387.31" r="0.65" fill="#c81040"/>
<circle cx="175.35" cy="394.23" r="0.65" fill="#d11f48"/>
<circle cx="174.96" cy="385.48" r="0.65" fill="#c81040"/>
<circle cx="173.67" cy="381.36" r="0.65" fill="#d11f48"/>
<circle cx="172.08" cy="383.33" r="0.65" fill="#d11f48"/>
<circle cx="173.66" cy="389.04" r="0.65" fill="#e0305a"/>
<circle cx="172.16" cy="384.77" r="0.65" fill="#d11f48"/>
<circle cx="172.32" cy="378.43" r="0.65" fill="#d11f48"/>
<circle cx="172.11" cy="390.92" r="0.65" fill="#c81040"/>
<circle cx="172.65" cy="380.1" r="0.65" fill="#c81040"/>
<circle cx="172.99" cy="391.08" r="0.65" fill="#e0305a"/>
<circle cx="174.41" cy="397.17" r="0.65" fill="#c81040"/>
<circle cx="175.71" cy="388.14" r="0.65" fill="#e0305a"/>
<circle cx="173.82" cy="396.65" r="0.65" fill="#c81040"/>
<circle cx="172.99" cy="381.55" r="0.65" fill="#d11f48"/>
<circle cx="173.77" cy="384.12" r="0.65" fill="#d11f48"/>
<circle cx="173.23" cy="376.78" r="0.65" fill="#c81040"/>
<circle cx="173.94" cy="387.33" r="0.65" fill="#c81040"/>
<circle cx="174.8" cy="373.76" r="0.65" fill="#d11f48"/>
<circle cx="171.82" cy="384.58" r="0.65" fill="#d11f48"/>
<circle cx="175.36" cy="388.97" r="0.65" fill="#c81040"/>
<circle cx="171.79" cy="388.31" r="0.65" fill="#c81040"/>
<circle cx="173.53" cy="385.61" r="0.65" fill="#e0305a"/>
<circle cx="174.88" cy="378.16" r="0.65" fill="#c81040"/>
<circle cx="174.1" cy="403.27" r="0.65" fill="#c81040"/>
<circle cx="173.97" cy="384.54" r="0.65" fill="#e0305a"/>
<circle cx="170.93" cy="392.97" r="0.65" fill="#e0305a"/>
<circle cx="172.24" cy="389.67" r="0.65" fill="#d11f48"/>
<circle cx="172.29" cy="376.38" r="0.65" fill="#d11f48"/>
<circle cx="174.9" cy="382.19" r="0.65" fill="#c81040"/>
<circle cx="176.49" cy="396.74" r="0.65" fill="#e0305a"/>
<circle cx="172.12" cy="385.5" r="0.65" fill="#d11f48"/>
<circle cx="170.8" cy="382.67" r="0.65" fill="#c81040"/>
<circle cx="176.83" cy="389.83" r="0.65" fill="#c81040"/>
<circle cx="175.97" cy="377.95" r="0.65" fill="#d11f48"/>
<circle cx="172.43" cy="381.12" r="0.65" fill="#c81040"/>
<circle cx="171.27" cy="397.71" r="0.65" fill="#c81040"/>
<circle cx="174.1" cy="375.7" r="0.65" fill="#e0305a"/>
<circle cx="171.25" cy="389.0" r="0.65" fill="#c81040"/>
<circle cx="175.84" cy="389.36" r="0.65" fill="#c81040"/>
<circle cx="175.3" cy="372.84" r="0.65" fill="#d11f48"/>
<circle cx="173.62" cy="383.37" r="0.65" fill="#c81040"/>
<circle cx="173.3" cy="395.52" r="0.65" fill="#c81040"/>
<circle cx="174.27" cy="392.2" r="0.65" fill="#c81040"/>
<circle cx="174.25" cy="379.46" r="0.65" fill="#c81040"/>
<circle cx="172.66" cy="386.44" r="0.65" fill="#c81040"/>
<circle cx="173.0" cy="386.22" r="0.65" fill="#e0305a"/>
<circle cx="172.16" cy="395.68" r="0.65" fill="#c81040"/>
<circle cx="170.81" cy="383.13" r="0.65" fill="#d11f48"/>
<circle cx="172.39" cy="376.15" r="0.65" fill="#e0305a"/>
<circle cx="175.21" cy="381.37" r="0.65" fill="#e0305a"/>
<circle cx="172.68" cy="384.25" r="0.65" fill="#d11f48"/>
<circle cx="170.73" cy="383.31" r="0.65" fill="#e0305a"/>
<circle cx="172.21" cy="387.73" r="0.65" fill="#e0305a"/>
<circle cx="174.9" cy="385.34" r="0.65" fill="#d11f48"/>
<circle cx="172.97" cy="383.35" r="0.65" fill="#e0305a"/>
<circle cx="175.49" cy="384.82" r="0.65" fill="#e0305a"/>
<circle cx="173.11" cy="377.39" r="0.65" fill="#e0305a"/>
<circle cx="174.77" cy="390.71" r="0.65" fill="#d11f48"/>
<circle cx="174.56" cy="391.82" r="0.65" fill="#e0305a"/>
<circle cx="174.74" cy="382.4" r="0.65" fill="#c81040"/>
<circle cx="172.47" cy="386.28" r="0.65" fill="#c81040"/>
<circle cx="172.57" cy="391.55" r="0.65" fill="#e0305a"/>
<circle cx="173.81" cy="377.24" r="0.65" fill="#c81040"/>
<circle cx="174.23" cy="383.45" r="0.65" fill="#e0305a"/>
<circle cx="175.16" cy="389.46" r="0.65" fill="#c81040"/>
<circle cx="171.7" cy="394.95" r="0.65" fill="#d11f48"/>
<circle cx="173.69" cy="374.02" r="0.65" fill="#e0305a"/>
<circle cx="173.35" cy="389.24" r="0.65" fill="#d11f48"/>
<circle cx="174.15" cy="386.21" r="0.65" fill="#c81040"/>
<circle cx="172.46" cy="384.35" r="0.65" fill="#c81040"/>
<circle cx="172.37" cy="388.38" r="0.65" fill="#d11f48"/>
<circle cx="175.27" cy="384.72" r="0.65" fill="#d11f48"/>
<circle cx="175.19" cy="388.23" r="0.65" fill="#e0305a"/>
<circle cx="172.92" cy="393.66" r="0.65" fill="#c81040"/>
<circle cx="174.45" cy="387.38" r="0.65" fill="#c81040"/>
<circle cx="175.32" cy="379.44" r="0.65" fill="#d11f48"/>
<circle cx="173.01" cy="389.71" r="0.65" fill="#e0305a"/>
<circle cx="170.71" cy="387.64" r="0.65" fill="#e0305a"/>
<circle cx="171.29" cy="390.55" r="0.65" fill="#e0305a"/>
<circle cx="174.27" cy="389.71" r="0.65" fill="#d11f48"/>
<circle cx="172.75" cy="382.99" r="0.65" fill="#d11f48"/>
<circle cx="172.72" cy="384.71" r="0.65" fill="#e0305a"/>
<circle cx="171.56" cy="381.13" r="0.65" fill="#c81040"/>
<circle cx="172.54" cy="380.61" r="0.65" fill="#c81040"/>
<circle cx="172.25" cy="387.22" r="0.65" fill="#e0305a"/>
<circle cx="172.78" cy="388.99" r="0.65" fill="#e0305a"/>
<circle cx="170.94" cy="396.8" r="0.65" fill="#c81040"/>
<circle cx="175.47" cy="384.79" r="0.65" fill="#e0305a"/>
<circle cx="172.91" cy="383.07" r="0.65" fill="#c81040"/>
<circle cx="169.22" cy="379.66" r="0.65" fill="#d11f48"/>
<circle cx="175.69" cy="386.7" r="0.65" fill="#e0305a"/>
<circle cx="175.01" cy="373.31" r="0.65" fill="#c81040"/>
<circle cx="171.81" cy="389.1" r="0.65" fill="#e0305a"/>
<circle cx="171.41" cy="381.66" r="0.65" fill="#c81040"/>
<circle cx="171.53" cy="386.37" r="0.65" fill="#e0305a"/>
<circle cx="174.84" cy="386.7" r="0.65" fill="#e0305a"/>
<circle cx="175.22" cy="387.72" r="0.65" fill="#c81040"/>
<circle cx="173.64" cy="380.47" r="0.65" fill="#d11f48"/>
<circle cx="172.64" cy="386.95" r="0.65" fill="#e0305a"/>
<circle cx="173.64" cy="389.53" r="0.65" fill="#c81040"/>
<circle cx="174.46" cy="385.23" r="0.65" fill="#e0305a"/>
<circle cx="173.47" cy="379.2" r="0.65" fill="#c81040"/>
<circle cx="177.52" cy="388.85" r="0.65" fill="#e0305a"/>
<circle cx="176.96" cy="385.06" r="0.65" fill="#d11f48"/>
<circle cx="174.99" cy="382.73" r="0.65" fill="#c81040"/>
<circle cx="173.24" cy="383.84" r="0.65" fill="#d11f48"/>
<circle cx="175.43" cy="384.22" r="0.65" fill="#e0305a"/>
<circle cx="172.52" cy="389.1" r="0.65" fill="#d11f48"/>
<circle cx="172" cy="370.4" r="0.55" fill="#d11f48"/>
<circle cx="194" cy="368.7" r="0.55" fill="#d11f48"/>
<circle cx="195" cy="375.6" r="0.55" fill="#d11f48"/>
<circle cx="197.5" cy="375.8" r="0.55" fill="#d11f48"/>
<circle cx="186.3" cy="385.5" r="0.55" fill="#d11f48"/>
<circle cx="192.4" cy="384.6" r="0.55" fill="#d11f48"/>
<circle cx="196.7" cy="386.3" r="0.55" fill="#d11f48"/>
<circle cx="196" cy="383.5" r="0.55" fill="#d11f48"/>
<circle cx="175" cy="400" r="0.55" fill="#d11f48"/>
<circle cx="175" cy="409" r="0.55" fill="#d11f48"/>
<circle cx="170.5" cy="389" r="0.55" fill="#d11f48"/>
<circle cx="176" cy="398" r="0.55" fill="#d11f48"/>
<text x="159.7" y="364.5" font-size="6.8" text-anchor="middle" fill="#333">G1</text>
<text x="159.7" y="371.8" font-size="6.8" text-anchor="middle" fill="#333">94.6</text>
<text x="159.7" y="422.3" font-size="6.8" text-anchor="middle" fill="#333">G0</text>
<text x="159.7" y="429.8" font-size="6.8" text-anchor="middle" fill="#333">0.72</text>
<text x="220.9" y="410.5" font-size="6.8" text-anchor="middle" fill="#222">S-G<tspan dy="1.8" font-size="4.5">2</tspan><tspan dy="-1.8">-M</tspan></text>
<text x="220.9" y="418" font-size="6.8" text-anchor="middle" fill="#333">4.35</text>
<rect x="152.1" y="416" width="1.2" height="2.5" fill="#1a1a1a"/>
<line x1="260.7" y1="350.75" x2="260.7" y2="438" stroke="#1a1a1a" stroke-width="1.1"/>
<line x1="260.15" y1="438" x2="348.25" y2="438" stroke="#1a1a1a" stroke-width="1.1"/>
<line x1="347.7" y1="350.75" x2="347.7" y2="438" stroke="#1a1a1a" stroke-width="1.1"/>
<line x1="260.7" y1="351.3" x2="264.2" y2="351.3" stroke="#1a1a1a" stroke-width="1.1"/>
<line x1="297.7" y1="351.3" x2="347.7" y2="351.3" stroke="#1a1a1a" stroke-width="1.1"/>
<text x="265.7" y="354.3" font-size="8.8" font-style="italic" fill="#231f20">MHCII<tspan dy="-3" font-size="5.5">hi</tspan></text>
<line x1="258.7" y1="360" x2="260.9" y2="360" stroke="#1a1a1a" stroke-width="0.9"/>
<text x="255.5" y="362.2" font-size="6.2" text-anchor="end" fill="#222">10<tspan dy="-2.6" font-size="4.2">5</tspan></text>
<line x1="258.7" y1="380" x2="260.9" y2="380" stroke="#1a1a1a" stroke-width="0.9"/>
<text x="255.5" y="382.2" font-size="6.2" text-anchor="end" fill="#222">10<tspan dy="-2.6" font-size="4.2">4</tspan></text>
<line x1="258.7" y1="403.3" x2="260.9" y2="403.3" stroke="#1a1a1a" stroke-width="0.9"/>
<text x="255.5" y="405.5" font-size="6.2" text-anchor="end" fill="#222">10<tspan dy="-2.6" font-size="4.2">3</tspan></text>
<line x1="258.7" y1="417.5" x2="260.9" y2="417.5" stroke="#1a1a1a" stroke-width="0.9"/>
<text x="255.5" y="419.7" font-size="6.2" text-anchor="end" fill="#222">0</text>
<line x1="258.7" y1="432" x2="260.9" y2="432" stroke="#1a1a1a" stroke-width="0.9"/>
<text x="255.5" y="434.2" font-size="6.2" text-anchor="end" fill="#222">−10<tspan dy="-2.6" font-size="4.2">3</tspan></text>
<line x1="259.3" y1="373.98" x2="260.7" y2="373.98" stroke="#1a1a1a" stroke-width="0.7"/>
<line x1="259.3" y1="370.46" x2="260.7" y2="370.46" stroke="#1a1a1a" stroke-width="0.7"/>
<line x1="259.3" y1="367.96" x2="260.7" y2="367.96" stroke="#1a1a1a" stroke-width="0.7"/>
<line x1="259.3" y1="366.02" x2="260.7" y2="366.02" stroke="#1a1a1a" stroke-width="0.7"/>
<line x1="259.3" y1="364.44" x2="260.7" y2="364.44" stroke="#1a1a1a" stroke-width="0.7"/>
<line x1="259.3" y1="363.1" x2="260.7" y2="363.1" stroke="#1a1a1a" stroke-width="0.7"/>
<line x1="259.3" y1="361.94" x2="260.7" y2="361.94" stroke="#1a1a1a" stroke-width="0.7"/>
<line x1="259.3" y1="360.92" x2="260.7" y2="360.92" stroke="#1a1a1a" stroke-width="0.7"/>
<line x1="259.3" y1="396.29" x2="260.7" y2="396.29" stroke="#1a1a1a" stroke-width="0.7"/>
<line x1="259.3" y1="392.18" x2="260.7" y2="392.18" stroke="#1a1a1a" stroke-width="0.7"/>
<line x1="259.3" y1="389.27" x2="260.7" y2="389.27" stroke="#1a1a1a" stroke-width="0.7"/>
<line x1="259.3" y1="387.01" x2="260.7" y2="387.01" stroke="#1a1a1a" stroke-width="0.7"/>
<line x1="259.3" y1="385.17" x2="260.7" y2="385.17" stroke="#1a1a1a" stroke-width="0.7"/>
<line x1="259.3" y1="383.61" x2="260.7" y2="383.61" stroke="#1a1a1a" stroke-width="0.7"/>
<line x1="259.3" y1="382.26" x2="260.7" y2="382.26" stroke="#1a1a1a" stroke-width="0.7"/>
<line x1="259.3" y1="381.07" x2="260.7" y2="381.07" stroke="#1a1a1a" stroke-width="0.7"/>
<line x1="259.3" y1="413.95" x2="260.7" y2="413.95" stroke="#1a1a1a" stroke-width="0.7"/>
<line x1="259.3" y1="410.4" x2="260.7" y2="410.4" stroke="#1a1a1a" stroke-width="0.7"/>
<line x1="259.3" y1="406.85" x2="260.7" y2="406.85" stroke="#1a1a1a" stroke-width="0.7"/>
<line x1="259.3" y1="428.38" x2="260.7" y2="428.38" stroke="#1a1a1a" stroke-width="0.7"/>
<line x1="259.3" y1="424.75" x2="260.7" y2="424.75" stroke="#1a1a1a" stroke-width="0.7"/>
<line x1="259.3" y1="421.12" x2="260.7" y2="421.12" stroke="#1a1a1a" stroke-width="0.7"/>
<line x1="259.7" y1="438" x2="259.7" y2="439.8" stroke="#1a1a1a" stroke-width="0.9"/>
<text x="259.7" y="447.8" font-size="6.2" text-anchor="middle" fill="#222">0</text>
<line x1="282.7" y1="438" x2="282.7" y2="439.8" stroke="#1a1a1a" stroke-width="0.9"/>
<text x="282.7" y="447.8" font-size="6.2" text-anchor="middle" fill="#222">30K</text>
<line x1="303.2" y1="438" x2="303.2" y2="439.8" stroke="#1a1a1a" stroke-width="0.9"/>
<text x="303.2" y="447.8" font-size="6.2" text-anchor="middle" fill="#222">60K</text>
<line x1="324.9" y1="438" x2="324.9" y2="439.8" stroke="#1a1a1a" stroke-width="0.9"/>
<text x="324.9" y="447.8" font-size="6.2" text-anchor="middle" fill="#222">90K</text>
<line x1="346.1" y1="438" x2="346.1" y2="439.8" stroke="#1a1a1a" stroke-width="0.9"/>
<text x="346.1" y="447.8" font-size="6.2" text-anchor="middle" fill="#222">120K</text>
<line x1="275.0" y1="360" x2="339.5" y2="360" stroke="#888" stroke-width="0.8"/>
<line x1="339.5" y1="360" x2="339.5" y2="402.3" stroke="#888" stroke-width="0.8"/>
<line x1="275.0" y1="402.3" x2="339.5" y2="402.3" stroke="#888" stroke-width="0.8"/>
<line x1="275.0" y1="360" x2="275.0" y2="438" stroke="#888" stroke-width="0.8"/>
<line x1="288.2" y1="360" x2="288.2" y2="438" stroke="#1a1a1a" stroke-width="1.0"/>
<line x1="275.0" y1="402.3" x2="288.2" y2="402.3" stroke="#1a1a1a" stroke-width="1.0"/>
<circle cx="282.81" cy="385.96" r="0.65" fill="#24449a"/>
<circle cx="284.14" cy="410.68" r="0.65" fill="#24449a"/>
<circle cx="282.89" cy="399.01" r="0.65" fill="#24449a"/>
<circle cx="281.97" cy="410.59" r="0.65" fill="#24449a"/>
<circle cx="283.87" cy="426.36" r="0.65" fill="#24449a"/>
<circle cx="281.62" cy="402.36" r="0.65" fill="#24449a"/>
<circle cx="283.92" cy="419.39" r="0.65" fill="#24449a"/>
<circle cx="284.11" cy="386.05" r="0.65" fill="#24449a"/>
<circle cx="283.17" cy="423.06" r="0.65" fill="#24449a"/>
<circle cx="283.19" cy="377.98" r="0.65" fill="#24449a"/>
<circle cx="283.99" cy="419.57" r="0.65" fill="#24449a"/>
<circle cx="282.74" cy="419.94" r="0.65" fill="#24449a"/>
<circle cx="284.87" cy="383.43" r="0.65" fill="#24449a"/>
<circle cx="284.87" cy="417.33" r="0.65" fill="#24449a"/>
<circle cx="283.93" cy="395.07" r="0.65" fill="#24449a"/>
<circle cx="283.45" cy="412.49" r="0.65" fill="#24449a"/>
<circle cx="284.63" cy="426.79" r="0.65" fill="#24449a"/>
<circle cx="282.84" cy="415.8" r="0.65" fill="#24449a"/>
<circle cx="282.34" cy="405.6" r="0.65" fill="#24449a"/>
<circle cx="283.29" cy="384.1" r="0.65" fill="#24449a"/>
<circle cx="283.67" cy="419.69" r="0.65" fill="#24449a"/>
<circle cx="281.58" cy="408.39" r="0.65" fill="#24449a"/>
<circle cx="284.47" cy="428.82" r="0.65" fill="#24449a"/>
<circle cx="282.55" cy="378.38" r="0.65" fill="#24449a"/>
<circle cx="285.03" cy="382.56" r="0.65" fill="#24449a"/>
<circle cx="281.96" cy="383.66" r="0.65" fill="#24449a"/>
<circle cx="282.29" cy="412.54" r="0.65" fill="#24449a"/>
<circle cx="281.71" cy="401.1" r="0.65" fill="#24449a"/>
<circle cx="284.44" cy="402.24" r="0.65" fill="#24449a"/>
<circle cx="283.27" cy="420.01" r="0.65" fill="#24449a"/>
<circle cx="282.93" cy="403.0" r="0.65" fill="#24449a"/>
<circle cx="282.29" cy="434.06" r="0.65" fill="#24449a"/>
<circle cx="283.35" cy="417.17" r="0.65" fill="#24449a"/>
<circle cx="284.38" cy="392.62" r="0.65" fill="#24449a"/>
<circle cx="282.15" cy="398.79" r="0.65" fill="#24449a"/>
<circle cx="286.13" cy="421.07" r="0.65" fill="#24449a"/>
<circle cx="282.6" cy="386.84" r="0.65" fill="#24449a"/>
<circle cx="284.38" cy="410.02" r="0.65" fill="#24449a"/>
<circle cx="283.76" cy="383.11" r="0.65" fill="#24449a"/>
<circle cx="285.43" cy="411.92" r="0.65" fill="#24449a"/>
<circle cx="283.12" cy="405.87" r="0.65" fill="#24449a"/>
<circle cx="281.9" cy="434.24" r="0.65" fill="#24449a"/>
<circle cx="285.4" cy="377.79" r="0.65" fill="#24449a"/>
<circle cx="282.0" cy="432.5" r="0.65" fill="#24449a"/>
<circle cx="282.49" cy="414.98" r="0.65" fill="#24449a"/>
<circle cx="282.31" cy="386.62" r="0.65" fill="#24449a"/>
<circle cx="283.61" cy="406.59" r="0.65" fill="#24449a"/>
<circle cx="283.01" cy="411.71" r="0.65" fill="#24449a"/>
<circle cx="282.32" cy="431.32" r="0.65" fill="#24449a"/>
<circle cx="285.08" cy="430.37" r="0.65" fill="#24449a"/>
<circle cx="283.24" cy="427.24" r="0.65" fill="#24449a"/>
<circle cx="284.2" cy="412.72" r="0.65" fill="#24449a"/>
<circle cx="284.76" cy="392.77" r="0.65" fill="#24449a"/>
<circle cx="281.2" cy="394.19" r="0.65" fill="#24449a"/>
<circle cx="283.16" cy="406.01" r="0.65" fill="#24449a"/>
<circle cx="282.6" cy="411.65" r="0.65" fill="#24449a"/>
<circle cx="283.59" cy="404.45" r="0.65" fill="#24449a"/>
<circle cx="284.32" cy="380.33" r="0.65" fill="#24449a"/>
<circle cx="285.76" cy="379.26" r="0.65" fill="#24449a"/>
<circle cx="282.6" cy="418.99" r="0.65" fill="#24449a"/>
<circle cx="283.42" cy="421.59" r="0.65" fill="#24449a"/>
<circle cx="283.21" cy="387.73" r="0.65" fill="#24449a"/>
<circle cx="282.95" cy="386.34" r="0.65" fill="#24449a"/>
<circle cx="284.62" cy="389.31" r="0.65" fill="#24449a"/>
<circle cx="282.77" cy="415.31" r="0.65" fill="#24449a"/>
<circle cx="283.44" cy="407.85" r="0.65" fill="#24449a"/>
<circle cx="283.91" cy="421.98" r="0.65" fill="#24449a"/>
<circle cx="283.32" cy="387.17" r="0.65" fill="#24449a"/>
<circle cx="282.23" cy="411.19" r="0.65" fill="#24449a"/>
<circle cx="282.94" cy="410.07" r="0.65" fill="#24449a"/>
<circle cx="282.1" cy="419.25" r="0.65" fill="#24449a"/>
<circle cx="283.8" cy="405.07" r="0.65" fill="#24449a"/>
<circle cx="284.26" cy="421.25" r="0.65" fill="#24449a"/>
<circle cx="284.33" cy="402.34" r="0.65" fill="#24449a"/>
<circle cx="281.09" cy="418.82" r="0.65" fill="#24449a"/>
<circle cx="284.51" cy="380.01" r="0.65" fill="#24449a"/>
<circle cx="284.3" cy="435.99" r="0.65" fill="#24449a"/>
<circle cx="282.45" cy="398.33" r="0.65" fill="#24449a"/>
<circle cx="285.59" cy="381.36" r="0.65" fill="#24449a"/>
<circle cx="282.38" cy="394.78" r="0.65" fill="#24449a"/>
<circle cx="286.07" cy="387.7" r="0.65" fill="#24449a"/>
<circle cx="286.13" cy="417.51" r="0.65" fill="#24449a"/>
<circle cx="283.06" cy="429.78" r="0.65" fill="#24449a"/>
<circle cx="286.38" cy="392.53" r="0.65" fill="#24449a"/>
<circle cx="281.78" cy="422.78" r="0.65" fill="#24449a"/>
<circle cx="283.05" cy="429.98" r="0.65" fill="#24449a"/>
<circle cx="284.15" cy="404.34" r="0.65" fill="#24449a"/>
<circle cx="280.84" cy="405.03" r="0.65" fill="#24449a"/>
<text x="267.9" y="364.5" font-size="6.8" text-anchor="middle" fill="#333">G1</text>
<text x="267.9" y="371.8" font-size="6.8" text-anchor="middle" fill="#333">28.6</text>
<text x="267.9" y="422.3" font-size="6.8" text-anchor="middle" fill="#333">G0</text>
<text x="267.9" y="429.8" font-size="6.8" text-anchor="middle" fill="#333">71.4</text>
<text x="329.1" y="410.5" font-size="6.8" text-anchor="middle" fill="#222">S-G<tspan dy="1.8" font-size="4.5">2</tspan><tspan dy="-1.8">-M</tspan></text>
<text x="329.1" y="418" font-size="6.8" text-anchor="middle" fill="#333">0</text>
<rect x="260.3" y="416" width="1.2" height="2.5" fill="#1a1a1a"/>
<line x1="131.3" y1="356.8" x2="131.3" y2="437.5" stroke="#1a1a1a" stroke-width="0.9"/>
<path d="M129.3,358.3 L131.3,353.8 L133.3,358.3 Z" fill="#1a1a1a"/>
<text x="127.5" y="397.5" font-size="7.5" text-anchor="middle" font-style="italic" fill="#231f20" transform="rotate(-90 127.5 397.5)">Ki67</text>
<line x1="151" y1="452.5" x2="319" y2="452.5" stroke="#1a1a1a" stroke-width="0.9"/>
<path d="M317.5,450.5 L322,452.5 L317.5,454.5 Z" fill="#1a1a1a"/>
<text x="229.5" y="459.5" font-size="7.5" text-anchor="middle" font-style="italic" fill="#231f20">DAPI</text>
<text x="359.5" y="346.5" font-size="11.3" text-anchor="start" font-weight="bold" fill="#000">H</text>
<rect x="407.8" y="431.7" width="10.6" height="15.5" fill="#e4899a"/>
<rect x="423.4" y="379.3" width="10.2" height="67.9" fill="#89a9c9"/>
<rect x="447.9" y="353.6" width="10.4" height="93.6" fill="#e4899a"/>
<rect x="464" y="393.2" width="10.2" height="54.0" fill="#89a9c9"/>
<rect x="488.6" y="431.2" width="10.3" height="16.0" fill="#e4899a"/>
<rect x="504.3" y="445.5" width="10.0" height="1.7" fill="#89a9c9"/>
<rect x="405" y="415.6" width="112" height="1.5" fill="#fff"/>
<line x1="413.1" y1="431.7" x2="413.1" y2="427.5" stroke="#1a1a1a" stroke-width="0.9"/>
<line x1="410.8" y1="427.5" x2="415.40000000000003" y2="427.5" stroke="#1a1a1a" stroke-width="0.9"/>
<line x1="428.5" y1="379.3" x2="428.5" y2="375.5" stroke="#1a1a1a" stroke-width="0.9"/>
<line x1="426.2" y1="375.5" x2="430.8" y2="375.5" stroke="#1a1a1a" stroke-width="0.9"/>
<line x1="453.1" y1="353.6" x2="453.1" y2="351" stroke="#1a1a1a" stroke-width="0.9"/>
<line x1="450.8" y1="351" x2="455.40000000000003" y2="351" stroke="#1a1a1a" stroke-width="0.9"/>
<line x1="469.1" y1="393.2" x2="469.1" y2="389.5" stroke="#1a1a1a" stroke-width="0.9"/>
<line x1="466.8" y1="389.5" x2="471.40000000000003" y2="389.5" stroke="#1a1a1a" stroke-width="0.9"/>
<line x1="493.7" y1="431.2" x2="493.7" y2="428.5" stroke="#1a1a1a" stroke-width="0.9"/>
<line x1="491.4" y1="428.5" x2="496.0" y2="428.5" stroke="#1a1a1a" stroke-width="0.9"/>
<line x1="509.3" y1="445.5" x2="509.3" y2="443" stroke="#1a1a1a" stroke-width="0.9"/>
<line x1="507.3" y1="443" x2="511.3" y2="443" stroke="#1a1a1a" stroke-width="0.9"/>
<circle cx="408.9" cy="415.2" r="1.25" fill="#b30d2e"/>
<circle cx="413" cy="415.2" r="1.25" fill="#b30d2e"/>
<circle cx="417" cy="415.2" r="1.25" fill="#b30d2e"/>
<circle cx="413" cy="430" r="1.25" fill="#b30d2e"/>
<circle cx="410" cy="436" r="1.25" fill="#b30d2e"/>
<circle cx="416" cy="436" r="1.25" fill="#b30d2e"/>
<circle cx="410.5" cy="440" r="1.25" fill="#b30d2e"/>
<circle cx="415.5" cy="441" r="1.25" fill="#b30d2e"/>
<circle cx="413" cy="444.5" r="1.25" fill="#b30d2e"/>
<circle cx="409" cy="445.5" r="1.25" fill="#b30d2e"/>
<circle cx="417" cy="445.5" r="1.25" fill="#b30d2e"/>
<circle cx="428.5" cy="362.5" r="1.25" fill="#173f68"/>
<circle cx="426" cy="370" r="1.25" fill="#173f68"/>
<circle cx="430.5" cy="369" r="1.25" fill="#173f68"/>
<circle cx="427.7" cy="374" r="1.25" fill="#173f68"/>
<circle cx="429.3" cy="375" r="1.25" fill="#173f68"/>
<circle cx="426.5" cy="378.5" r="1.25" fill="#173f68"/>
<circle cx="430" cy="378" r="1.25" fill="#173f68"/>
<circle cx="428.5" cy="382.4" r="1.25" fill="#173f68"/>
<circle cx="428.5" cy="386" r="1.25" fill="#173f68"/>
<circle cx="426" cy="397" r="1.25" fill="#173f68"/>
<circle cx="430" cy="396" r="1.25" fill="#173f68"/>
<circle cx="449.5" cy="350" r="1.25" fill="#b30d2e"/>
<circle cx="452" cy="349.2" r="1.25" fill="#b30d2e"/>
<circle cx="455.5" cy="349.8" r="1.25" fill="#b30d2e"/>
<circle cx="450.5" cy="352.5" r="1.25" fill="#b30d2e"/>
<circle cx="454" cy="352" r="1.25" fill="#b30d2e"/>
<circle cx="457" cy="352.5" r="1.25" fill="#b30d2e"/>
<circle cx="449" cy="355.2" r="1.25" fill="#b30d2e"/>
<circle cx="452.5" cy="355.5" r="1.25" fill="#b30d2e"/>
<circle cx="456" cy="355.8" r="1.25" fill="#b30d2e"/>
<circle cx="453" cy="357.5" r="1.25" fill="#b30d2e"/>
<circle cx="467" cy="376.3" r="1.25" fill="#173f68"/>
<circle cx="471" cy="376.3" r="1.25" fill="#173f68"/>
<circle cx="469" cy="387.3" r="1.25" fill="#173f68"/>
<circle cx="466.5" cy="390.5" r="1.25" fill="#173f68"/>
<circle cx="472" cy="390.5" r="1.25" fill="#173f68"/>
<circle cx="468" cy="394" r="1.25" fill="#173f68"/>
<circle cx="469" cy="398" r="1.25" fill="#173f68"/>
<circle cx="466.5" cy="402" r="1.25" fill="#173f68"/>
<circle cx="471.5" cy="402" r="1.25" fill="#173f68"/>
<circle cx="468.5" cy="409.3" r="1.25" fill="#173f68"/>
<circle cx="493.5" cy="414" r="1.25" fill="#b30d2e"/>
<circle cx="493.5" cy="418.8" r="1.25" fill="#b30d2e"/>
<circle cx="493.5" cy="424" r="1.25" fill="#b30d2e"/>
<circle cx="490.5" cy="427" r="1.25" fill="#b30d2e"/>
<circle cx="496.5" cy="427" r="1.25" fill="#b30d2e"/>
<circle cx="492" cy="432.5" r="1.25" fill="#b30d2e"/>
<circle cx="496" cy="433" r="1.25" fill="#b30d2e"/>
<circle cx="491" cy="436.5" r="1.25" fill="#b30d2e"/>
<circle cx="495.5" cy="437" r="1.25" fill="#b30d2e"/>
<circle cx="493" cy="441" r="1.25" fill="#b30d2e"/>
<circle cx="490" cy="444.5" r="1.25" fill="#b30d2e"/>
<circle cx="496.5" cy="444.5" r="1.25" fill="#b30d2e"/>
<circle cx="510" cy="439.3" r="1.1" fill="#173f68"/>
<circle cx="511.5" cy="441.5" r="1.1" fill="#173f68"/>
<circle cx="508" cy="444.5" r="1.1" fill="#173f68"/>
<circle cx="510.5" cy="446" r="1.1" fill="#173f68"/>
<line x1="402.5" y1="345.5" x2="402.5" y2="447.2" stroke="#1a1a1a" stroke-width="1.0"/>
<line x1="400.3" y1="346.5" x2="402.5" y2="346.5" stroke="#1a1a1a" stroke-width="0.9"/>
<text x="396.5" y="349.25" font-size="7.7" text-anchor="end" fill="#222">100</text>
<line x1="400.3" y1="362.4" x2="402.5" y2="362.4" stroke="#1a1a1a" stroke-width="0.9"/>
<text x="396.5" y="365.15" font-size="7.7" text-anchor="end" fill="#222">80</text>
<line x1="400.3" y1="378.2" x2="402.5" y2="378.2" stroke="#1a1a1a" stroke-width="0.9"/>
<text x="396.5" y="380.95" font-size="7.7" text-anchor="end" fill="#222">60</text>
<line x1="400.3" y1="394" x2="402.5" y2="394" stroke="#1a1a1a" stroke-width="0.9"/>
<text x="396.5" y="396.75" font-size="7.7" text-anchor="end" fill="#222">40</text>
<line x1="400.3" y1="409.6" x2="402.5" y2="409.6" stroke="#1a1a1a" stroke-width="0.9"/>
<text x="396.5" y="412.35" font-size="7.7" text-anchor="end" fill="#222">20</text>
<line x1="400.3" y1="417.6" x2="402.5" y2="417.6" stroke="#1a1a1a" stroke-width="0.9"/>
<text x="396.5" y="420.35" font-size="7.7" text-anchor="end" fill="#222">10</text>
<line x1="400.3" y1="432.3" x2="402.5" y2="432.3" stroke="#1a1a1a" stroke-width="0.9"/>
<text x="396.5" y="435.05" font-size="7.7" text-anchor="end" fill="#222">5</text>
<line x1="400.3" y1="447.2" x2="402.5" y2="447.2" stroke="#1a1a1a" stroke-width="0.9"/>
<text x="396.5" y="449.95" font-size="7.7" text-anchor="end" fill="#222">0</text>
<rect x="399.8" y="415.8" width="5.4" height="1.4" fill="#1a1a1a"/>
<line x1="402.5" y1="447.2" x2="520" y2="447.2" stroke="#1a1a1a" stroke-width="1.0"/>
<line x1="420.7" y1="447.2" x2="420.7" y2="449.4" stroke="#1a1a1a" stroke-width="0.9"/>
<line x1="461" y1="447.2" x2="461" y2="449.4" stroke="#1a1a1a" stroke-width="0.9"/>
<line x1="501.5" y1="447.2" x2="501.5" y2="449.4" stroke="#1a1a1a" stroke-width="0.9"/>
<path d="M412.60,414.00 L412.60,356.20 L428.50,356.20 L428.50,360.00" fill="none" stroke="#1a1a1a" stroke-width="0.9"/>
<text x="420.55" y="357.2" font-size="9.2" text-anchor="middle" fill="#222">****</text>
<path d="M453.00,349.50 L453.00,347.20 L468.80,347.20 L468.80,373.50" fill="none" stroke="#1a1a1a" stroke-width="0.9"/>
<text x="460.9" y="348.2" font-size="9.2" text-anchor="middle" fill="#222">****</text>
<path d="M493.60,412.50 L493.60,405.80 L508.70,405.80 L508.70,439.00" fill="none" stroke="#1a1a1a" stroke-width="0.9"/>
<text x="501.15" y="406.8" font-size="9.2" text-anchor="middle" fill="#222">***</text>
<rect x="484.5" y="351" width="4.8" height="4.8" fill="#c8102e"/>
<rect x="484.5" y="360.8" width="4.8" height="4.8" fill="#2e6aa0"/>
<text x="491.5" y="355.5" font-size="7.4" fill="#222">MHCII<tspan dy="-2.4" font-size="4.3">lo</tspan><tspan dy="2.4"></tspan></text>
<text x="491.5" y="365.3" font-size="7.4" fill="#222">MHCII<tspan dy="-2.4" font-size="4.3">hi</tspan><tspan dy="2.4"></tspan></text>
<text x="420.5" y="459.8" font-size="8.4" text-anchor="middle" fill="#222">G<tspan dy="1.9" font-size="5.6">0</tspan></text>
<text x="461" y="459.8" font-size="8.4" text-anchor="middle" fill="#222">G<tspan dy="1.9" font-size="5.6">1</tspan></text>
<text x="501.5" y="459.8" font-size="8.4" text-anchor="middle" fill="#222">S-G<tspan dy="1.9" font-size="5.6">2</tspan><tspan dy="-1.9">-M</tspan></text>
<text x="369.5" y="395.4" font-size="7.6" text-anchor="middle" fill="#222" transform="rotate(-90 369.5 395.4)" textLength="70.8" lengthAdjust="spacingAndGlyphs">Proportion of cells in</text>
<text x="381" y="395.8" font-size="7.6" text-anchor="middle" fill="#222" transform="rotate(-90 381 395.8)" textLength="51.7" lengthAdjust="spacingAndGlyphs">cycle phase (%)</text>
<text x="0.8" y="478" font-size="11" text-anchor="start" font-weight="bold" fill="#000">I</text>
<line x1="29.5" y1="482.95" x2="29.5" y2="568.0" stroke="#1a1a1a" stroke-width="1.1"/>
<line x1="28.95" y1="568.0" x2="115.35" y2="568.0" stroke="#1a1a1a" stroke-width="1.1"/>
<line x1="114.8" y1="482.95" x2="114.8" y2="568.0" stroke="#1a1a1a" stroke-width="1.1"/>
<line x1="29.5" y1="483.5" x2="32.5" y2="483.5" stroke="#1a1a1a" stroke-width="1.1"/>
<line x1="66" y1="483.5" x2="114.8" y2="483.5" stroke="#1a1a1a" stroke-width="1.1"/>
<text x="35" y="486.5" font-size="8.8" font-style="italic" fill="#231f20">ESLAM</text>
<line x1="11" y1="486.8" x2="11" y2="567.0" stroke="#1a1a1a" stroke-width="0.9"/>
<path d="M9,488.3 L11,483.8 L13,488.3 Z" fill="#1a1a1a"/>
<text x="6.5" y="531.5" font-size="7.5" text-anchor="middle" font-style="italic" fill="#231f20" transform="rotate(-90 6.5 531.5)">CD45</text>
<line x1="27.5" y1="490.5" x2="29.7" y2="490.5" stroke="#1a1a1a" stroke-width="0.9"/>
<text x="24.3" y="492.7" font-size="6.2" text-anchor="end" fill="#222">10<tspan dy="-2.6" font-size="4.2">5</tspan></text>
<line x1="27.5" y1="510.5" x2="29.7" y2="510.5" stroke="#1a1a1a" stroke-width="0.9"/>
<text x="24.3" y="512.7" font-size="6.2" text-anchor="end" fill="#222">10<tspan dy="-2.6" font-size="4.2">4</tspan></text>
<line x1="27.5" y1="533.5" x2="29.7" y2="533.5" stroke="#1a1a1a" stroke-width="0.9"/>
<text x="24.3" y="535.7" font-size="6.2" text-anchor="end" fill="#222">10<tspan dy="-2.6" font-size="4.2">3</tspan></text>
<line x1="27.5" y1="548.2" x2="29.7" y2="548.2" stroke="#1a1a1a" stroke-width="0.9"/>
<text x="24.3" y="550.4000000000001" font-size="6.2" text-anchor="end" fill="#222">0</text>
<line x1="27.5" y1="562.0" x2="29.7" y2="562.0" stroke="#1a1a1a" stroke-width="0.9"/>
<text x="24.3" y="564.2" font-size="6.2" text-anchor="end" fill="#222">−10<tspan dy="-2.6" font-size="4.2">3</tspan></text>
<line x1="28.1" y1="504.48" x2="29.5" y2="504.48" stroke="#1a1a1a" stroke-width="0.7"/>
<line x1="28.1" y1="500.96" x2="29.5" y2="500.96" stroke="#1a1a1a" stroke-width="0.7"/>
<line x1="28.1" y1="498.46" x2="29.5" y2="498.46" stroke="#1a1a1a" stroke-width="0.7"/>
<line x1="28.1" y1="496.52" x2="29.5" y2="496.52" stroke="#1a1a1a" stroke-width="0.7"/>
<line x1="28.1" y1="494.94" x2="29.5" y2="494.94" stroke="#1a1a1a" stroke-width="0.7"/>
<line x1="28.1" y1="493.6" x2="29.5" y2="493.6" stroke="#1a1a1a" stroke-width="0.7"/>
<line x1="28.1" y1="492.44" x2="29.5" y2="492.44" stroke="#1a1a1a" stroke-width="0.7"/>
<line x1="28.1" y1="491.42" x2="29.5" y2="491.42" stroke="#1a1a1a" stroke-width="0.7"/>
<line x1="28.1" y1="526.58" x2="29.5" y2="526.58" stroke="#1a1a1a" stroke-width="0.7"/>
<line x1="28.1" y1="522.53" x2="29.5" y2="522.53" stroke="#1a1a1a" stroke-width="0.7"/>
<line x1="28.1" y1="519.65" x2="29.5" y2="519.65" stroke="#1a1a1a" stroke-width="0.7"/>
<line x1="28.1" y1="517.42" x2="29.5" y2="517.42" stroke="#1a1a1a" stroke-width="0.7"/>
<line x1="28.1" y1="515.6" x2="29.5" y2="515.6" stroke="#1a1a1a" stroke-width="0.7"/>
<line x1="28.1" y1="514.06" x2="29.5" y2="514.06" stroke="#1a1a1a" stroke-width="0.7"/>
<line x1="28.1" y1="512.73" x2="29.5" y2="512.73" stroke="#1a1a1a" stroke-width="0.7"/>
<line x1="28.1" y1="511.55" x2="29.5" y2="511.55" stroke="#1a1a1a" stroke-width="0.7"/>
<line x1="28.1" y1="544.53" x2="29.5" y2="544.53" stroke="#1a1a1a" stroke-width="0.7"/>
<line x1="28.1" y1="540.85" x2="29.5" y2="540.85" stroke="#1a1a1a" stroke-width="0.7"/>
<line x1="28.1" y1="537.17" x2="29.5" y2="537.17" stroke="#1a1a1a" stroke-width="0.7"/>
<line x1="28.1" y1="558.55" x2="29.5" y2="558.55" stroke="#1a1a1a" stroke-width="0.7"/>
<line x1="28.1" y1="555.1" x2="29.5" y2="555.1" stroke="#1a1a1a" stroke-width="0.7"/>
<line x1="28.1" y1="551.65" x2="29.5" y2="551.65" stroke="#1a1a1a" stroke-width="0.7"/>
<line x1="70.42" y1="568.0" x2="70.42" y2="569.4" stroke="#1a1a1a" stroke-width="0.7"/>
<line x1="74.47" y1="568.0" x2="74.47" y2="569.4" stroke="#1a1a1a" stroke-width="0.7"/>
<line x1="77.35" y1="568.0" x2="77.35" y2="569.4" stroke="#1a1a1a" stroke-width="0.7"/>
<line x1="79.58" y1="568.0" x2="79.58" y2="569.4" stroke="#1a1a1a" stroke-width="0.7"/>
<line x1="81.4" y1="568.0" x2="81.4" y2="569.4" stroke="#1a1a1a" stroke-width="0.7"/>
<line x1="82.94" y1="568.0" x2="82.94" y2="569.4" stroke="#1a1a1a" stroke-width="0.7"/>
<line x1="84.27" y1="568.0" x2="84.27" y2="569.4" stroke="#1a1a1a" stroke-width="0.7"/>
<line x1="85.45" y1="568.0" x2="85.45" y2="569.4" stroke="#1a1a1a" stroke-width="0.7"/>
<line x1="92.97" y1="568.0" x2="92.97" y2="569.4" stroke="#1a1a1a" stroke-width="0.7"/>
<line x1="96.76" y1="568.0" x2="96.76" y2="569.4" stroke="#1a1a1a" stroke-width="0.7"/>
<line x1="99.44" y1="568.0" x2="99.44" y2="569.4" stroke="#1a1a1a" stroke-width="0.7"/>
<line x1="101.53" y1="568.0" x2="101.53" y2="569.4" stroke="#1a1a1a" stroke-width="0.7"/>
<line x1="103.23" y1="568.0" x2="103.23" y2="569.4" stroke="#1a1a1a" stroke-width="0.7"/>
<line x1="104.67" y1="568.0" x2="104.67" y2="569.4" stroke="#1a1a1a" stroke-width="0.7"/>
<line x1="105.92" y1="568.0" x2="105.92" y2="569.4" stroke="#1a1a1a" stroke-width="0.7"/>
<line x1="107.02" y1="568.0" x2="107.02" y2="569.4" stroke="#1a1a1a" stroke-width="0.7"/>
<line x1="37.25" y1="568.0" x2="37.25" y2="569.4" stroke="#1a1a1a" stroke-width="0.7"/>
<line x1="41.5" y1="568.0" x2="41.5" y2="569.4" stroke="#1a1a1a" stroke-width="0.7"/>
<line x1="45.75" y1="568.0" x2="45.75" y2="569.4" stroke="#1a1a1a" stroke-width="0.7"/>
<line x1="53.38" y1="568.0" x2="53.38" y2="569.4" stroke="#1a1a1a" stroke-width="0.7"/>
<line x1="56.75" y1="568.0" x2="56.75" y2="569.4" stroke="#1a1a1a" stroke-width="0.7"/>
<line x1="60.12" y1="568.0" x2="60.12" y2="569.4" stroke="#1a1a1a" stroke-width="0.7"/>
<line x1="33" y1="568.0" x2="33" y2="569.8" stroke="#1a1a1a" stroke-width="0.9"/>
<text x="33" y="577.8" font-size="6.2" text-anchor="middle" fill="#222">−10<tspan dy="-2.6" font-size="4.2">3</tspan></text>
<line x1="50" y1="568.0" x2="50" y2="569.8" stroke="#1a1a1a" stroke-width="0.9"/>
<text x="50" y="577.8" font-size="6.2" text-anchor="middle" fill="#222">0</text>
<line x1="63.5" y1="568.0" x2="63.5" y2="569.8" stroke="#1a1a1a" stroke-width="0.9"/>
<text x="63.5" y="577.8" font-size="6.2" text-anchor="middle" fill="#222">10<tspan dy="-2.6" font-size="4.2">3</tspan></text>
<line x1="86.5" y1="568.0" x2="86.5" y2="569.8" stroke="#1a1a1a" stroke-width="0.9"/>
<text x="86.5" y="577.8" font-size="6.2" text-anchor="middle" fill="#222">10<tspan dy="-2.6" font-size="4.2">4</tspan></text>
<line x1="108" y1="568.0" x2="108" y2="569.8" stroke="#1a1a1a" stroke-width="0.9"/>
<text x="108" y="577.8" font-size="6.2" text-anchor="middle" fill="#222">10<tspan dy="-2.6" font-size="4.2">5</tspan></text>
<line x1="28.5" y1="583.0" x2="110" y2="583.0" stroke="#1a1a1a" stroke-width="0.9"/>
<path d="M108.5,581.0 L113,583.0 L108.5,585.0 Z" fill="#1a1a1a"/>
<text x="68.5" y="592.0" font-size="7.5" text-anchor="middle" font-style="italic" fill="#231f20">iA-iE MHCII</text>
<rect x="40.2" y="494.2" width="22.799999999999997" height="26.30000000000001" fill="none" stroke="#c0304a" stroke-width="1.3"/>
<rect x="73" y="494.2" width="39.3" height="26.30000000000001" fill="none" stroke="#2a5a9a" stroke-width="1.3"/>
<circle cx="53.17" cy="508.57" r="0.62" fill="#2a8a2a"/>
<circle cx="53.28" cy="513.76" r="0.62" fill="#3a9a3a"/>
<circle cx="52.73" cy="510.72" r="0.62" fill="#3a9a3a"/>
<circle cx="58.72" cy="504.65" r="0.62" fill="#3a9a3a"/>
<circle cx="49.74" cy="505.15" r="0.62" fill="#3a9a3a"/>
<circle cx="45.23" cy="512.27" r="0.62" fill="#1f7a2a"/>
<circle cx="52.86" cy="505.2" r="0.62" fill="#2a8a2a"/>
<circle cx="55.74" cy="505.86" r="0.62" fill="#1f7a2a"/>
<circle cx="49.13" cy="499.93" r="0.62" fill="#1f7a2a"/>
<circle cx="50.43" cy="503.85" r="0.62" fill="#3a9a3a"/>
<circle cx="55.12" cy="509.62" r="0.62" fill="#1f7a2a"/>
<circle cx="55.1" cy="505.07" r="0.62" fill="#2a8a2a"/>
<circle cx="61.77" cy="501.29" r="0.62" fill="#3a9a3a"/>
<circle cx="55.03" cy="502.34" r="0.62" fill="#2a8a2a"/>
<circle cx="44.72" cy="503.59" r="0.62" fill="#2a8a2a"/>
<circle cx="49.61" cy="499.99" r="0.62" fill="#2a8a2a"/>
<circle cx="56.43" cy="505.15" r="0.62" fill="#1f7a2a"/>
<circle cx="56.75" cy="503.64" r="0.62" fill="#2a8a2a"/>
<circle cx="43.77" cy="501.3" r="0.62" fill="#1f7a2a"/>
<circle cx="57.52" cy="508.47" r="0.62" fill="#3a9a3a"/>
<circle cx="56.83" cy="505.68" r="0.62" fill="#3a9a3a"/>
<circle cx="55.74" cy="496.89" r="0.62" fill="#3a9a3a"/>
<circle cx="50.23" cy="502.96" r="0.62" fill="#3a9a3a"/>
<circle cx="54.11" cy="503.42" r="0.62" fill="#3a9a3a"/>
<circle cx="56.33" cy="501.15" r="0.62" fill="#2a8a2a"/>
<circle cx="50.93" cy="508.32" r="0.62" fill="#3a9a3a"/>
<circle cx="55.41" cy="503.48" r="0.62" fill="#1f7a2a"/>
<circle cx="53.91" cy="509.65" r="0.62" fill="#3a9a3a"/>
<circle cx="46.46" cy="505.97" r="0.62" fill="#3a9a3a"/>
<circle cx="56.8" cy="506.46" r="0.62" fill="#3a9a3a"/>
<circle cx="51.05" cy="503.06" r="0.62" fill="#2a8a2a"/>
<circle cx="45.88" cy="503.78" r="0.62" fill="#1f7a2a"/>
<circle cx="52.89" cy="510.02" r="0.62" fill="#3a9a3a"/>
<circle cx="50.59" cy="503.4" r="0.62" fill="#2a8a2a"/>
<circle cx="56.06" cy="507.39" r="0.62" fill="#3a9a3a"/>
<circle cx="58.28" cy="505.77" r="0.62" fill="#3a9a3a"/>
<circle cx="51.73" cy="506.0" r="0.62" fill="#3a9a3a"/>
<circle cx="43.88" cy="505.47" r="0.62" fill="#1f7a2a"/>
<circle cx="48.75" cy="503.84" r="0.62" fill="#1f7a2a"/>
<circle cx="52.44" cy="502.56" r="0.62" fill="#2a8a2a"/>
<circle cx="49.49" cy="502.45" r="0.62" fill="#2a8a2a"/>
<circle cx="55.14" cy="497.99" r="0.62" fill="#1f7a2a"/>
<circle cx="47.18" cy="508.44" r="0.62" fill="#1f7a2a"/>
<circle cx="51.5" cy="507.9" r="0.62" fill="#3a9a3a"/>
<circle cx="56.18" cy="505.13" r="0.62" fill="#1f7a2a"/>
<circle cx="48.02" cy="507.82" r="0.62" fill="#1f7a2a"/>
<circle cx="51.16" cy="505.68" r="0.62" fill="#2a8a2a"/>
<circle cx="46.2" cy="509.47" r="0.62" fill="#1f7a2a"/>
<circle cx="52.76" cy="508.08" r="0.62" fill="#3a9a3a"/>
<circle cx="52.46" cy="506.23" r="0.62" fill="#1f7a2a"/>
<circle cx="56.12" cy="505.98" r="0.62" fill="#2a8a2a"/>
<circle cx="52.03" cy="508.26" r="0.62" fill="#3a9a3a"/>
<circle cx="48.57" cy="505.82" r="0.62" fill="#3a9a3a"/>
<circle cx="57.24" cy="509.27" r="0.62" fill="#1f7a2a"/>
<circle cx="56.64" cy="506.94" r="0.62" fill="#3a9a3a"/>
<circle cx="52.82" cy="505.42" r="0.62" fill="#3a9a3a"/>
<circle cx="53.29" cy="503.85" r="0.62" fill="#2a8a2a"/>
<circle cx="59.29" cy="501.36" r="0.62" fill="#3a9a3a"/>
<circle cx="57.45" cy="503.9" r="0.62" fill="#3a9a3a"/>
<circle cx="52.03" cy="500.65" r="0.62" fill="#3a9a3a"/>
<circle cx="51.08" cy="505.7" r="0.62" fill="#3a9a3a"/>
<circle cx="49.36" cy="504.85" r="0.62" fill="#1f7a2a"/>
<circle cx="59.5" cy="503.69" r="0.62" fill="#1f7a2a"/>
<circle cx="49.22" cy="507.34" r="0.62" fill="#2a8a2a"/>
<circle cx="56.16" cy="507.58" r="0.62" fill="#3a9a3a"/>
<circle cx="53.69" cy="506.87" r="0.62" fill="#2a8a2a"/>
<circle cx="49.57" cy="503.61" r="0.62" fill="#1f7a2a"/>
<circle cx="49.03" cy="509.13" r="0.62" fill="#1f7a2a"/>
<circle cx="53.65" cy="509.34" r="0.62" fill="#1f7a2a"/>
<circle cx="55.41" cy="505.14" r="0.62" fill="#1f7a2a"/>
<circle cx="53.9" cy="507.24" r="0.62" fill="#2a8a2a"/>
<circle cx="56.66" cy="503.48" r="0.62" fill="#1f7a2a"/>
<circle cx="52.56" cy="502.58" r="0.62" fill="#2a8a2a"/>
<circle cx="53.66" cy="505.53" r="0.62" fill="#1f7a2a"/>
<circle cx="52.37" cy="506.97" r="0.62" fill="#3a9a3a"/>
<circle cx="52.37" cy="506.82" r="0.62" fill="#2a8a2a"/>
<circle cx="58.42" cy="507.02" r="0.62" fill="#1f7a2a"/>
<circle cx="58.28" cy="507.69" r="0.62" fill="#3a9a3a"/>
<circle cx="54.82" cy="501.44" r="0.62" fill="#1f7a2a"/>
<circle cx="57.18" cy="506.11" r="0.62" fill="#1f7a2a"/>
<circle cx="50.74" cy="508.56" r="0.62" fill="#1f7a2a"/>
<circle cx="53.35" cy="505.94" r="0.62" fill="#1f7a2a"/>
<circle cx="50.37" cy="509.11" r="0.62" fill="#2a8a2a"/>
<circle cx="50.02" cy="506.4" r="0.62" fill="#2a8a2a"/>
<circle cx="50.95" cy="503.74" r="0.62" fill="#2a8a2a"/>
<circle cx="61.11" cy="504.24" r="0.62" fill="#1f7a2a"/>
<circle cx="45.44" cy="505.91" r="0.62" fill="#2a8a2a"/>
<circle cx="52.65" cy="504.96" r="0.62" fill="#1f7a2a"/>
<circle cx="47.52" cy="500.72" r="0.62" fill="#2a8a2a"/>
<circle cx="47.65" cy="505.5" r="0.62" fill="#2a8a2a"/>
<circle cx="91.42" cy="506.47" r="0.6" fill="#2a8a2a"/>
<circle cx="59.14" cy="504.56" r="0.6" fill="#3a9a3a"/>
<circle cx="89.54" cy="506.23" r="0.6" fill="#3a9a3a"/>
<circle cx="92.15" cy="504.86" r="0.6" fill="#3a9a3a"/>
<circle cx="86.5" cy="507.48" r="0.6" fill="#3a9a3a"/>
<circle cx="65.25" cy="506.88" r="0.6" fill="#2a8a2a"/>
<circle cx="93.84" cy="509.97" r="0.6" fill="#2a8a2a"/>
<circle cx="99.09" cy="505.1" r="0.6" fill="#3a9a3a"/>
<circle cx="94.97" cy="509.95" r="0.6" fill="#2a8a2a"/>
<circle cx="67.38" cy="506.3" r="0.6" fill="#2a8a2a"/>
<circle cx="75.47" cy="505.41" r="0.6" fill="#3a9a3a"/>
<circle cx="59.32" cy="504.65" r="0.6" fill="#2a8a2a"/>
<circle cx="60.26" cy="506.29" r="0.6" fill="#2a8a2a"/>
<circle cx="96.54" cy="508.54" r="0.6" fill="#2a8a2a"/>
<circle cx="85.24" cy="505.93" r="0.6" fill="#2a8a2a"/>
<circle cx="101.01" cy="509.0" r="0.6" fill="#2a8a2a"/>
<circle cx="94.79" cy="507.51" r="0.6" fill="#3a9a3a"/>
<circle cx="95.66" cy="504.96" r="0.6" fill="#3a9a3a"/>
<circle cx="68.07" cy="506.77" r="0.6" fill="#2a8a2a"/>
<circle cx="98.66" cy="503.92" r="0.6" fill="#3a9a3a"/>
<circle cx="69.12" cy="505.15" r="0.6" fill="#2a8a2a"/>
<circle cx="70.61" cy="505.12" r="0.6" fill="#3a9a3a"/>
<circle cx="89.6" cy="507.84" r="0.6" fill="#3a9a3a"/>
<circle cx="86.79" cy="504.66" r="0.6" fill="#3a9a3a"/>
<circle cx="82.34" cy="507.24" r="0.6" fill="#3a9a3a"/>
<circle cx="63.85" cy="507.9" r="0.6" fill="#3a9a3a"/>
<circle cx="67.67" cy="507.08" r="0.6" fill="#3a9a3a"/>
<circle cx="95.5" cy="509.43" r="0.6" fill="#2a8a2a"/>
<circle cx="87.65" cy="504.78" r="0.6" fill="#3a9a3a"/>
<circle cx="59.73" cy="511.1" r="0.6" fill="#2a8a2a"/>
<circle cx="96.09" cy="503.52" r="0.6" fill="#3a9a3a"/>
<circle cx="101.35" cy="503.89" r="0.6" fill="#3a9a3a"/>
<circle cx="89.41" cy="507.12" r="0.6" fill="#3a9a3a"/>
<circle cx="93.85" cy="507.19" r="0.6" fill="#3a9a3a"/>
<circle cx="71.19" cy="507.72" r="0.6" fill="#2a8a2a"/>
<circle cx="74.31" cy="504.8" r="0.6" fill="#2a8a2a"/>
<circle cx="82.97" cy="506.52" r="0.6" fill="#2a8a2a"/>
<circle cx="91.65" cy="506.98" r="0.6" fill="#3a9a3a"/>
<circle cx="71.6" cy="505.49" r="0.6" fill="#2a8a2a"/>
<circle cx="90.81" cy="507.1" r="0.6" fill="#3a9a3a"/>
<circle cx="81.25" cy="507.2" r="0.6" fill="#2a8a2a"/>
<circle cx="93.0" cy="505.59" r="0.6" fill="#3a9a3a"/>
<circle cx="95.54" cy="510.6" r="0.6" fill="#2a8a2a"/>
<circle cx="80.53" cy="504.18" r="0.6" fill="#3a9a3a"/>
<circle cx="68.87" cy="506.7" r="0.6" fill="#2a8a2a"/>
<circle cx="50" cy="514" r="0.5" fill="#2f8f2f"/>
<circle cx="56" cy="515" r="0.5" fill="#2f8f2f"/>
<circle cx="60" cy="512" r="0.5" fill="#2f8f2f"/>
<circle cx="45" cy="512" r="0.5" fill="#2f8f2f"/>
<circle cx="55" cy="498" r="0.5" fill="#2f8f2f"/>
<circle cx="62" cy="499" r="0.5" fill="#2f8f2f"/>
<circle cx="83" cy="516" r="0.5" fill="#2f8f2f"/>
<circle cx="109" cy="506" r="0.5" fill="#2f8f2f"/>
<rect x="29.599999999999998" y="546.5" width="1.2" height="2" fill="#1a1a1a"/>
<rect x="29.599999999999998" y="548.5" width="1.2" height="2" fill="#1a1a1a"/>
<rect x="46.4" y="566.5" width="1.2" height="2" fill="#1a1a1a"/>
<rect x="50.4" y="566.5" width="1.2" height="2" fill="#1a1a1a"/>
<rect x="54.4" y="566.5" width="1.2" height="2" fill="#1a1a1a"/>
<text x="51.6" y="529.5" font-size="6.8" text-anchor="middle" font-style="italic" fill="#222">MHCII<tspan dy="-2.4" font-size="4.3">lo</tspan></text>
<text x="96.3" y="529.5" font-size="6.8" text-anchor="middle" font-style="italic" fill="#222">MHCII<tspan dy="-2.4" font-size="4.3">hi</tspan></text>
<line x1="106.8" y1="508.3" x2="122" y2="508.3" stroke="#7d7fb8" stroke-width="1.3"/>
<path d="M120.2,505.90000000000003 L125,508.3 L120.2,510.7 Z" fill="#7d7fb8"/>
<line x1="152.5" y1="481.45" x2="152.5" y2="568" stroke="#1a1a1a" stroke-width="1.1"/>
<line x1="151.95" y1="568" x2="240.05" y2="568" stroke="#1a1a1a" stroke-width="1.1"/>
<line x1="239.5" y1="481.45" x2="239.5" y2="568" stroke="#1a1a1a" stroke-width="1.1"/>
<line x1="152.5" y1="482" x2="156.0" y2="482" stroke="#1a1a1a" stroke-width="1.1"/>
<line x1="189.5" y1="482" x2="239.5" y2="482" stroke="#1a1a1a" stroke-width="1.1"/>
<text x="157.5" y="485" font-size="8.8" font-style="italic" fill="#231f20">MHCII<tspan dy="-3" font-size="5.5">lo</tspan></text>
<line x1="150.5" y1="489.5" x2="152.7" y2="489.5" stroke="#1a1a1a" stroke-width="0.9"/>
<text x="147.3" y="491.7" font-size="6.2" text-anchor="end" fill="#222">10<tspan dy="-2.6" font-size="4.2">5</tspan></text>
<line x1="150.5" y1="512.5" x2="152.7" y2="512.5" stroke="#1a1a1a" stroke-width="0.9"/>
<text x="147.3" y="514.7" font-size="6.2" text-anchor="end" fill="#222">10<tspan dy="-2.6" font-size="4.2">4</tspan></text>
<line x1="150.5" y1="534.5" x2="152.7" y2="534.5" stroke="#1a1a1a" stroke-width="0.9"/>
<text x="147.3" y="536.7" font-size="6.2" text-anchor="end" fill="#222">10<tspan dy="-2.6" font-size="4.2">3</tspan></text>
<line x1="150.5" y1="548.8" x2="152.7" y2="548.8" stroke="#1a1a1a" stroke-width="0.9"/>
<text x="147.3" y="551.0" font-size="6.2" text-anchor="end" fill="#222">0</text>
<line x1="150.5" y1="562.5" x2="152.7" y2="562.5" stroke="#1a1a1a" stroke-width="0.9"/>
<text x="147.3" y="564.7" font-size="6.2" text-anchor="end" fill="#222">−10<tspan dy="-2.6" font-size="4.2">3</tspan></text>
<line x1="151.1" y1="505.58" x2="152.5" y2="505.58" stroke="#1a1a1a" stroke-width="0.7"/>
<line x1="151.1" y1="501.53" x2="152.5" y2="501.53" stroke="#1a1a1a" stroke-width="0.7"/>
<line x1="151.1" y1="498.65" x2="152.5" y2="498.65" stroke="#1a1a1a" stroke-width="0.7"/>
<line x1="151.1" y1="496.42" x2="152.5" y2="496.42" stroke="#1a1a1a" stroke-width="0.7"/>
<line x1="151.1" y1="494.6" x2="152.5" y2="494.6" stroke="#1a1a1a" stroke-width="0.7"/>
<line x1="151.1" y1="493.06" x2="152.5" y2="493.06" stroke="#1a1a1a" stroke-width="0.7"/>
<line x1="151.1" y1="491.73" x2="152.5" y2="491.73" stroke="#1a1a1a" stroke-width="0.7"/>
<line x1="151.1" y1="490.55" x2="152.5" y2="490.55" stroke="#1a1a1a" stroke-width="0.7"/>
<line x1="151.1" y1="527.88" x2="152.5" y2="527.88" stroke="#1a1a1a" stroke-width="0.7"/>
<line x1="151.1" y1="524.0" x2="152.5" y2="524.0" stroke="#1a1a1a" stroke-width="0.7"/>
<line x1="151.1" y1="521.25" x2="152.5" y2="521.25" stroke="#1a1a1a" stroke-width="0.7"/>
<line x1="151.1" y1="519.12" x2="152.5" y2="519.12" stroke="#1a1a1a" stroke-width="0.7"/>
<line x1="151.1" y1="517.38" x2="152.5" y2="517.38" stroke="#1a1a1a" stroke-width="0.7"/>
<line x1="151.1" y1="515.91" x2="152.5" y2="515.91" stroke="#1a1a1a" stroke-width="0.7"/>
<line x1="151.1" y1="514.63" x2="152.5" y2="514.63" stroke="#1a1a1a" stroke-width="0.7"/>
<line x1="151.1" y1="513.51" x2="152.5" y2="513.51" stroke="#1a1a1a" stroke-width="0.7"/>
<line x1="151.1" y1="545.22" x2="152.5" y2="545.22" stroke="#1a1a1a" stroke-width="0.7"/>
<line x1="151.1" y1="541.65" x2="152.5" y2="541.65" stroke="#1a1a1a" stroke-width="0.7"/>
<line x1="151.1" y1="538.08" x2="152.5" y2="538.08" stroke="#1a1a1a" stroke-width="0.7"/>
<line x1="151.1" y1="559.08" x2="152.5" y2="559.08" stroke="#1a1a1a" stroke-width="0.7"/>
<line x1="151.1" y1="555.65" x2="152.5" y2="555.65" stroke="#1a1a1a" stroke-width="0.7"/>
<line x1="151.1" y1="552.22" x2="152.5" y2="552.22" stroke="#1a1a1a" stroke-width="0.7"/>
<line x1="194.33" y1="568" x2="194.33" y2="569.4" stroke="#1a1a1a" stroke-width="0.7"/>
<line x1="198.91" y1="568" x2="198.91" y2="569.4" stroke="#1a1a1a" stroke-width="0.7"/>
<line x1="202.15" y1="568" x2="202.15" y2="569.4" stroke="#1a1a1a" stroke-width="0.7"/>
<line x1="204.67" y1="568" x2="204.67" y2="569.4" stroke="#1a1a1a" stroke-width="0.7"/>
<line x1="206.73" y1="568" x2="206.73" y2="569.4" stroke="#1a1a1a" stroke-width="0.7"/>
<line x1="208.47" y1="568" x2="208.47" y2="569.4" stroke="#1a1a1a" stroke-width="0.7"/>
<line x1="209.98" y1="568" x2="209.98" y2="569.4" stroke="#1a1a1a" stroke-width="0.7"/>
<line x1="211.31" y1="568" x2="211.31" y2="569.4" stroke="#1a1a1a" stroke-width="0.7"/>
<line x1="218.37" y1="568" x2="218.37" y2="569.4" stroke="#1a1a1a" stroke-width="0.7"/>
<line x1="221.8" y1="568" x2="221.8" y2="569.4" stroke="#1a1a1a" stroke-width="0.7"/>
<line x1="224.24" y1="568" x2="224.24" y2="569.4" stroke="#1a1a1a" stroke-width="0.7"/>
<line x1="226.13" y1="568" x2="226.13" y2="569.4" stroke="#1a1a1a" stroke-width="0.7"/>
<line x1="227.67" y1="568" x2="227.67" y2="569.4" stroke="#1a1a1a" stroke-width="0.7"/>
<line x1="228.98" y1="568" x2="228.98" y2="569.4" stroke="#1a1a1a" stroke-width="0.7"/>
<line x1="230.11" y1="568" x2="230.11" y2="569.4" stroke="#1a1a1a" stroke-width="0.7"/>
<line x1="231.11" y1="568" x2="231.11" y2="569.4" stroke="#1a1a1a" stroke-width="0.7"/>
<line x1="160.82" y1="568" x2="160.82" y2="569.4" stroke="#1a1a1a" stroke-width="0.7"/>
<line x1="165.15" y1="568" x2="165.15" y2="569.4" stroke="#1a1a1a" stroke-width="0.7"/>
<line x1="169.48" y1="568" x2="169.48" y2="569.4" stroke="#1a1a1a" stroke-width="0.7"/>
<line x1="176.98" y1="568" x2="176.98" y2="569.4" stroke="#1a1a1a" stroke-width="0.7"/>
<line x1="180.15" y1="568" x2="180.15" y2="569.4" stroke="#1a1a1a" stroke-width="0.7"/>
<line x1="183.32" y1="568" x2="183.32" y2="569.4" stroke="#1a1a1a" stroke-width="0.7"/>
<line x1="156.5" y1="568" x2="156.5" y2="569.8" stroke="#1a1a1a" stroke-width="0.9"/>
<text x="156.5" y="577.8" font-size="6.2" text-anchor="middle" fill="#222">−10<tspan dy="-2.6" font-size="4.2">3</tspan></text>
<line x1="173.8" y1="568" x2="173.8" y2="569.8" stroke="#1a1a1a" stroke-width="0.9"/>
<text x="173.8" y="577.8" font-size="6.2" text-anchor="middle" fill="#222">0</text>
<line x1="186.5" y1="568" x2="186.5" y2="569.8" stroke="#1a1a1a" stroke-width="0.9"/>
<text x="186.5" y="577.8" font-size="6.2" text-anchor="middle" fill="#222">10<tspan dy="-2.6" font-size="4.2">3</tspan></text>
<line x1="212.5" y1="568" x2="212.5" y2="569.8" stroke="#1a1a1a" stroke-width="0.9"/>
<text x="212.5" y="577.8" font-size="6.2" text-anchor="middle" fill="#222">10<tspan dy="-2.6" font-size="4.2">4</tspan></text>
<line x1="232.0" y1="568" x2="232.0" y2="569.8" stroke="#1a1a1a" stroke-width="0.9"/>
<text x="232.0" y="577.8" font-size="6.2" text-anchor="middle" fill="#222">10<tspan dy="-2.6" font-size="4.2">5</tspan></text>
<line x1="205.75" y1="482" x2="205.75" y2="568" stroke="#1a1a1a" stroke-width="1.0"/>
<line x1="152.5" y1="535" x2="239.5" y2="535" stroke="#1a1a1a" stroke-width="1.0"/>
<text x="160.0" y="491.5" font-size="6.6" text-anchor="middle" fill="#333">Q3</text>
<text x="160.0" y="499.3" font-size="6.6" text-anchor="middle" fill="#333">0</text>
<text x="231.5" y="491.5" font-size="6.6" text-anchor="middle" fill="#333">Q2</text>
<text x="231.5" y="499.3" font-size="6.6" text-anchor="middle" fill="#333">0</text>
<text x="161.0" y="557.5" font-size="6.6" text-anchor="middle" fill="#333">Q4</text>
<text x="161.0" y="565" font-size="6.6" text-anchor="middle" fill="#333">75.8</text>
<text x="231.0" y="557.5" font-size="6.6" text-anchor="middle" fill="#333">Q1</text>
<text x="231.0" y="565" font-size="6.6" text-anchor="middle" fill="#333">24.2</text>
<circle cx="229.44" cy="547.56" r="0.7" fill="#9c1032"/>
<circle cx="229.01" cy="548.35" r="0.7" fill="#9c1032"/>
<circle cx="216.89" cy="546.47" r="0.7" fill="#9c1032"/>
<circle cx="204.84" cy="546.47" r="0.7" fill="#9c1032"/>
<circle cx="162.81" cy="548.08" r="0.7" fill="#9c1032"/>
<circle cx="221.36" cy="546.64" r="0.7" fill="#9c1032"/>
<circle cx="178.22" cy="549.59" r="0.7" fill="#9c1032"/>
<circle cx="181.62" cy="547.77" r="0.7" fill="#9c1032"/>
<circle cx="199.23" cy="548.83" r="0.7" fill="#9c1032"/>
<circle cx="213.65" cy="548.17" r="0.7" fill="#9c1032"/>
<circle cx="183.63" cy="546.93" r="0.7" fill="#9c1032"/>
<circle cx="224.99" cy="550.08" r="0.7" fill="#9c1032"/>
<circle cx="208.61" cy="546.29" r="0.7" fill="#9c1032"/>
<circle cx="226.39" cy="548.73" r="0.7" fill="#9c1032"/>
<circle cx="167.23" cy="548.27" r="0.7" fill="#9c1032"/>
<circle cx="173.81" cy="548.26" r="0.7" fill="#9c1032"/>
<circle cx="191.44" cy="547.61" r="0.7" fill="#9c1032"/>
<circle cx="221.12" cy="548.53" r="0.7" fill="#9c1032"/>
<circle cx="176.5" cy="548.15" r="0.7" fill="#9c1032"/>
<circle cx="213.34" cy="547.37" r="0.7" fill="#9c1032"/>
<circle cx="193.56" cy="547.1" r="0.7" fill="#9c1032"/>
<circle cx="183.52" cy="546.79" r="0.7" fill="#9c1032"/>
<circle cx="206.29" cy="546.98" r="0.7" fill="#9c1032"/>
<circle cx="177.09" cy="550.2" r="0.7" fill="#9c1032"/>
<circle cx="229.4" cy="546.82" r="0.7" fill="#9c1032"/>
<circle cx="164.76" cy="549.33" r="0.7" fill="#9c1032"/>
<circle cx="179.74" cy="546.69" r="0.7" fill="#9c1032"/>
<circle cx="217.97" cy="549.84" r="0.7" fill="#9c1032"/>
<circle cx="200.77" cy="550.26" r="0.7" fill="#9c1032"/>
<circle cx="181.24" cy="547.3" r="0.7" fill="#9c1032"/>
<circle cx="182.83" cy="549.07" r="0.7" fill="#9c1032"/>
<circle cx="165.93" cy="548.84" r="0.7" fill="#9c1032"/>
<circle cx="227.03" cy="547.41" r="0.7" fill="#9c1032"/>
<circle cx="227.79" cy="548.38" r="0.7" fill="#9c1032"/>
<circle cx="217.09" cy="546.95" r="0.7" fill="#9c1032"/>
<circle cx="169.47" cy="547.0" r="0.7" fill="#9c1032"/>
<circle cx="192.92" cy="548.57" r="0.7" fill="#9c1032"/>
<circle cx="165.91" cy="549.18" r="0.7" fill="#9c1032"/>
<circle cx="199.3" cy="547.56" r="0.7" fill="#9c1032"/>
<circle cx="228.67" cy="548.91" r="0.7" fill="#9c1032"/>
<circle cx="193.79" cy="548.03" r="0.7" fill="#9c1032"/>
<circle cx="193.97" cy="547.83" r="0.7" fill="#9c1032"/>
<circle cx="195.94" cy="547.72" r="0.7" fill="#9c1032"/>
<circle cx="212.36" cy="550.35" r="0.7" fill="#9c1032"/>
<circle cx="221.98" cy="547.73" r="0.7" fill="#9c1032"/>
<circle cx="180.14" cy="548.32" r="0.7" fill="#9c1032"/>
<circle cx="176.68" cy="549.15" r="0.7" fill="#9c1032"/>
<circle cx="224.59" cy="549.97" r="0.7" fill="#9c1032"/>
<circle cx="163.6" cy="546.58" r="0.7" fill="#9c1032"/>
<circle cx="172.72" cy="547.21" r="0.7" fill="#9c1032"/>
<circle cx="196.91" cy="547.82" r="0.7" fill="#9c1032"/>
<circle cx="224.23" cy="549.79" r="0.7" fill="#9c1032"/>
<circle cx="214.54" cy="546.92" r="0.7" fill="#9c1032"/>
<circle cx="171.59" cy="548.33" r="0.7" fill="#9c1032"/>
<circle cx="178.29" cy="548.07" r="0.7" fill="#9c1032"/>
<circle cx="190.46" cy="546.78" r="0.7" fill="#9c1032"/>
<circle cx="200.23" cy="548.35" r="0.7" fill="#9c1032"/>
<circle cx="167.58" cy="547.48" r="0.7" fill="#9c1032"/>
<circle cx="230.03" cy="549.24" r="0.7" fill="#9c1032"/>
<circle cx="230.53" cy="549.79" r="0.7" fill="#9c1032"/>
<circle cx="215.88" cy="546.81" r="0.7" fill="#9c1032"/>
<circle cx="226.33" cy="547.42" r="0.7" fill="#9c1032"/>
<circle cx="173.16" cy="547.98" r="0.7" fill="#9c1032"/>
<circle cx="170.19" cy="549.37" r="0.7" fill="#9c1032"/>
<circle cx="184.78" cy="547.13" r="0.7" fill="#9c1032"/>
<circle cx="178.46" cy="548.2" r="0.7" fill="#9c1032"/>
<circle cx="220.08" cy="547.29" r="0.7" fill="#9c1032"/>
<circle cx="213.81" cy="546.34" r="0.7" fill="#9c1032"/>
<circle cx="192.43" cy="548.34" r="0.7" fill="#9c1032"/>
<circle cx="206.63" cy="549.35" r="0.7" fill="#9c1032"/>
<circle cx="185.81" cy="548.58" r="0.7" fill="#9c1032"/>
<circle cx="196.93" cy="548.0" r="0.7" fill="#9c1032"/>
<circle cx="214.55" cy="548.83" r="0.7" fill="#9c1032"/>
<circle cx="227.52" cy="548.45" r="0.7" fill="#9c1032"/>
<circle cx="194.54" cy="546.73" r="0.7" fill="#9c1032"/>
<circle cx="193.94" cy="548.82" r="0.7" fill="#9c1032"/>
<circle cx="177.04" cy="548.35" r="0.7" fill="#9c1032"/>
<circle cx="206.95" cy="547.84" r="0.7" fill="#9c1032"/>
<circle cx="170.66" cy="549.06" r="0.7" fill="#9c1032"/>
<circle cx="190.4" cy="546.95" r="0.7" fill="#9c1032"/>
<circle cx="203.03" cy="547.66" r="0.7" fill="#9c1032"/>
<circle cx="190.95" cy="547.39" r="0.7" fill="#9c1032"/>
<circle cx="174.4" cy="548.69" r="0.7" fill="#9c1032"/>
<circle cx="194.39" cy="547.22" r="0.7" fill="#9c1032"/>
<circle cx="209.21" cy="547.56" r="0.7" fill="#9c1032"/>
<circle cx="225.82" cy="546.63" r="0.7" fill="#9c1032"/>
<circle cx="227.17" cy="545.46" r="0.7" fill="#9c1032"/>
<circle cx="171.23" cy="549.38" r="0.7" fill="#9c1032"/>
<circle cx="187.69" cy="549.17" r="0.7" fill="#9c1032"/>
<circle cx="208.11" cy="547.87" r="0.7" fill="#9c1032"/>
<circle cx="186.02" cy="545.69" r="0.7" fill="#9c1032"/>
<circle cx="226.86" cy="550.06" r="0.7" fill="#9c1032"/>
<circle cx="225.98" cy="549.1" r="0.7" fill="#9c1032"/>
<circle cx="174.17" cy="548.2" r="0.7" fill="#9c1032"/>
<circle cx="214.05" cy="547.92" r="0.7" fill="#9c1032"/>
<circle cx="217.26" cy="547.15" r="0.7" fill="#9c1032"/>
<circle cx="222.83" cy="548.05" r="0.7" fill="#9c1032"/>
<circle cx="168.67" cy="548.11" r="0.7" fill="#9c1032"/>
<circle cx="229.86" cy="547.76" r="0.7" fill="#9c1032"/>
<circle cx="209.07" cy="547.69" r="0.7" fill="#9c1032"/>
<circle cx="192.31" cy="547.28" r="0.7" fill="#9c1032"/>
<circle cx="217.95" cy="548.2" r="0.7" fill="#9c1032"/>
<circle cx="201.32" cy="548.99" r="0.7" fill="#9c1032"/>
<circle cx="187.86" cy="547.48" r="0.7" fill="#9c1032"/>
<circle cx="165.67" cy="547.06" r="0.7" fill="#9c1032"/>
<circle cx="170.87" cy="547.11" r="0.7" fill="#9c1032"/>
<circle cx="209.37" cy="549.14" r="0.7" fill="#9c1032"/>
<circle cx="222.87" cy="548.38" r="0.7" fill="#9c1032"/>
<circle cx="184.44" cy="546.48" r="0.7" fill="#9c1032"/>
<circle cx="208.02" cy="548.02" r="0.7" fill="#9c1032"/>
<circle cx="164.84" cy="546.24" r="0.7" fill="#9c1032"/>
<circle cx="230.78" cy="546.88" r="0.7" fill="#9c1032"/>
<circle cx="176.36" cy="545.42" r="0.6" fill="#9c1032"/>
<circle cx="181.41" cy="543.57" r="0.6" fill="#9c1032"/>
<circle cx="220.69" cy="543.78" r="0.6" fill="#9c1032"/>
<circle cx="185.51" cy="544.94" r="0.6" fill="#9c1032"/>
<circle cx="170.99" cy="543.62" r="0.6" fill="#9c1032"/>
<circle cx="227.6" cy="545.87" r="0.6" fill="#9c1032"/>
<rect x="152.1" y="547.5" width="1.2" height="2.5" fill="#1a1a1a"/>
<rect x="170.5" y="566.8" width="3" height="1.2" fill="#1a1a1a"/>
<line x1="260.7" y1="481.45" x2="260.7" y2="568" stroke="#1a1a1a" stroke-width="1.1"/>
<line x1="260.15" y1="568" x2="349.25" y2="568" stroke="#1a1a1a" stroke-width="1.1"/>
<line x1="348.7" y1="481.45" x2="348.7" y2="568" stroke="#1a1a1a" stroke-width="1.1"/>
<line x1="260.7" y1="482" x2="264.2" y2="482" stroke="#1a1a1a" stroke-width="1.1"/>
<line x1="297.7" y1="482" x2="348.7" y2="482" stroke="#1a1a1a" stroke-width="1.1"/>
<text x="265.7" y="485" font-size="8.8" font-style="italic" fill="#231f20">MHCII<tspan dy="-3" font-size="5.5">hi</tspan></text>
<line x1="258.7" y1="489.5" x2="260.9" y2="489.5" stroke="#1a1a1a" stroke-width="0.9"/>
<text x="255.5" y="491.7" font-size="6.2" text-anchor="end" fill="#222">10<tspan dy="-2.6" font-size="4.2">5</tspan></text>
<line x1="258.7" y1="512.5" x2="260.9" y2="512.5" stroke="#1a1a1a" stroke-width="0.9"/>
<text x="255.5" y="514.7" font-size="6.2" text-anchor="end" fill="#222">10<tspan dy="-2.6" font-size="4.2">4</tspan></text>
<line x1="258.7" y1="534.5" x2="260.9" y2="534.5" stroke="#1a1a1a" stroke-width="0.9"/>
<text x="255.5" y="536.7" font-size="6.2" text-anchor="end" fill="#222">10<tspan dy="-2.6" font-size="4.2">3</tspan></text>
<line x1="258.7" y1="548.8" x2="260.9" y2="548.8" stroke="#1a1a1a" stroke-width="0.9"/>
<text x="255.5" y="551.0" font-size="6.2" text-anchor="end" fill="#222">0</text>
<line x1="258.7" y1="562.5" x2="260.9" y2="562.5" stroke="#1a1a1a" stroke-width="0.9"/>
<text x="255.5" y="564.7" font-size="6.2" text-anchor="end" fill="#222">−10<tspan dy="-2.6" font-size="4.2">3</tspan></text>
<line x1="259.3" y1="505.58" x2="260.7" y2="505.58" stroke="#1a1a1a" stroke-width="0.7"/>
<line x1="259.3" y1="501.53" x2="260.7" y2="501.53" stroke="#1a1a1a" stroke-width="0.7"/>
<line x1="259.3" y1="498.65" x2="260.7" y2="498.65" stroke="#1a1a1a" stroke-width="0.7"/>
<line x1="259.3" y1="496.42" x2="260.7" y2="496.42" stroke="#1a1a1a" stroke-width="0.7"/>
<line x1="259.3" y1="494.6" x2="260.7" y2="494.6" stroke="#1a1a1a" stroke-width="0.7"/>
<line x1="259.3" y1="493.06" x2="260.7" y2="493.06" stroke="#1a1a1a" stroke-width="0.7"/>
<line x1="259.3" y1="491.73" x2="260.7" y2="491.73" stroke="#1a1a1a" stroke-width="0.7"/>
<line x1="259.3" y1="490.55" x2="260.7" y2="490.55" stroke="#1a1a1a" stroke-width="0.7"/>
<line x1="259.3" y1="527.88" x2="260.7" y2="527.88" stroke="#1a1a1a" stroke-width="0.7"/>
<line x1="259.3" y1="524.0" x2="260.7" y2="524.0" stroke="#1a1a1a" stroke-width="0.7"/>
<line x1="259.3" y1="521.25" x2="260.7" y2="521.25" stroke="#1a1a1a" stroke-width="0.7"/>
<line x1="259.3" y1="519.12" x2="260.7" y2="519.12" stroke="#1a1a1a" stroke-width="0.7"/>
<line x1="259.3" y1="517.38" x2="260.7" y2="517.38" stroke="#1a1a1a" stroke-width="0.7"/>
<line x1="259.3" y1="515.91" x2="260.7" y2="515.91" stroke="#1a1a1a" stroke-width="0.7"/>
<line x1="259.3" y1="514.63" x2="260.7" y2="514.63" stroke="#1a1a1a" stroke-width="0.7"/>
<line x1="259.3" y1="513.51" x2="260.7" y2="513.51" stroke="#1a1a1a" stroke-width="0.7"/>
<line x1="259.3" y1="545.22" x2="260.7" y2="545.22" stroke="#1a1a1a" stroke-width="0.7"/>
<line x1="259.3" y1="541.65" x2="260.7" y2="541.65" stroke="#1a1a1a" stroke-width="0.7"/>
<line x1="259.3" y1="538.08" x2="260.7" y2="538.08" stroke="#1a1a1a" stroke-width="0.7"/>
<line x1="259.3" y1="559.08" x2="260.7" y2="559.08" stroke="#1a1a1a" stroke-width="0.7"/>
<line x1="259.3" y1="555.65" x2="260.7" y2="555.65" stroke="#1a1a1a" stroke-width="0.7"/>
<line x1="259.3" y1="552.22" x2="260.7" y2="552.22" stroke="#1a1a1a" stroke-width="0.7"/>
<line x1="302.53" y1="568" x2="302.53" y2="569.4" stroke="#1a1a1a" stroke-width="0.7"/>
<line x1="307.11" y1="568" x2="307.11" y2="569.4" stroke="#1a1a1a" stroke-width="0.7"/>
<line x1="310.35" y1="568" x2="310.35" y2="569.4" stroke="#1a1a1a" stroke-width="0.7"/>
<line x1="312.87" y1="568" x2="312.87" y2="569.4" stroke="#1a1a1a" stroke-width="0.7"/>
<line x1="314.93" y1="568" x2="314.93" y2="569.4" stroke="#1a1a1a" stroke-width="0.7"/>
<line x1="316.67" y1="568" x2="316.67" y2="569.4" stroke="#1a1a1a" stroke-width="0.7"/>
<line x1="318.18" y1="568" x2="318.18" y2="569.4" stroke="#1a1a1a" stroke-width="0.7"/>
<line x1="319.51" y1="568" x2="319.51" y2="569.4" stroke="#1a1a1a" stroke-width="0.7"/>
<line x1="326.57" y1="568" x2="326.57" y2="569.4" stroke="#1a1a1a" stroke-width="0.7"/>
<line x1="330.0" y1="568" x2="330.0" y2="569.4" stroke="#1a1a1a" stroke-width="0.7"/>
<line x1="332.44" y1="568" x2="332.44" y2="569.4" stroke="#1a1a1a" stroke-width="0.7"/>
<line x1="334.33" y1="568" x2="334.33" y2="569.4" stroke="#1a1a1a" stroke-width="0.7"/>
<line x1="335.87" y1="568" x2="335.87" y2="569.4" stroke="#1a1a1a" stroke-width="0.7"/>
<line x1="337.18" y1="568" x2="337.18" y2="569.4" stroke="#1a1a1a" stroke-width="0.7"/>
<line x1="338.31" y1="568" x2="338.31" y2="569.4" stroke="#1a1a1a" stroke-width="0.7"/>
<line x1="339.31" y1="568" x2="339.31" y2="569.4" stroke="#1a1a1a" stroke-width="0.7"/>
<line x1="269.02" y1="568" x2="269.02" y2="569.4" stroke="#1a1a1a" stroke-width="0.7"/>
<line x1="273.35" y1="568" x2="273.35" y2="569.4" stroke="#1a1a1a" stroke-width="0.7"/>
<line x1="277.68" y1="568" x2="277.68" y2="569.4" stroke="#1a1a1a" stroke-width="0.7"/>
<line x1="285.18" y1="568" x2="285.18" y2="569.4" stroke="#1a1a1a" stroke-width="0.7"/>
<line x1="288.35" y1="568" x2="288.35" y2="569.4" stroke="#1a1a1a" stroke-width="0.7"/>
<line x1="291.52" y1="568" x2="291.52" y2="569.4" stroke="#1a1a1a" stroke-width="0.7"/>
<line x1="264.7" y1="568" x2="264.7" y2="569.8" stroke="#1a1a1a" stroke-width="0.9"/>
<text x="264.7" y="577.8" font-size="6.2" text-anchor="middle" fill="#222">−10<tspan dy="-2.6" font-size="4.2">3</tspan></text>
<line x1="282.0" y1="568" x2="282.0" y2="569.8" stroke="#1a1a1a" stroke-width="0.9"/>
<text x="282.0" y="577.8" font-size="6.2" text-anchor="middle" fill="#222">0</text>
<line x1="294.7" y1="568" x2="294.7" y2="569.8" stroke="#1a1a1a" stroke-width="0.9"/>
<text x="294.7" y="577.8" font-size="6.2" text-anchor="middle" fill="#222">10<tspan dy="-2.6" font-size="4.2">3</tspan></text>
<line x1="320.7" y1="568" x2="320.7" y2="569.8" stroke="#1a1a1a" stroke-width="0.9"/>
<text x="320.7" y="577.8" font-size="6.2" text-anchor="middle" fill="#222">10<tspan dy="-2.6" font-size="4.2">4</tspan></text>
<line x1="340.2" y1="568" x2="340.2" y2="569.8" stroke="#1a1a1a" stroke-width="0.9"/>
<text x="340.2" y="577.8" font-size="6.2" text-anchor="middle" fill="#222">10<tspan dy="-2.6" font-size="4.2">5</tspan></text>
<line x1="314" y1="482" x2="314" y2="568" stroke="#1a1a1a" stroke-width="1.0"/>
<line x1="260.7" y1="535" x2="348.7" y2="535" stroke="#1a1a1a" stroke-width="1.0"/>
<text x="268.2" y="491.5" font-size="6.6" text-anchor="middle" fill="#333">Q3</text>
<text x="268.2" y="499.3" font-size="6.6" text-anchor="middle" fill="#333">0</text>
<text x="340.7" y="491.5" font-size="6.6" text-anchor="middle" fill="#333">Q2</text>
<text x="340.7" y="499.3" font-size="6.6" text-anchor="middle" fill="#333">0</text>
<text x="269.2" y="557.5" font-size="6.6" text-anchor="middle" fill="#333">Q4</text>
<text x="269.2" y="565" font-size="6.6" text-anchor="middle" fill="#333">92.3</text>
<text x="340.2" y="557.5" font-size="6.6" text-anchor="middle" fill="#333">Q1</text>
<text x="340.2" y="565" font-size="6.6" text-anchor="middle" fill="#333">7.69</text>
<circle cx="285.93" cy="549.2" r="0.7" fill="#1f3f95"/>
<circle cx="296.79" cy="547.51" r="0.7" fill="#1f3f95"/>
<circle cx="305.19" cy="547.37" r="0.7" fill="#1f3f95"/>
<circle cx="294.13" cy="547.49" r="0.7" fill="#1f3f95"/>
<circle cx="288.09" cy="548.37" r="0.7" fill="#1f3f95"/>
<circle cx="317.07" cy="547.91" r="0.7" fill="#1f3f95"/>
<circle cx="286.76" cy="548.25" r="0.7" fill="#1f3f95"/>
<circle cx="288.69" cy="546.32" r="0.7" fill="#1f3f95"/>
<circle cx="298.97" cy="546.81" r="0.7" fill="#1f3f95"/>
<circle cx="292.4" cy="547.18" r="0.7" fill="#1f3f95"/>
<circle cx="310.62" cy="548.4" r="0.7" fill="#1f3f95"/>
<circle cx="304.97" cy="547.11" r="0.7" fill="#1f3f95"/>
<circle cx="306.38" cy="547.91" r="0.7" fill="#1f3f95"/>
<circle cx="305.97" cy="547.05" r="0.7" fill="#1f3f95"/>
<circle cx="303.64" cy="547.37" r="0.7" fill="#1f3f95"/>
<circle cx="302.87" cy="547.59" r="0.7" fill="#1f3f95"/>
<circle cx="307.78" cy="548.74" r="0.7" fill="#1f3f95"/>
<circle cx="295.86" cy="547.68" r="0.7" fill="#1f3f95"/>
<circle cx="306.37" cy="549.12" r="0.7" fill="#1f3f95"/>
<circle cx="315.31" cy="548.12" r="0.7" fill="#1f3f95"/>
<circle cx="301.8" cy="550.26" r="0.7" fill="#1f3f95"/>
<circle cx="315.25" cy="547.68" r="0.7" fill="#1f3f95"/>
<circle cx="285.05" cy="549.43" r="0.7" fill="#1f3f95"/>
<circle cx="297.41" cy="547.23" r="0.7" fill="#1f3f95"/>
<circle cx="289.42" cy="547.15" r="0.7" fill="#1f3f95"/>
<circle cx="299.81" cy="549.16" r="0.7" fill="#1f3f95"/>
<circle cx="303.03" cy="548.36" r="0.7" fill="#1f3f95"/>
<circle cx="314.2" cy="549.37" r="0.7" fill="#1f3f95"/>
<circle cx="283.74" cy="544.02" r="0.6" fill="#1f3f95"/>
<circle cx="303.81" cy="543.83" r="0.6" fill="#1f3f95"/>
<circle cx="283.28" cy="543.43" r="0.6" fill="#1f3f95"/>
<circle cx="280.25" cy="544.53" r="0.6" fill="#1f3f95"/>
<circle cx="294.94" cy="545.91" r="0.6" fill="#1f3f95"/>
<circle cx="300.28" cy="544.28" r="0.6" fill="#1f3f95"/>
<rect x="260.3" y="547.5" width="1.2" height="2.5" fill="#1a1a1a"/>
<rect x="278.7" y="566.8" width="3" height="1.2" fill="#1a1a1a"/>
<line x1="131.3" y1="486.5" x2="131.3" y2="567.5" stroke="#1a1a1a" stroke-width="0.9"/>
<path d="M129.3,488.0 L131.3,483.5 L133.3,488.0 Z" fill="#1a1a1a"/>
<text x="127.5" y="526" font-size="7.5" text-anchor="middle" font-style="italic" fill="#231f20" transform="rotate(-90 127.5 526)">DAPI</text>
<line x1="151" y1="583" x2="319" y2="583" stroke="#1a1a1a" stroke-width="0.9"/>
<path d="M317.5,581 L322,583 L317.5,585 Z" fill="#1a1a1a"/>
<text x="229" y="591.5" font-size="7.5" text-anchor="middle" font-style="italic" fill="#231f20">AnnexinV</text>
<text x="367.5" y="479" font-size="11" text-anchor="start" font-weight="bold" fill="#000">J</text>
<rect x="431" y="508.6" width="29.7" height="68.9" fill="#e4899a"/>
<rect x="476.3" y="549.5" width="28.7" height="28.0" fill="#89a9c9"/>
<line x1="446.4" y1="508.6" x2="446.4" y2="503.8" stroke="#1a1a1a" stroke-width="0.9"/>
<line x1="439.2" y1="503.8" x2="453.59999999999997" y2="503.8" stroke="#1a1a1a" stroke-width="0.9"/>
<line x1="490.9" y1="549.5" x2="490.9" y2="539.4" stroke="#1a1a1a" stroke-width="0.9"/>
<line x1="483.7" y1="539.4" x2="498.09999999999997" y2="539.4" stroke="#1a1a1a" stroke-width="0.9"/>
<circle cx="446.4" cy="497.5" r="1.5" fill="#b30d2e"/>
<circle cx="446.4" cy="499.5" r="1.5" fill="#b30d2e"/>
<circle cx="446.4" cy="512.4" r="1.5" fill="#b30d2e"/>
<circle cx="446.4" cy="521" r="1.5" fill="#b30d2e"/>
<circle cx="490.9" cy="519.4" r="1.5" fill="#173f68"/>
<circle cx="490.9" cy="536.2" r="1.5" fill="#173f68"/>
<circle cx="490.9" cy="554.3" r="1.5" fill="#173f68"/>
<circle cx="490.9" cy="560" r="1.5" fill="#173f68"/>
<line x1="415.3" y1="480.6" x2="415.3" y2="577.5" stroke="#1a1a1a" stroke-width="1.0"/>
<line x1="413.1" y1="484.4" x2="415.3" y2="484.4" stroke="#1a1a1a" stroke-width="0.9"/>
<text x="409.5" y="487.15" font-size="7.7" text-anchor="end" fill="#222">40</text>
<line x1="413.1" y1="507.6" x2="415.3" y2="507.6" stroke="#1a1a1a" stroke-width="0.9"/>
<text x="409.5" y="510.35" font-size="7.7" text-anchor="end" fill="#222">30</text>
<line x1="413.1" y1="530.8" x2="415.3" y2="530.8" stroke="#1a1a1a" stroke-width="0.9"/>
<text x="409.5" y="533.55" font-size="7.7" text-anchor="end" fill="#222">20</text>
<line x1="413.1" y1="554.3" x2="415.3" y2="554.3" stroke="#1a1a1a" stroke-width="0.9"/>
<text x="409.5" y="557.05" font-size="7.7" text-anchor="end" fill="#222">10</text>
<line x1="413.1" y1="577.5" x2="415.3" y2="577.5" stroke="#1a1a1a" stroke-width="0.9"/>
<text x="409.5" y="580.25" font-size="7.7" text-anchor="end" fill="#222">0</text>
<line x1="415.3" y1="577.5" x2="520" y2="577.5" stroke="#1a1a1a" stroke-width="1.0"/>
<path d="M446.40,495.00 L446.40,490.20 L490.90,490.20 L490.90,517.00" fill="none" stroke="#1a1a1a" stroke-width="0.9"/>
<text x="468.65" y="491.2" font-size="9.2" text-anchor="middle" fill="#222">**</text>
<text x="446.4" y="589.5" font-size="8" text-anchor="middle" fill="#222">MHCII<tspan dy="-2.8" font-size="5">lo</tspan></text>
<text x="490.9" y="589.5" font-size="8" text-anchor="middle" fill="#222">MHCII<tspan dy="-2.8" font-size="5">hi</tspan></text>
<text x="381" y="527" font-size="7.9" text-anchor="middle" fill="#222" transform="rotate(-90 381 527)">Proportion of annexinV<tspan dy="-2.8" font-size="5">+</tspan></text>
<text x="392" y="525.6" font-size="7.9" text-anchor="middle" fill="#222" transform="rotate(-90 392 525.6)" textLength="52" lengthAdjust="spacingAndGlyphs">DAPI<tspan dy="-2.8" font-size="5">−</tspan><tspan dy="2.8"> HSCs (%)</tspan></text>
<text x="0.5" y="607.5" font-size="11.3" text-anchor="start" font-weight="bold" fill="#000">K</text>
<rect x="56" y="650.5" width="9.7" height="53.5" fill="#e4899a"/>
<rect x="69.2" y="627" width="9.7" height="77" fill="#89a9c9"/>
<rect x="90.7" y="666" width="9.6" height="38" fill="#e4899a"/>
<rect x="104.5" y="688.5" width="9.7" height="15.5" fill="#89a9c9"/>
<rect x="126.3" y="702.6" width="9.7" height="1.4" fill="#e4899a"/>
<rect x="140" y="702.6" width="10" height="1.4" fill="#89a9c9"/>
<line x1="60.9" y1="650.5" x2="60.9" y2="646.5" stroke="#1a1a1a" stroke-width="0.9"/>
<line x1="58.6" y1="646.5" x2="63.199999999999996" y2="646.5" stroke="#1a1a1a" stroke-width="0.9"/>
<line x1="74" y1="627" x2="74" y2="625.5" stroke="#1a1a1a" stroke-width="0.9"/>
<line x1="71.7" y1="625.5" x2="76.3" y2="625.5" stroke="#1a1a1a" stroke-width="0.9"/>
<line x1="95.5" y1="666" x2="95.5" y2="661.5" stroke="#1a1a1a" stroke-width="0.9"/>
<line x1="93.2" y1="661.5" x2="97.8" y2="661.5" stroke="#1a1a1a" stroke-width="0.9"/>
<line x1="109.3" y1="688.6" x2="109.3" y2="686" stroke="#1a1a1a" stroke-width="0.9"/>
<line x1="107.0" y1="686" x2="111.6" y2="686" stroke="#1a1a1a" stroke-width="0.9"/>
<circle cx="60.9" cy="642.5" r="1.2" fill="#b30d2e"/>
<circle cx="58.5" cy="649.5" r="1.2" fill="#b30d2e"/>
<circle cx="63" cy="650" r="1.2" fill="#b30d2e"/>
<circle cx="58.5" cy="655.5" r="1.2" fill="#b30d2e"/>
<circle cx="63" cy="655" r="1.2" fill="#b30d2e"/>
<circle cx="60.9" cy="659.5" r="1.2" fill="#b30d2e"/>
<circle cx="70.5" cy="626" r="1.2" fill="#173f68"/>
<circle cx="74" cy="625" r="1.2" fill="#173f68"/>
<circle cx="77.5" cy="625.5" r="1.2" fill="#173f68"/>
<circle cx="72" cy="628.5" r="1.2" fill="#173f68"/>
<circle cx="76" cy="628.5" r="1.2" fill="#173f68"/>
<circle cx="95.5" cy="658.5" r="1.2" fill="#b30d2e"/>
<circle cx="93" cy="662" r="1.2" fill="#b30d2e"/>
<circle cx="98" cy="662" r="1.2" fill="#b30d2e"/>
<circle cx="95.5" cy="666" r="1.2" fill="#b30d2e"/>
<circle cx="93.5" cy="670" r="1.2" fill="#b30d2e"/>
<circle cx="97" cy="672" r="1.2" fill="#b30d2e"/>
<circle cx="106.5" cy="686.5" r="1.2" fill="#173f68"/>
<circle cx="110" cy="686" r="1.2" fill="#173f68"/>
<circle cx="113" cy="687" r="1.2" fill="#173f68"/>
<circle cx="107" cy="690.5" r="1.2" fill="#173f68"/>
<circle cx="112" cy="691" r="1.2" fill="#173f68"/>
<circle cx="128" cy="703" r="0.9" fill="#b30d2e"/>
<circle cx="131" cy="703" r="0.9" fill="#b30d2e"/>
<circle cx="134" cy="703" r="0.9" fill="#b30d2e"/>
<circle cx="142" cy="703" r="0.9" fill="#173f68"/>
<circle cx="145" cy="703" r="0.9" fill="#173f68"/>
<circle cx="148" cy="703" r="0.9" fill="#173f68"/>
<line x1="52" y1="609" x2="52" y2="704" stroke="#1a1a1a" stroke-width="1.0"/>
<line x1="49.8" y1="612.5" x2="52" y2="612.5" stroke="#1a1a1a" stroke-width="0.9"/>
<text x="46" y="615.25" font-size="7.7" text-anchor="end" fill="#222">100</text>
<line x1="49.8" y1="630.8" x2="52" y2="630.8" stroke="#1a1a1a" stroke-width="0.9"/>
<text x="46" y="633.55" font-size="7.7" text-anchor="end" fill="#222">80</text>
<line x1="49.8" y1="648.8" x2="52" y2="648.8" stroke="#1a1a1a" stroke-width="0.9"/>
<text x="46" y="651.55" font-size="7.7" text-anchor="end" fill="#222">60</text>
<line x1="49.8" y1="667.2" x2="52" y2="667.2" stroke="#1a1a1a" stroke-width="0.9"/>
<text x="46" y="669.95" font-size="7.7" text-anchor="end" fill="#222">40</text>
<line x1="49.8" y1="685.5" x2="52" y2="685.5" stroke="#1a1a1a" stroke-width="0.9"/>
<text x="46" y="688.25" font-size="7.7" text-anchor="end" fill="#222">20</text>
<line x1="49.8" y1="704" x2="52" y2="704" stroke="#1a1a1a" stroke-width="0.9"/>
<text x="46" y="706.75" font-size="7.7" text-anchor="end" fill="#222">0</text>
<line x1="52" y1="704" x2="152.5" y2="704" stroke="#1a1a1a" stroke-width="1.0"/>
<line x1="67.5" y1="704" x2="67.5" y2="706.2" stroke="#1a1a1a" stroke-width="0.9"/>
<line x1="102.3" y1="704" x2="102.3" y2="706.2" stroke="#1a1a1a" stroke-width="0.9"/>
<line x1="138.2" y1="704" x2="138.2" y2="706.2" stroke="#1a1a1a" stroke-width="0.9"/>
<path d="M61.00,638.40 L61.00,616.00 L74.00,616.00 L74.00,622.90" fill="none" stroke="#1a1a1a" stroke-width="0.9"/>
<text x="67.5" y="617.0" font-size="9.2" text-anchor="middle" fill="#222">****</text>
<path d="M95.50,657.50 L95.50,643.60 L109.30,643.60 L109.30,683.40" fill="none" stroke="#1a1a1a" stroke-width="0.9"/>
<text x="102.4" y="644.6" font-size="9.2" text-anchor="middle" fill="#222">****</text>
<path d="M130.80,699.00 L130.80,692.00 L144.60,692.00 L144.60,699.00" fill="none" stroke="#1a1a1a" stroke-width="0.9"/>
<text x="137.7" y="690.2" font-size="7.4" text-anchor="middle" fill="#222">ns</text>
<rect x="117.6" y="613" width="4.6" height="4.6" fill="#c8102e"/>
<rect x="117.6" y="623" width="4.6" height="4.6" fill="#2e6aa0"/>
<text x="124.39999999999999" y="617.3000000000001" font-size="7.4" fill="#222">MHCII<tspan dy="-2.4" font-size="4.3">lo</tspan><tspan dy="2.4"></tspan></text>
<text x="124.39999999999999" y="627.3000000000001" font-size="7.4" fill="#222">MHCII<tspan dy="-2.4" font-size="4.3">hi</tspan><tspan dy="2.4"></tspan></text>
<text x="67.5" y="716" font-size="8.4" text-anchor="middle" fill="#222">G<tspan dy="1.9" font-size="5.6">0</tspan></text>
<text x="102" y="716" font-size="8.4" text-anchor="middle" fill="#222">G<tspan dy="1.9" font-size="5.6">1</tspan></text>
<text x="138.5" y="716" font-size="8.4" text-anchor="middle" fill="#222">S-G<tspan dy="1.9" font-size="5.6">2</tspan><tspan dy="-1.9">-M</tspan></text>
<text x="13.2" y="655.7" font-size="7.6" text-anchor="middle" fill="#222" transform="rotate(-90 13.2 655.7)" textLength="70.8" lengthAdjust="spacingAndGlyphs">Proportion of cells in</text>
<text x="21.8" y="655.7" font-size="7.6" text-anchor="middle" fill="#222" transform="rotate(-90 21.8 655.7)" textLength="51.7" lengthAdjust="spacingAndGlyphs">cycle phase (%)</text>
<text x="181.5" y="608.5" font-size="11.3" text-anchor="start" font-weight="bold" fill="#000">L</text>
<rect x="225.6" y="640.6" width="8.3" height="63.0" fill="#e4899a"/>
<line x1="229.75" y1="632" x2="229.75" y2="640.6" stroke="#1a1a1a" stroke-width="0.9"/>
<line x1="226.75" y1="632" x2="232.75" y2="632" stroke="#1a1a1a" stroke-width="0.9"/>
<rect x="236.9" y="664.2" width="8.2" height="39.4" fill="#89a9c9"/>
<line x1="241.0" y1="654.9" x2="241.0" y2="664.2" stroke="#1a1a1a" stroke-width="0.9"/>
<line x1="238.0" y1="654.9" x2="244.0" y2="654.9" stroke="#1a1a1a" stroke-width="0.9"/>
<rect x="255.6" y="624.5" width="8.3" height="79.1" fill="#e4899a"/>
<line x1="259.75" y1="619.2" x2="259.75" y2="624.5" stroke="#1a1a1a" stroke-width="0.9"/>
<line x1="256.75" y1="619.2" x2="262.75" y2="619.2" stroke="#1a1a1a" stroke-width="0.9"/>
<rect x="266.9" y="665.7" width="8.2" height="37.9" fill="#89a9c9"/>
<line x1="271.0" y1="654.9" x2="271.0" y2="665.7" stroke="#1a1a1a" stroke-width="0.9"/>
<line x1="268.0" y1="654.9" x2="274.0" y2="654.9" stroke="#1a1a1a" stroke-width="0.9"/>
<rect x="284.9" y="625.6" width="8.2" height="78.0" fill="#e4899a"/>
<line x1="289.0" y1="620" x2="289.0" y2="625.6" stroke="#1a1a1a" stroke-width="0.9"/>
<line x1="286.0" y1="620" x2="292.0" y2="620" stroke="#1a1a1a" stroke-width="0.9"/>
<rect x="295.7" y="665.7" width="8.7" height="37.9" fill="#89a9c9"/>
<line x1="300.04999999999995" y1="653" x2="300.04999999999995" y2="665.7" stroke="#1a1a1a" stroke-width="0.9"/>
<line x1="297.04999999999995" y1="653" x2="303.04999999999995" y2="653" stroke="#1a1a1a" stroke-width="0.9"/>
<rect x="314.5" y="647" width="8.6" height="56.6" fill="#e4899a"/>
<line x1="318.8" y1="635" x2="318.8" y2="647" stroke="#1a1a1a" stroke-width="0.9"/>
<line x1="315.8" y1="635" x2="321.8" y2="635" stroke="#1a1a1a" stroke-width="0.9"/>
<rect x="325.7" y="662" width="8.7" height="41.6" fill="#89a9c9"/>
<line x1="330.04999999999995" y1="650" x2="330.04999999999995" y2="662" stroke="#1a1a1a" stroke-width="0.9"/>
<line x1="327.04999999999995" y1="650" x2="333.04999999999995" y2="650" stroke="#1a1a1a" stroke-width="0.9"/>
<rect x="344.5" y="664.2" width="8.0" height="39.4" fill="#e4899a"/>
<line x1="348.5" y1="653.7" x2="348.5" y2="664.2" stroke="#1a1a1a" stroke-width="0.9"/>
<line x1="345.5" y1="653.7" x2="351.5" y2="653.7" stroke="#1a1a1a" stroke-width="0.9"/>
<rect x="355.7" y="668.7" width="7.9" height="34.9" fill="#89a9c9"/>
<line x1="359.65" y1="658.6" x2="359.65" y2="668.7" stroke="#1a1a1a" stroke-width="0.9"/>
<line x1="356.65" y1="658.6" x2="362.65" y2="658.6" stroke="#1a1a1a" stroke-width="0.9"/>
<line x1="221.9" y1="607" x2="221.9" y2="703.6" stroke="#1a1a1a" stroke-width="1.0"/>
<line x1="219.70000000000002" y1="611.4" x2="221.9" y2="611.4" stroke="#1a1a1a" stroke-width="0.9"/>
<text x="216" y="614.15" font-size="7.7" text-anchor="end" fill="#222">100</text>
<line x1="219.70000000000002" y1="657.5" x2="221.9" y2="657.5" stroke="#1a1a1a" stroke-width="0.9"/>
<text x="216" y="660.25" font-size="7.7" text-anchor="end" fill="#222">50</text>
<line x1="219.70000000000002" y1="703.6" x2="221.9" y2="703.6" stroke="#1a1a1a" stroke-width="0.9"/>
<text x="216" y="706.35" font-size="7.7" text-anchor="end" fill="#222">0</text>
<line x1="221.9" y1="703.6" x2="370" y2="703.6" stroke="#1a1a1a" stroke-width="1.0"/>
<path d="M259.70,619.00 L259.70,612.50 L271.00,612.50 L271.00,650.00" fill="none" stroke="#1a1a1a" stroke-width="0.9"/>
<text x="265.35" y="613.5" font-size="9.2" text-anchor="middle" fill="#222">***</text>
<path d="M289.40,620.00 L289.40,612.50 L300.00,612.50 L300.00,650.00" fill="none" stroke="#1a1a1a" stroke-width="0.9"/>
<text x="294.7" y="613.5" font-size="9.2" text-anchor="middle" fill="#222">*</text>
<text x="233.1" y="716.8" font-size="8" text-anchor="middle" fill="#222" textLength="18.7" lengthAdjust="spacingAndGlyphs">Total</text>
<text x="263.7" y="716.8" font-size="8" text-anchor="middle" fill="#222" textLength="36.4" lengthAdjust="spacingAndGlyphs">Mon-Neu</text>
<text x="299.1" y="716.8" font-size="8" text-anchor="middle" fill="#222" textLength="33" lengthAdjust="spacingAndGlyphs">Mac-Gra</text>
<text x="326.5" y="716.8" font-size="8" text-anchor="middle" fill="#222" textLength="19.5" lengthAdjust="spacingAndGlyphs">B-cell</text>
<text x="352.7" y="716.8" font-size="8" text-anchor="middle" fill="#222" textLength="19.5" lengthAdjust="spacingAndGlyphs">T-cell</text>
<text x="195.8" y="659.4" font-size="7.8" text-anchor="middle" fill="#222" transform="rotate(-90 195.8 659.4)" textLength="67.5" lengthAdjust="spacingAndGlyphs">Donor chimerism (%)</text>
<rect x="327" y="609" width="4.6" height="4.6" fill="#c8102e"/>
<rect x="327" y="617.8" width="4.6" height="4.6" fill="#2e6aa0"/>
<text x="333.8" y="613.3000000000001" font-size="7.3" fill="#222">MHCII<tspan dy="-2.4" font-size="4.3">lo</tspan><tspan dy="2.4"> <tspan font-size="6.2">n=6</tspan></tspan></text>
<text x="333.8" y="622.1" font-size="7.3" fill="#222">MHCII<tspan dy="-2.4" font-size="4.3">hi</tspan><tspan dy="2.4"> <tspan font-size="6.2">n=7</tspan></tspan></text>
<text x="403" y="608" font-size="11.3" text-anchor="start" font-weight="bold" fill="#000">M</text>
<rect x="460.4" y="628.5" width="20.4" height="75.7" fill="#e4899a"/>
<rect x="490.4" y="671.5" width="20.0" height="32.7" fill="#89a9c9"/>
<line x1="470.6" y1="628.5" x2="470.6" y2="625.4" stroke="#1a1a1a" stroke-width="0.9"/>
<line x1="466.1" y1="625.4" x2="475.1" y2="625.4" stroke="#1a1a1a" stroke-width="0.9"/>
<line x1="500.4" y1="671.5" x2="500.4" y2="660.4" stroke="#1a1a1a" stroke-width="0.9"/>
<line x1="495.9" y1="660.4" x2="504.9" y2="660.4" stroke="#1a1a1a" stroke-width="0.9"/>
<circle cx="468" cy="620" r="1.4" fill="#b30d2e"/>
<circle cx="473.8" cy="620" r="1.4" fill="#b30d2e"/>
<circle cx="470.6" cy="624" r="1.4" fill="#b30d2e"/>
<circle cx="465.4" cy="631.5" r="1.4" fill="#b30d2e"/>
<circle cx="476" cy="631.5" r="1.4" fill="#b30d2e"/>
<circle cx="466" cy="638" r="1.4" fill="#b30d2e"/>
<circle cx="475" cy="638" r="1.4" fill="#b30d2e"/>
<circle cx="500" cy="631.5" r="1.4" fill="#173f68"/>
<circle cx="500" cy="640" r="1.4" fill="#173f68"/>
<circle cx="492.3" cy="680.4" r="1.4" fill="#173f68"/>
<circle cx="501.5" cy="681.5" r="1.4" fill="#173f68"/>
<circle cx="500" cy="701.5" r="1.4" fill="#173f68"/>
<line x1="448" y1="607.3" x2="448" y2="704.2" stroke="#1a1a1a" stroke-width="1.0"/>
<line x1="445.8" y1="611.2" x2="448" y2="611.2" stroke="#1a1a1a" stroke-width="0.9"/>
<text x="442" y="613.95" font-size="7.7" text-anchor="end" fill="#222">100</text>
<line x1="445.8" y1="630.4" x2="448" y2="630.4" stroke="#1a1a1a" stroke-width="0.9"/>
<text x="442" y="633.15" font-size="7.7" text-anchor="end" fill="#222">80</text>
<line x1="445.8" y1="648.8" x2="448" y2="648.8" stroke="#1a1a1a" stroke-width="0.9"/>
<text x="442" y="651.55" font-size="7.7" text-anchor="end" fill="#222">60</text>
<line x1="445.8" y1="667" x2="448" y2="667" stroke="#1a1a1a" stroke-width="0.9"/>
<text x="442" y="669.75" font-size="7.7" text-anchor="end" fill="#222">40</text>
<line x1="445.8" y1="686" x2="448" y2="686" stroke="#1a1a1a" stroke-width="0.9"/>
<text x="442" y="688.75" font-size="7.7" text-anchor="end" fill="#222">20</text>
<line x1="445.8" y1="704.2" x2="448" y2="704.2" stroke="#1a1a1a" stroke-width="0.9"/>
<text x="442" y="706.95" font-size="7.7" text-anchor="end" fill="#222">0</text>
<line x1="448" y1="704.2" x2="520" y2="704.2" stroke="#1a1a1a" stroke-width="1.0"/>
<path d="M470.80,617.00 L470.80,612.30 L500.00,612.30 L500.00,628.50" fill="none" stroke="#1a1a1a" stroke-width="0.9"/>
<text x="485.4" y="613.3" font-size="9.2" text-anchor="middle" fill="#222">**</text>
<text x="471.9" y="718" font-size="8.3" text-anchor="middle" fill="#222">MHCII<tspan dy="-3" font-size="5.2">lo</tspan></text>
<text x="500.8" y="718" font-size="8.3" text-anchor="middle" fill="#222">MHCII<tspan dy="-3" font-size="5.2">hi</tspan></text>
<text x="426.6" y="660" font-size="7.6" text-anchor="middle" fill="#222" transform="rotate(-90 426.6 660)" textLength="82.7" lengthAdjust="spacingAndGlyphs">ESLAM donor chimerism (%)</text>
</svg>
</body></html>
